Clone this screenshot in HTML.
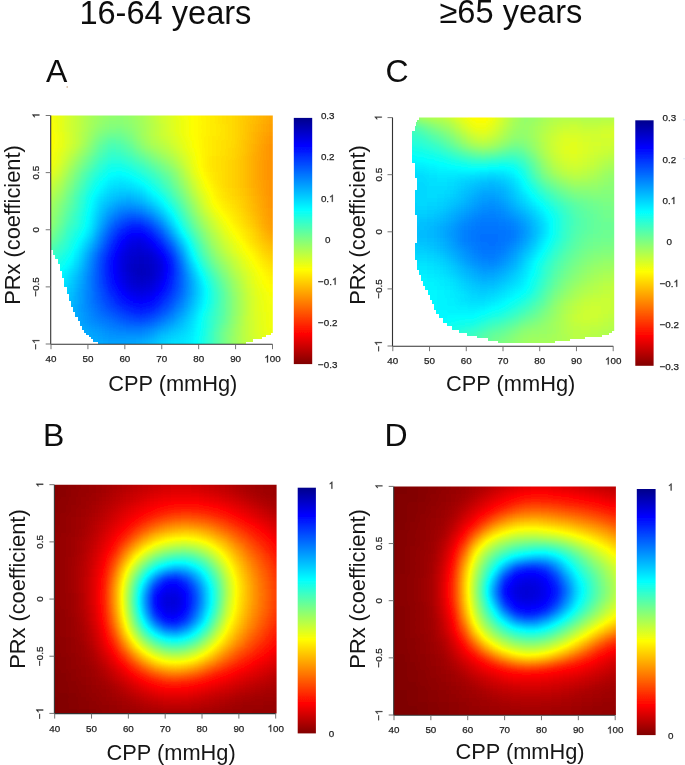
<!DOCTYPE html>
<html><head><meta charset="utf-8"><title>Figure</title>
<style>
html,body{margin:0;padding:0;background:#fff}
svg{display:block}
text{font-family:"Liberation Sans", sans-serif;fill:#111}
.t{font-size:9.8px;fill:#222;stroke:#222;stroke-width:0.25px}
.h{fill:none;stroke:none}
.o{fill:#222;stroke:#222;stroke-width:50}
.ax{font-size:21.8px;fill:#151515}
.big{font-size:32px;fill:#111}
.ttl{font-size:32.6px;fill:#111}
</style></head><body>
<svg width="685" height="765" viewBox="0 0 685 765">
<defs>
<filter id="soft" filterUnits="userSpaceOnUse" x="0" y="0" width="685" height="765"><feGaussianBlur stdDeviation="0.6"/></filter>
<filter id="soft2" filterUnits="userSpaceOnUse" x="0" y="0" width="685" height="765"><feGaussianBlur stdDeviation="0.4"/></filter>
<filter id="jet" filterUnits="userSpaceOnUse" x="0" y="0" width="685" height="765" color-interpolation-filters="sRGB"><feGaussianBlur stdDeviation="2"/><feComponentTransfer><feFuncR type="table" tableValues="0 0 0 0 .5 1 1 1 .5"/><feFuncG type="table" tableValues="0 0 .5 1 1 1 .5 0 0"/><feFuncB type="table" tableValues=".5 1 1 1 .5 0 0 0 0"/></feComponentTransfer></filter>
<clipPath id="clipA"><rect x="51" y="115.5" width="221.8" height="228.5"/></clipPath>
<linearGradient id="gA0"><stop offset="0" stop-color="#a3a3a3"/><stop offset=".0417" stop-color="#9e9e9e"/><stop offset=".0833" stop-color="#999999"/><stop offset=".125" stop-color="#949494"/><stop offset=".1667" stop-color="#8f8f8f"/><stop offset=".2083" stop-color="#8b8b8b"/><stop offset=".25" stop-color="#888888"/><stop offset=".2917" stop-color="#858585"/><stop offset=".3333" stop-color="#858585"/><stop offset=".375" stop-color="#878787"/><stop offset=".4167" stop-color="#8a8a8a"/><stop offset=".4583" stop-color="#8e8e8e"/><stop offset=".5" stop-color="#939393"/><stop offset=".5417" stop-color="#989898"/><stop offset=".5833" stop-color="#9c9c9c"/><stop offset=".625" stop-color="#9f9f9f"/><stop offset=".6667" stop-color="#a2a2a2"/><stop offset=".7083" stop-color="#a5a5a5"/><stop offset=".75" stop-color="#a7a7a7"/><stop offset=".7917" stop-color="#a9a9a9"/><stop offset=".8333" stop-color="#acacac"/><stop offset=".875" stop-color="#afafaf"/><stop offset=".9167" stop-color="#b2b2b2"/><stop offset=".9583" stop-color="#b4b4b4"/><stop offset="1" stop-color="#b7b7b7"/></linearGradient>
<linearGradient id="gA1"><stop offset="0" stop-color="#a3a3a3"/><stop offset=".0417" stop-color="#9f9f9f"/><stop offset=".0833" stop-color="#999999"/><stop offset=".125" stop-color="#949494"/><stop offset=".1667" stop-color="#8f8f8f"/><stop offset=".2083" stop-color="#8b8b8b"/><stop offset=".25" stop-color="#878787"/><stop offset=".2917" stop-color="#858585"/><stop offset=".3333" stop-color="#858585"/><stop offset=".375" stop-color="#868686"/><stop offset=".4167" stop-color="#8a8a8a"/><stop offset=".4583" stop-color="#8e8e8e"/><stop offset=".5" stop-color="#939393"/><stop offset=".5417" stop-color="#989898"/><stop offset=".5833" stop-color="#9c9c9c"/><stop offset=".625" stop-color="#9f9f9f"/><stop offset=".6667" stop-color="#a2a2a2"/><stop offset=".7083" stop-color="#a5a5a5"/><stop offset=".75" stop-color="#a7a7a7"/><stop offset=".7917" stop-color="#a9a9a9"/><stop offset=".8333" stop-color="#acacac"/><stop offset=".875" stop-color="#afafaf"/><stop offset=".9167" stop-color="#b2b2b2"/><stop offset=".9583" stop-color="#b5b5b5"/><stop offset="1" stop-color="#b7b7b7"/></linearGradient>
<linearGradient id="gA2"><stop offset="0" stop-color="#a3a3a3"/><stop offset=".0417" stop-color="#9f9f9f"/><stop offset=".0833" stop-color="#999999"/><stop offset=".125" stop-color="#949494"/><stop offset=".1667" stop-color="#8f8f8f"/><stop offset=".2083" stop-color="#8a8a8a"/><stop offset=".25" stop-color="#878787"/><stop offset=".2917" stop-color="#848484"/><stop offset=".3333" stop-color="#848484"/><stop offset=".375" stop-color="#868686"/><stop offset=".4167" stop-color="#898989"/><stop offset=".4583" stop-color="#8e8e8e"/><stop offset=".5" stop-color="#939393"/><stop offset=".5417" stop-color="#989898"/><stop offset=".5833" stop-color="#9c9c9c"/><stop offset=".625" stop-color="#9f9f9f"/><stop offset=".6667" stop-color="#a2a2a2"/><stop offset=".7083" stop-color="#a5a5a5"/><stop offset=".75" stop-color="#a7a7a7"/><stop offset=".7917" stop-color="#a9a9a9"/><stop offset=".8333" stop-color="#acacac"/><stop offset=".875" stop-color="#b0b0b0"/><stop offset=".9167" stop-color="#b3b3b3"/><stop offset=".9583" stop-color="#b6b6b6"/><stop offset="1" stop-color="#b8b8b8"/></linearGradient>
<linearGradient id="gA3"><stop offset="0" stop-color="#a3a3a3"/><stop offset=".0417" stop-color="#9f9f9f"/><stop offset=".0833" stop-color="#9a9a9a"/><stop offset=".125" stop-color="#949494"/><stop offset=".1667" stop-color="#8f8f8f"/><stop offset=".2083" stop-color="#8a8a8a"/><stop offset=".25" stop-color="#868686"/><stop offset=".2917" stop-color="#848484"/><stop offset=".3333" stop-color="#838383"/><stop offset=".375" stop-color="#858585"/><stop offset=".4167" stop-color="#898989"/><stop offset=".4583" stop-color="#8e8e8e"/><stop offset=".5" stop-color="#939393"/><stop offset=".5417" stop-color="#979797"/><stop offset=".5833" stop-color="#9c9c9c"/><stop offset=".625" stop-color="#9f9f9f"/><stop offset=".6667" stop-color="#a2a2a2"/><stop offset=".7083" stop-color="#a4a4a4"/><stop offset=".75" stop-color="#a7a7a7"/><stop offset=".7917" stop-color="#a9a9a9"/><stop offset=".8333" stop-color="#acacac"/><stop offset=".875" stop-color="#b0b0b0"/><stop offset=".9167" stop-color="#b3b3b3"/><stop offset=".9583" stop-color="#b6b6b6"/><stop offset="1" stop-color="#b8b8b8"/></linearGradient>
<linearGradient id="gA4"><stop offset="0" stop-color="#a4a4a4"/><stop offset=".0417" stop-color="#9f9f9f"/><stop offset=".0833" stop-color="#9a9a9a"/><stop offset=".125" stop-color="#949494"/><stop offset=".1667" stop-color="#8f8f8f"/><stop offset=".2083" stop-color="#898989"/><stop offset=".25" stop-color="#858585"/><stop offset=".2917" stop-color="#828282"/><stop offset=".3333" stop-color="#828282"/><stop offset=".375" stop-color="#848484"/><stop offset=".4167" stop-color="#888888"/><stop offset=".4583" stop-color="#8d8d8d"/><stop offset=".5" stop-color="#939393"/><stop offset=".5417" stop-color="#979797"/><stop offset=".5833" stop-color="#9b9b9b"/><stop offset=".625" stop-color="#9f9f9f"/><stop offset=".6667" stop-color="#a2a2a2"/><stop offset=".7083" stop-color="#a4a4a4"/><stop offset=".75" stop-color="#a7a7a7"/><stop offset=".7917" stop-color="#a9a9a9"/><stop offset=".8333" stop-color="#adadad"/><stop offset=".875" stop-color="#b0b0b0"/><stop offset=".9167" stop-color="#b4b4b4"/><stop offset=".9583" stop-color="#b7b7b7"/><stop offset="1" stop-color="#b9b9b9"/></linearGradient>
<linearGradient id="gA5"><stop offset="0" stop-color="#a4a4a4"/><stop offset=".0417" stop-color="#a0a0a0"/><stop offset=".0833" stop-color="#9a9a9a"/><stop offset=".125" stop-color="#949494"/><stop offset=".1667" stop-color="#8f8f8f"/><stop offset=".2083" stop-color="#898989"/><stop offset=".25" stop-color="#848484"/><stop offset=".2917" stop-color="#818181"/><stop offset=".3333" stop-color="#818181"/><stop offset=".375" stop-color="#838383"/><stop offset=".4167" stop-color="#888888"/><stop offset=".4583" stop-color="#8d8d8d"/><stop offset=".5" stop-color="#929292"/><stop offset=".5417" stop-color="#979797"/><stop offset=".5833" stop-color="#9b9b9b"/><stop offset=".625" stop-color="#9f9f9f"/><stop offset=".6667" stop-color="#a2a2a2"/><stop offset=".7083" stop-color="#a4a4a4"/><stop offset=".75" stop-color="#a6a6a6"/><stop offset=".7917" stop-color="#a9a9a9"/><stop offset=".8333" stop-color="#adadad"/><stop offset=".875" stop-color="#b1b1b1"/><stop offset=".9167" stop-color="#b5b5b5"/><stop offset=".9583" stop-color="#b8b8b8"/><stop offset="1" stop-color="#b9b9b9"/></linearGradient>
<linearGradient id="gA6"><stop offset="0" stop-color="#a4a4a4"/><stop offset=".0417" stop-color="#a0a0a0"/><stop offset=".0833" stop-color="#9a9a9a"/><stop offset=".125" stop-color="#949494"/><stop offset=".1667" stop-color="#8f8f8f"/><stop offset=".2083" stop-color="#888888"/><stop offset=".25" stop-color="#828282"/><stop offset=".2917" stop-color="#7f7f7f"/><stop offset=".3333" stop-color="#7e7e7e"/><stop offset=".375" stop-color="#828282"/><stop offset=".4167" stop-color="#878787"/><stop offset=".4583" stop-color="#8d8d8d"/><stop offset=".5" stop-color="#929292"/><stop offset=".5417" stop-color="#979797"/><stop offset=".5833" stop-color="#9b9b9b"/><stop offset=".625" stop-color="#9f9f9f"/><stop offset=".6667" stop-color="#a2a2a2"/><stop offset=".7083" stop-color="#a4a4a4"/><stop offset=".75" stop-color="#a6a6a6"/><stop offset=".7917" stop-color="#a9a9a9"/><stop offset=".8333" stop-color="#adadad"/><stop offset=".875" stop-color="#b1b1b1"/><stop offset=".9167" stop-color="#b5b5b5"/><stop offset=".9583" stop-color="#b8b8b8"/><stop offset="1" stop-color="#bababa"/></linearGradient>
<linearGradient id="gA7"><stop offset="0" stop-color="#a4a4a4"/><stop offset=".0417" stop-color="#a0a0a0"/><stop offset=".0833" stop-color="#9b9b9b"/><stop offset=".125" stop-color="#959595"/><stop offset=".1667" stop-color="#8e8e8e"/><stop offset=".2083" stop-color="#878787"/><stop offset=".25" stop-color="#808080"/><stop offset=".2917" stop-color="#7c7c7c"/><stop offset=".3333" stop-color="#7c7c7c"/><stop offset=".375" stop-color="#808080"/><stop offset=".4167" stop-color="#878787"/><stop offset=".4583" stop-color="#8d8d8d"/><stop offset=".5" stop-color="#929292"/><stop offset=".5417" stop-color="#969696"/><stop offset=".5833" stop-color="#9b9b9b"/><stop offset=".625" stop-color="#9f9f9f"/><stop offset=".6667" stop-color="#a2a2a2"/><stop offset=".7083" stop-color="#a4a4a4"/><stop offset=".75" stop-color="#a6a6a6"/><stop offset=".7917" stop-color="#a9a9a9"/><stop offset=".8333" stop-color="#adadad"/><stop offset=".875" stop-color="#b2b2b2"/><stop offset=".9167" stop-color="#b6b6b6"/><stop offset=".9583" stop-color="#b9b9b9"/><stop offset="1" stop-color="#bbbbbb"/></linearGradient>
<linearGradient id="gA8"><stop offset="0" stop-color="#a4a4a4"/><stop offset=".0417" stop-color="#a1a1a1"/><stop offset=".0833" stop-color="#9b9b9b"/><stop offset=".125" stop-color="#959595"/><stop offset=".1667" stop-color="#8e8e8e"/><stop offset=".2083" stop-color="#868686"/><stop offset=".25" stop-color="#7d7d7d"/><stop offset=".2917" stop-color="#787878"/><stop offset=".3333" stop-color="#797979"/><stop offset=".375" stop-color="#7e7e7e"/><stop offset=".4167" stop-color="#868686"/><stop offset=".4583" stop-color="#8c8c8c"/><stop offset=".5" stop-color="#919191"/><stop offset=".5417" stop-color="#959595"/><stop offset=".5833" stop-color="#9a9a9a"/><stop offset=".625" stop-color="#9f9f9f"/><stop offset=".6667" stop-color="#a2a2a2"/><stop offset=".7083" stop-color="#a5a5a5"/><stop offset=".75" stop-color="#a6a6a6"/><stop offset=".7917" stop-color="#a9a9a9"/><stop offset=".8333" stop-color="#adadad"/><stop offset=".875" stop-color="#b2b2b2"/><stop offset=".9167" stop-color="#b7b7b7"/><stop offset=".9583" stop-color="#bababa"/><stop offset="1" stop-color="#bbbbbb"/></linearGradient>
<linearGradient id="gA9"><stop offset="0" stop-color="#a4a4a4"/><stop offset=".0417" stop-color="#a1a1a1"/><stop offset=".0833" stop-color="#9b9b9b"/><stop offset=".125" stop-color="#959595"/><stop offset=".1667" stop-color="#8e8e8e"/><stop offset=".2083" stop-color="#848484"/><stop offset=".25" stop-color="#7b7b7b"/><stop offset=".2917" stop-color="#757575"/><stop offset=".3333" stop-color="#767676"/><stop offset=".375" stop-color="#7c7c7c"/><stop offset=".4167" stop-color="#848484"/><stop offset=".4583" stop-color="#8b8b8b"/><stop offset=".5" stop-color="#8f8f8f"/><stop offset=".5417" stop-color="#949494"/><stop offset=".5833" stop-color="#999999"/><stop offset=".625" stop-color="#9e9e9e"/><stop offset=".6667" stop-color="#a2a2a2"/><stop offset=".7083" stop-color="#a5a5a5"/><stop offset=".75" stop-color="#a7a7a7"/><stop offset=".7917" stop-color="#a9a9a9"/><stop offset=".8333" stop-color="#aeaeae"/><stop offset=".875" stop-color="#b2b2b2"/><stop offset=".9167" stop-color="#b7b7b7"/><stop offset=".9583" stop-color="#bababa"/><stop offset="1" stop-color="#bbbbbb"/></linearGradient>
<linearGradient id="gA10"><stop offset="0" stop-color="#a3a3a3"/><stop offset=".0417" stop-color="#a0a0a0"/><stop offset=".0833" stop-color="#9b9b9b"/><stop offset=".125" stop-color="#949494"/><stop offset=".1667" stop-color="#8d8d8d"/><stop offset=".2083" stop-color="#828282"/><stop offset=".25" stop-color="#787878"/><stop offset=".2917" stop-color="#727272"/><stop offset=".3333" stop-color="#737373"/><stop offset=".375" stop-color="#797979"/><stop offset=".4167" stop-color="#828282"/><stop offset=".4583" stop-color="#898989"/><stop offset=".5" stop-color="#8d8d8d"/><stop offset=".5417" stop-color="#929292"/><stop offset=".5833" stop-color="#989898"/><stop offset=".625" stop-color="#9e9e9e"/><stop offset=".6667" stop-color="#a2a2a2"/><stop offset=".7083" stop-color="#a5a5a5"/><stop offset=".75" stop-color="#a7a7a7"/><stop offset=".7917" stop-color="#a9a9a9"/><stop offset=".8333" stop-color="#aeaeae"/><stop offset=".875" stop-color="#b3b3b3"/><stop offset=".9167" stop-color="#b8b8b8"/><stop offset=".9583" stop-color="#bbbbbb"/><stop offset="1" stop-color="#bcbcbc"/></linearGradient>
<linearGradient id="gA11"><stop offset="0" stop-color="#a3a3a3"/><stop offset=".0417" stop-color="#a0a0a0"/><stop offset=".0833" stop-color="#9a9a9a"/><stop offset=".125" stop-color="#939393"/><stop offset=".1667" stop-color="#8a8a8a"/><stop offset=".2083" stop-color="#808080"/><stop offset=".25" stop-color="#767676"/><stop offset=".2917" stop-color="#707070"/><stop offset=".3333" stop-color="#717171"/><stop offset=".375" stop-color="#767676"/><stop offset=".4167" stop-color="#7f7f7f"/><stop offset=".4583" stop-color="#868686"/><stop offset=".5" stop-color="#8b8b8b"/><stop offset=".5417" stop-color="#909090"/><stop offset=".5833" stop-color="#979797"/><stop offset=".625" stop-color="#9d9d9d"/><stop offset=".6667" stop-color="#a2a2a2"/><stop offset=".7083" stop-color="#a5a5a5"/><stop offset=".75" stop-color="#a7a7a7"/><stop offset=".7917" stop-color="#aaaaaa"/><stop offset=".8333" stop-color="#aeaeae"/><stop offset=".875" stop-color="#b3b3b3"/><stop offset=".9167" stop-color="#b8b8b8"/><stop offset=".9583" stop-color="#bbbbbb"/><stop offset="1" stop-color="#bcbcbc"/></linearGradient>
<linearGradient id="gA12"><stop offset="0" stop-color="#a2a2a2"/><stop offset=".0417" stop-color="#9f9f9f"/><stop offset=".0833" stop-color="#999999"/><stop offset=".125" stop-color="#919191"/><stop offset=".1667" stop-color="#888888"/><stop offset=".2083" stop-color="#7d7d7d"/><stop offset=".25" stop-color="#737373"/><stop offset=".2917" stop-color="#6d6d6d"/><stop offset=".3333" stop-color="#6e6e6e"/><stop offset=".375" stop-color="#737373"/><stop offset=".4167" stop-color="#7b7b7b"/><stop offset=".4583" stop-color="#828282"/><stop offset=".5" stop-color="#888888"/><stop offset=".5417" stop-color="#8e8e8e"/><stop offset=".5833" stop-color="#959595"/><stop offset=".625" stop-color="#9c9c9c"/><stop offset=".6667" stop-color="#a2a2a2"/><stop offset=".7083" stop-color="#a5a5a5"/><stop offset=".75" stop-color="#a7a7a7"/><stop offset=".7917" stop-color="#aaaaaa"/><stop offset=".8333" stop-color="#aeaeae"/><stop offset=".875" stop-color="#b4b4b4"/><stop offset=".9167" stop-color="#b8b8b8"/><stop offset=".9583" stop-color="#bbbbbb"/><stop offset="1" stop-color="#bcbcbc"/></linearGradient>
<linearGradient id="gA13"><stop offset="0" stop-color="#a1a1a1"/><stop offset=".0417" stop-color="#9f9f9f"/><stop offset=".0833" stop-color="#989898"/><stop offset=".125" stop-color="#8f8f8f"/><stop offset=".1667" stop-color="#858585"/><stop offset=".2083" stop-color="#7a7a7a"/><stop offset=".25" stop-color="#717171"/><stop offset=".2917" stop-color="#6b6b6b"/><stop offset=".3333" stop-color="#6b6b6b"/><stop offset=".375" stop-color="#707070"/><stop offset=".4167" stop-color="#777777"/><stop offset=".4583" stop-color="#7e7e7e"/><stop offset=".5" stop-color="#848484"/><stop offset=".5417" stop-color="#8b8b8b"/><stop offset=".5833" stop-color="#939393"/><stop offset=".625" stop-color="#9b9b9b"/><stop offset=".6667" stop-color="#a2a2a2"/><stop offset=".7083" stop-color="#a6a6a6"/><stop offset=".75" stop-color="#a8a8a8"/><stop offset=".7917" stop-color="#aaaaaa"/><stop offset=".8333" stop-color="#afafaf"/><stop offset=".875" stop-color="#b4b4b4"/><stop offset=".9167" stop-color="#b8b8b8"/><stop offset=".9583" stop-color="#bbbbbb"/><stop offset="1" stop-color="#bcbcbc"/></linearGradient>
<linearGradient id="gA14"><stop offset="0" stop-color="#a0a0a0"/><stop offset=".0417" stop-color="#9e9e9e"/><stop offset=".0833" stop-color="#979797"/><stop offset=".125" stop-color="#8d8d8d"/><stop offset=".1667" stop-color="#828282"/><stop offset=".2083" stop-color="#787878"/><stop offset=".25" stop-color="#6e6e6e"/><stop offset=".2917" stop-color="#686868"/><stop offset=".3333" stop-color="#686868"/><stop offset=".375" stop-color="#6c6c6c"/><stop offset=".4167" stop-color="#737373"/><stop offset=".4583" stop-color="#7a7a7a"/><stop offset=".5" stop-color="#818181"/><stop offset=".5417" stop-color="#888888"/><stop offset=".5833" stop-color="#919191"/><stop offset=".625" stop-color="#9a9a9a"/><stop offset=".6667" stop-color="#a2a2a2"/><stop offset=".7083" stop-color="#a6a6a6"/><stop offset=".75" stop-color="#a8a8a8"/><stop offset=".7917" stop-color="#ababab"/><stop offset=".8333" stop-color="#afafaf"/><stop offset=".875" stop-color="#b4b4b4"/><stop offset=".9167" stop-color="#b9b9b9"/><stop offset=".9583" stop-color="#bbbbbb"/><stop offset="1" stop-color="#bcbcbc"/></linearGradient>
<linearGradient id="gA15"><stop offset="0" stop-color="#9f9f9f"/><stop offset=".0417" stop-color="#9d9d9d"/><stop offset=".0833" stop-color="#959595"/><stop offset=".125" stop-color="#8b8b8b"/><stop offset=".1667" stop-color="#7f7f7f"/><stop offset=".2083" stop-color="#757575"/><stop offset=".25" stop-color="#6b6b6b"/><stop offset=".2917" stop-color="#656565"/><stop offset=".3333" stop-color="#656565"/><stop offset=".375" stop-color="#696969"/><stop offset=".4167" stop-color="#6f6f6f"/><stop offset=".4583" stop-color="#767676"/><stop offset=".5" stop-color="#7d7d7d"/><stop offset=".5417" stop-color="#858585"/><stop offset=".5833" stop-color="#8f8f8f"/><stop offset=".625" stop-color="#999999"/><stop offset=".6667" stop-color="#a2a2a2"/><stop offset=".7083" stop-color="#a6a6a6"/><stop offset=".75" stop-color="#a8a8a8"/><stop offset=".7917" stop-color="#ababab"/><stop offset=".8333" stop-color="#afafaf"/><stop offset=".875" stop-color="#b4b4b4"/><stop offset=".9167" stop-color="#b9b9b9"/><stop offset=".9583" stop-color="#bbbbbb"/><stop offset="1" stop-color="#bcbcbc"/></linearGradient>
<linearGradient id="gA16"><stop offset="0" stop-color="#9e9e9e"/><stop offset=".0417" stop-color="#9b9b9b"/><stop offset=".0833" stop-color="#949494"/><stop offset=".125" stop-color="#888888"/><stop offset=".1667" stop-color="#7d7d7d"/><stop offset=".2083" stop-color="#727272"/><stop offset=".25" stop-color="#696969"/><stop offset=".2917" stop-color="#636363"/><stop offset=".3333" stop-color="#626262"/><stop offset=".375" stop-color="#656565"/><stop offset=".4167" stop-color="#6b6b6b"/><stop offset=".4583" stop-color="#727272"/><stop offset=".5" stop-color="#797979"/><stop offset=".5417" stop-color="#818181"/><stop offset=".5833" stop-color="#8c8c8c"/><stop offset=".625" stop-color="#989898"/><stop offset=".6667" stop-color="#a1a1a1"/><stop offset=".7083" stop-color="#a6a6a6"/><stop offset=".75" stop-color="#a8a8a8"/><stop offset=".7917" stop-color="#ababab"/><stop offset=".8333" stop-color="#afafaf"/><stop offset=".875" stop-color="#b4b4b4"/><stop offset=".9167" stop-color="#b9b9b9"/><stop offset=".9583" stop-color="#bbbbbb"/><stop offset="1" stop-color="#bcbcbc"/></linearGradient>
<linearGradient id="gA17"><stop offset="0" stop-color="#9c9c9c"/><stop offset=".0417" stop-color="#9a9a9a"/><stop offset=".0833" stop-color="#929292"/><stop offset=".125" stop-color="#868686"/><stop offset=".1667" stop-color="#7a7a7a"/><stop offset=".2083" stop-color="#6f6f6f"/><stop offset=".25" stop-color="#666666"/><stop offset=".2917" stop-color="#606060"/><stop offset=".3333" stop-color="#5f5f5f"/><stop offset=".375" stop-color="#626262"/><stop offset=".4167" stop-color="#676767"/><stop offset=".4583" stop-color="#6e6e6e"/><stop offset=".5" stop-color="#767676"/><stop offset=".5417" stop-color="#7e7e7e"/><stop offset=".5833" stop-color="#8a8a8a"/><stop offset=".625" stop-color="#969696"/><stop offset=".6667" stop-color="#a0a0a0"/><stop offset=".7083" stop-color="#a5a5a5"/><stop offset=".75" stop-color="#a8a8a8"/><stop offset=".7917" stop-color="#ababab"/><stop offset=".8333" stop-color="#afafaf"/><stop offset=".875" stop-color="#b4b4b4"/><stop offset=".9167" stop-color="#b9b9b9"/><stop offset=".9583" stop-color="#bbbbbb"/><stop offset="1" stop-color="#bcbcbc"/></linearGradient>
<linearGradient id="gA18"><stop offset="0" stop-color="#9b9b9b"/><stop offset=".0417" stop-color="#989898"/><stop offset=".0833" stop-color="#8f8f8f"/><stop offset=".125" stop-color="#848484"/><stop offset=".1667" stop-color="#787878"/><stop offset=".2083" stop-color="#6d6d6d"/><stop offset=".25" stop-color="#646464"/><stop offset=".2917" stop-color="#5e5e5e"/><stop offset=".3333" stop-color="#5c5c5c"/><stop offset=".375" stop-color="#5f5f5f"/><stop offset=".4167" stop-color="#646464"/><stop offset=".4583" stop-color="#6a6a6a"/><stop offset=".5" stop-color="#727272"/><stop offset=".5417" stop-color="#7c7c7c"/><stop offset=".5833" stop-color="#888888"/><stop offset=".625" stop-color="#949494"/><stop offset=".6667" stop-color="#9f9f9f"/><stop offset=".7083" stop-color="#a5a5a5"/><stop offset=".75" stop-color="#a8a8a8"/><stop offset=".7917" stop-color="#ababab"/><stop offset=".8333" stop-color="#afafaf"/><stop offset=".875" stop-color="#b4b4b4"/><stop offset=".9167" stop-color="#b9b9b9"/><stop offset=".9583" stop-color="#bbbbbb"/><stop offset="1" stop-color="#bcbcbc"/></linearGradient>
<linearGradient id="gA19"><stop offset="0" stop-color="#999999"/><stop offset=".0417" stop-color="#959595"/><stop offset=".0833" stop-color="#8d8d8d"/><stop offset=".125" stop-color="#828282"/><stop offset=".1667" stop-color="#767676"/><stop offset=".2083" stop-color="#6a6a6a"/><stop offset=".25" stop-color="#616161"/><stop offset=".2917" stop-color="#5b5b5b"/><stop offset=".3333" stop-color="#595959"/><stop offset=".375" stop-color="#5b5b5b"/><stop offset=".4167" stop-color="#606060"/><stop offset=".4583" stop-color="#676767"/><stop offset=".5" stop-color="#6f6f6f"/><stop offset=".5417" stop-color="#797979"/><stop offset=".5833" stop-color="#858585"/><stop offset=".625" stop-color="#929292"/><stop offset=".6667" stop-color="#9d9d9d"/><stop offset=".7083" stop-color="#a4a4a4"/><stop offset=".75" stop-color="#a8a8a8"/><stop offset=".7917" stop-color="#ababab"/><stop offset=".8333" stop-color="#afafaf"/><stop offset=".875" stop-color="#b4b4b4"/><stop offset=".9167" stop-color="#b8b8b8"/><stop offset=".9583" stop-color="#bbbbbb"/><stop offset="1" stop-color="#bcbcbc"/></linearGradient>
<linearGradient id="gA20"><stop offset="0" stop-color="#989898"/><stop offset=".0417" stop-color="#939393"/><stop offset=".0833" stop-color="#8b8b8b"/><stop offset=".125" stop-color="#808080"/><stop offset=".1667" stop-color="#747474"/><stop offset=".2083" stop-color="#686868"/><stop offset=".25" stop-color="#5f5f5f"/><stop offset=".2917" stop-color="#595959"/><stop offset=".3333" stop-color="#575757"/><stop offset=".375" stop-color="#585858"/><stop offset=".4167" stop-color="#5d5d5d"/><stop offset=".4583" stop-color="#646464"/><stop offset=".5" stop-color="#6c6c6c"/><stop offset=".5417" stop-color="#777777"/><stop offset=".5833" stop-color="#838383"/><stop offset=".625" stop-color="#909090"/><stop offset=".6667" stop-color="#9c9c9c"/><stop offset=".7083" stop-color="#a3a3a3"/><stop offset=".75" stop-color="#a8a8a8"/><stop offset=".7917" stop-color="#ababab"/><stop offset=".8333" stop-color="#afafaf"/><stop offset=".875" stop-color="#b4b4b4"/><stop offset=".9167" stop-color="#b8b8b8"/><stop offset=".9583" stop-color="#bbbbbb"/><stop offset="1" stop-color="#bcbcbc"/></linearGradient>
<linearGradient id="gA21"><stop offset="0" stop-color="#969696"/><stop offset=".0417" stop-color="#919191"/><stop offset=".0833" stop-color="#898989"/><stop offset=".125" stop-color="#7e7e7e"/><stop offset=".1667" stop-color="#727272"/><stop offset=".2083" stop-color="#666666"/><stop offset=".25" stop-color="#5d5d5d"/><stop offset=".2917" stop-color="#565656"/><stop offset=".3333" stop-color="#545454"/><stop offset=".375" stop-color="#555555"/><stop offset=".4167" stop-color="#595959"/><stop offset=".4583" stop-color="#606060"/><stop offset=".5" stop-color="#696969"/><stop offset=".5417" stop-color="#747474"/><stop offset=".5833" stop-color="#808080"/><stop offset=".625" stop-color="#8e8e8e"/><stop offset=".6667" stop-color="#9a9a9a"/><stop offset=".7083" stop-color="#a2a2a2"/><stop offset=".75" stop-color="#a7a7a7"/><stop offset=".7917" stop-color="#aaaaaa"/><stop offset=".8333" stop-color="#aeaeae"/><stop offset=".875" stop-color="#b3b3b3"/><stop offset=".9167" stop-color="#b8b8b8"/><stop offset=".9583" stop-color="#bbbbbb"/><stop offset="1" stop-color="#bcbcbc"/></linearGradient>
<linearGradient id="gA22"><stop offset="0" stop-color="#959595"/><stop offset=".0417" stop-color="#8f8f8f"/><stop offset=".0833" stop-color="#878787"/><stop offset=".125" stop-color="#7c7c7c"/><stop offset=".1667" stop-color="#707070"/><stop offset=".2083" stop-color="#646464"/><stop offset=".25" stop-color="#5b5b5b"/><stop offset=".2917" stop-color="#545454"/><stop offset=".3333" stop-color="#515151"/><stop offset=".375" stop-color="#515151"/><stop offset=".4167" stop-color="#555555"/><stop offset=".4583" stop-color="#5d5d5d"/><stop offset=".5" stop-color="#666666"/><stop offset=".5417" stop-color="#717171"/><stop offset=".5833" stop-color="#7e7e7e"/><stop offset=".625" stop-color="#8c8c8c"/><stop offset=".6667" stop-color="#989898"/><stop offset=".7083" stop-color="#a1a1a1"/><stop offset=".75" stop-color="#a6a6a6"/><stop offset=".7917" stop-color="#aaaaaa"/><stop offset=".8333" stop-color="#aeaeae"/><stop offset=".875" stop-color="#b3b3b3"/><stop offset=".9167" stop-color="#b8b8b8"/><stop offset=".9583" stop-color="#bbbbbb"/><stop offset="1" stop-color="#bcbcbc"/></linearGradient>
<linearGradient id="gA23"><stop offset="0" stop-color="#939393"/><stop offset=".0417" stop-color="#8d8d8d"/><stop offset=".0833" stop-color="#858585"/><stop offset=".125" stop-color="#7a7a7a"/><stop offset=".1667" stop-color="#6e6e6e"/><stop offset=".2083" stop-color="#626262"/><stop offset=".25" stop-color="#585858"/><stop offset=".2917" stop-color="#515151"/><stop offset=".3333" stop-color="#4e4e4e"/><stop offset=".375" stop-color="#4d4d4d"/><stop offset=".4167" stop-color="#515151"/><stop offset=".4583" stop-color="#595959"/><stop offset=".5" stop-color="#626262"/><stop offset=".5417" stop-color="#6e6e6e"/><stop offset=".5833" stop-color="#7b7b7b"/><stop offset=".625" stop-color="#898989"/><stop offset=".6667" stop-color="#969696"/><stop offset=".7083" stop-color="#a0a0a0"/><stop offset=".75" stop-color="#a6a6a6"/><stop offset=".7917" stop-color="#a9a9a9"/><stop offset=".8333" stop-color="#adadad"/><stop offset=".875" stop-color="#b2b2b2"/><stop offset=".9167" stop-color="#b7b7b7"/><stop offset=".9583" stop-color="#bbbbbb"/><stop offset="1" stop-color="#bcbcbc"/></linearGradient>
<linearGradient id="gA24"><stop offset="0" stop-color="#929292"/><stop offset=".0417" stop-color="#8b8b8b"/><stop offset=".0833" stop-color="#838383"/><stop offset=".125" stop-color="#797979"/><stop offset=".1667" stop-color="#6d6d6d"/><stop offset=".2083" stop-color="#616161"/><stop offset=".25" stop-color="#565656"/><stop offset=".2917" stop-color="#4f4f4f"/><stop offset=".3333" stop-color="#4a4a4a"/><stop offset=".375" stop-color="#494949"/><stop offset=".4167" stop-color="#4d4d4d"/><stop offset=".4583" stop-color="#545454"/><stop offset=".5" stop-color="#5e5e5e"/><stop offset=".5417" stop-color="#6a6a6a"/><stop offset=".5833" stop-color="#787878"/><stop offset=".625" stop-color="#878787"/><stop offset=".6667" stop-color="#949494"/><stop offset=".7083" stop-color="#9f9f9f"/><stop offset=".75" stop-color="#a4a4a4"/><stop offset=".7917" stop-color="#a8a8a8"/><stop offset=".8333" stop-color="#acacac"/><stop offset=".875" stop-color="#b2b2b2"/><stop offset=".9167" stop-color="#b7b7b7"/><stop offset=".9583" stop-color="#bbbbbb"/><stop offset="1" stop-color="#bcbcbc"/></linearGradient>
<linearGradient id="gA25"><stop offset="0" stop-color="#919191"/><stop offset=".0417" stop-color="#8a8a8a"/><stop offset=".0833" stop-color="#818181"/><stop offset=".125" stop-color="#777777"/><stop offset=".1667" stop-color="#6c6c6c"/><stop offset=".2083" stop-color="#606060"/><stop offset=".25" stop-color="#545454"/><stop offset=".2917" stop-color="#4b4b4b"/><stop offset=".3333" stop-color="#464646"/><stop offset=".375" stop-color="#444444"/><stop offset=".4167" stop-color="#474747"/><stop offset=".4583" stop-color="#4f4f4f"/><stop offset=".5" stop-color="#5a5a5a"/><stop offset=".5417" stop-color="#676767"/><stop offset=".5833" stop-color="#757575"/><stop offset=".625" stop-color="#848484"/><stop offset=".6667" stop-color="#929292"/><stop offset=".7083" stop-color="#9d9d9d"/><stop offset=".75" stop-color="#a3a3a3"/><stop offset=".7917" stop-color="#a7a7a7"/><stop offset=".8333" stop-color="#acacac"/><stop offset=".875" stop-color="#b1b1b1"/><stop offset=".9167" stop-color="#b7b7b7"/><stop offset=".9583" stop-color="#bbbbbb"/><stop offset="1" stop-color="#bcbcbc"/></linearGradient>
<linearGradient id="gA26"><stop offset="0" stop-color="#909090"/><stop offset=".0417" stop-color="#898989"/><stop offset=".0833" stop-color="#808080"/><stop offset=".125" stop-color="#767676"/><stop offset=".1667" stop-color="#6b6b6b"/><stop offset=".2083" stop-color="#5f5f5f"/><stop offset=".25" stop-color="#525252"/><stop offset=".2917" stop-color="#484848"/><stop offset=".3333" stop-color="#414141"/><stop offset=".375" stop-color="#3f3f3f"/><stop offset=".4167" stop-color="#424242"/><stop offset=".4583" stop-color="#4a4a4a"/><stop offset=".5" stop-color="#555555"/><stop offset=".5417" stop-color="#636363"/><stop offset=".5833" stop-color="#727272"/><stop offset=".625" stop-color="#828282"/><stop offset=".6667" stop-color="#909090"/><stop offset=".7083" stop-color="#9b9b9b"/><stop offset=".75" stop-color="#a2a2a2"/><stop offset=".7917" stop-color="#a6a6a6"/><stop offset=".8333" stop-color="#ababab"/><stop offset=".875" stop-color="#b1b1b1"/><stop offset=".9167" stop-color="#b6b6b6"/><stop offset=".9583" stop-color="#bababa"/><stop offset="1" stop-color="#bcbcbc"/></linearGradient>
<linearGradient id="gA27"><stop offset="0" stop-color="#8f8f8f"/><stop offset=".0417" stop-color="#888888"/><stop offset=".0833" stop-color="#7f7f7f"/><stop offset=".125" stop-color="#747474"/><stop offset=".1667" stop-color="#6a6a6a"/><stop offset=".2083" stop-color="#5e5e5e"/><stop offset=".25" stop-color="#505050"/><stop offset=".2917" stop-color="#454545"/><stop offset=".3333" stop-color="#3d3d3d"/><stop offset=".375" stop-color="#393939"/><stop offset=".4167" stop-color="#3c3c3c"/><stop offset=".4583" stop-color="#444444"/><stop offset=".5" stop-color="#505050"/><stop offset=".5417" stop-color="#5f5f5f"/><stop offset=".5833" stop-color="#6f6f6f"/><stop offset=".625" stop-color="#7f7f7f"/><stop offset=".6667" stop-color="#8d8d8d"/><stop offset=".7083" stop-color="#989898"/><stop offset=".75" stop-color="#a0a0a0"/><stop offset=".7917" stop-color="#a5a5a5"/><stop offset=".8333" stop-color="#aaaaaa"/><stop offset=".875" stop-color="#b0b0b0"/><stop offset=".9167" stop-color="#b6b6b6"/><stop offset=".9583" stop-color="#bababa"/><stop offset="1" stop-color="#bcbcbc"/></linearGradient>
<linearGradient id="gA28"><stop offset="0" stop-color="#8d8d8d"/><stop offset=".0417" stop-color="#878787"/><stop offset=".0833" stop-color="#7d7d7d"/><stop offset=".125" stop-color="#737373"/><stop offset=".1667" stop-color="#696969"/><stop offset=".2083" stop-color="#5d5d5d"/><stop offset=".25" stop-color="#4e4e4e"/><stop offset=".2917" stop-color="#414141"/><stop offset=".3333" stop-color="#383838"/><stop offset=".375" stop-color="#343434"/><stop offset=".4167" stop-color="#353535"/><stop offset=".4583" stop-color="#3e3e3e"/><stop offset=".5" stop-color="#4b4b4b"/><stop offset=".5417" stop-color="#5b5b5b"/><stop offset=".5833" stop-color="#6c6c6c"/><stop offset=".625" stop-color="#7c7c7c"/><stop offset=".6667" stop-color="#8a8a8a"/><stop offset=".7083" stop-color="#969696"/><stop offset=".75" stop-color="#9e9e9e"/><stop offset=".7917" stop-color="#a4a4a4"/><stop offset=".8333" stop-color="#a9a9a9"/><stop offset=".875" stop-color="#afafaf"/><stop offset=".9167" stop-color="#b5b5b5"/><stop offset=".9583" stop-color="#bababa"/><stop offset="1" stop-color="#bcbcbc"/></linearGradient>
<linearGradient id="gA29"><stop offset="0" stop-color="#8c8c8c"/><stop offset=".0417" stop-color="#868686"/><stop offset=".0833" stop-color="#7c7c7c"/><stop offset=".125" stop-color="#717171"/><stop offset=".1667" stop-color="#686868"/><stop offset=".2083" stop-color="#5c5c5c"/><stop offset=".25" stop-color="#4c4c4c"/><stop offset=".2917" stop-color="#3e3e3e"/><stop offset=".3333" stop-color="#343434"/><stop offset=".375" stop-color="#2e2e2e"/><stop offset=".4167" stop-color="#2f2f2f"/><stop offset=".4583" stop-color="#383838"/><stop offset=".5" stop-color="#454545"/><stop offset=".5417" stop-color="#575757"/><stop offset=".5833" stop-color="#696969"/><stop offset=".625" stop-color="#797979"/><stop offset=".6667" stop-color="#888888"/><stop offset=".7083" stop-color="#939393"/><stop offset=".75" stop-color="#9c9c9c"/><stop offset=".7917" stop-color="#a3a3a3"/><stop offset=".8333" stop-color="#a8a8a8"/><stop offset=".875" stop-color="#aeaeae"/><stop offset=".9167" stop-color="#b5b5b5"/><stop offset=".9583" stop-color="#b9b9b9"/><stop offset="1" stop-color="#bbbbbb"/></linearGradient>
<linearGradient id="gA30"><stop offset="0" stop-color="#8b8b8b"/><stop offset=".0417" stop-color="#848484"/><stop offset=".0833" stop-color="#7a7a7a"/><stop offset=".125" stop-color="#6f6f6f"/><stop offset=".1667" stop-color="#676767"/><stop offset=".2083" stop-color="#5b5b5b"/><stop offset=".25" stop-color="#4a4a4a"/><stop offset=".2917" stop-color="#3a3a3a"/><stop offset=".3333" stop-color="#2f2f2f"/><stop offset=".375" stop-color="#292929"/><stop offset=".4167" stop-color="#292929"/><stop offset=".4583" stop-color="#323232"/><stop offset=".5" stop-color="#404040"/><stop offset=".5417" stop-color="#525252"/><stop offset=".5833" stop-color="#656565"/><stop offset=".625" stop-color="#767676"/><stop offset=".6667" stop-color="#858585"/><stop offset=".7083" stop-color="#919191"/><stop offset=".75" stop-color="#9a9a9a"/><stop offset=".7917" stop-color="#a1a1a1"/><stop offset=".8333" stop-color="#a7a7a7"/><stop offset=".875" stop-color="#adadad"/><stop offset=".9167" stop-color="#b4b4b4"/><stop offset=".9583" stop-color="#b9b9b9"/><stop offset="1" stop-color="#bbbbbb"/></linearGradient>
<linearGradient id="gA31"><stop offset="0" stop-color="#898989"/><stop offset=".0417" stop-color="#838383"/><stop offset=".0833" stop-color="#787878"/><stop offset=".125" stop-color="#6d6d6d"/><stop offset=".1667" stop-color="#656565"/><stop offset=".2083" stop-color="#595959"/><stop offset=".25" stop-color="#474747"/><stop offset=".2917" stop-color="#373737"/><stop offset=".3333" stop-color="#2b2b2b"/><stop offset=".375" stop-color="#242424"/><stop offset=".4167" stop-color="#242424"/><stop offset=".4583" stop-color="#2c2c2c"/><stop offset=".5" stop-color="#3a3a3a"/><stop offset=".5417" stop-color="#4d4d4d"/><stop offset=".5833" stop-color="#626262"/><stop offset=".625" stop-color="#737373"/><stop offset=".6667" stop-color="#828282"/><stop offset=".7083" stop-color="#8f8f8f"/><stop offset=".75" stop-color="#989898"/><stop offset=".7917" stop-color="#a0a0a0"/><stop offset=".8333" stop-color="#a5a5a5"/><stop offset=".875" stop-color="#ababab"/><stop offset=".9167" stop-color="#b3b3b3"/><stop offset=".9583" stop-color="#b8b8b8"/><stop offset="1" stop-color="#bababa"/></linearGradient>
<linearGradient id="gA32"><stop offset="0" stop-color="#878787"/><stop offset=".0417" stop-color="#818181"/><stop offset=".0833" stop-color="#767676"/><stop offset=".125" stop-color="#6b6b6b"/><stop offset=".1667" stop-color="#636363"/><stop offset=".2083" stop-color="#575757"/><stop offset=".25" stop-color="#444444"/><stop offset=".2917" stop-color="#343434"/><stop offset=".3333" stop-color="#272727"/><stop offset=".375" stop-color="#202020"/><stop offset=".4167" stop-color="#202020"/><stop offset=".4583" stop-color="#282828"/><stop offset=".5" stop-color="#353535"/><stop offset=".5417" stop-color="#484848"/><stop offset=".5833" stop-color="#5d5d5d"/><stop offset=".625" stop-color="#707070"/><stop offset=".6667" stop-color="#7f7f7f"/><stop offset=".7083" stop-color="#8c8c8c"/><stop offset=".75" stop-color="#969696"/><stop offset=".7917" stop-color="#9e9e9e"/><stop offset=".8333" stop-color="#a4a4a4"/><stop offset=".875" stop-color="#aaaaaa"/><stop offset=".9167" stop-color="#b1b1b1"/><stop offset=".9583" stop-color="#b7b7b7"/><stop offset="1" stop-color="#b9b9b9"/></linearGradient>
<linearGradient id="gA33"><stop offset="0" stop-color="#848484"/><stop offset=".0417" stop-color="#7e7e7e"/><stop offset=".0833" stop-color="#747474"/><stop offset=".125" stop-color="#6a6a6a"/><stop offset=".1667" stop-color="#616161"/><stop offset=".2083" stop-color="#545454"/><stop offset=".25" stop-color="#414141"/><stop offset=".2917" stop-color="#313131"/><stop offset=".3333" stop-color="#242424"/><stop offset=".375" stop-color="#1d1d1d"/><stop offset=".4167" stop-color="#1c1c1c"/><stop offset=".4583" stop-color="#232323"/><stop offset=".5" stop-color="#303030"/><stop offset=".5417" stop-color="#434343"/><stop offset=".5833" stop-color="#585858"/><stop offset=".625" stop-color="#6c6c6c"/><stop offset=".6667" stop-color="#7d7d7d"/><stop offset=".7083" stop-color="#8a8a8a"/><stop offset=".75" stop-color="#949494"/><stop offset=".7917" stop-color="#9c9c9c"/><stop offset=".8333" stop-color="#a3a3a3"/><stop offset=".875" stop-color="#a9a9a9"/><stop offset=".9167" stop-color="#b0b0b0"/><stop offset=".9583" stop-color="#b5b5b5"/><stop offset="1" stop-color="#b7b7b7"/></linearGradient>
<linearGradient id="gA34"><stop offset="0" stop-color="#828282"/><stop offset=".0417" stop-color="#7b7b7b"/><stop offset=".0833" stop-color="#727272"/><stop offset=".125" stop-color="#686868"/><stop offset=".1667" stop-color="#5e5e5e"/><stop offset=".2083" stop-color="#505050"/><stop offset=".25" stop-color="#3f3f3f"/><stop offset=".2917" stop-color="#2e2e2e"/><stop offset=".3333" stop-color="#212121"/><stop offset=".375" stop-color="#1a1a1a"/><stop offset=".4167" stop-color="#191919"/><stop offset=".4583" stop-color="#1f1f1f"/><stop offset=".5" stop-color="#2b2b2b"/><stop offset=".5417" stop-color="#3d3d3d"/><stop offset=".5833" stop-color="#535353"/><stop offset=".625" stop-color="#686868"/><stop offset=".6667" stop-color="#7a7a7a"/><stop offset=".7083" stop-color="#888888"/><stop offset=".75" stop-color="#929292"/><stop offset=".7917" stop-color="#9a9a9a"/><stop offset=".8333" stop-color="#a1a1a1"/><stop offset=".875" stop-color="#a8a8a8"/><stop offset=".9167" stop-color="#aeaeae"/><stop offset=".9583" stop-color="#b3b3b3"/><stop offset="1" stop-color="#b5b5b5"/></linearGradient>
<linearGradient id="gA35"><stop offset="0" stop-color="#7f7f7f"/><stop offset=".0417" stop-color="#787878"/><stop offset=".0833" stop-color="#6f6f6f"/><stop offset=".125" stop-color="#676767"/><stop offset=".1667" stop-color="#5c5c5c"/><stop offset=".2083" stop-color="#4d4d4d"/><stop offset=".25" stop-color="#3c3c3c"/><stop offset=".2917" stop-color="#2b2b2b"/><stop offset=".3333" stop-color="#1f1f1f"/><stop offset=".375" stop-color="#181818"/><stop offset=".4167" stop-color="#171717"/><stop offset=".4583" stop-color="#1c1c1c"/><stop offset=".5" stop-color="#272727"/><stop offset=".5417" stop-color="#383838"/><stop offset=".5833" stop-color="#4f4f4f"/><stop offset=".625" stop-color="#656565"/><stop offset=".6667" stop-color="#777777"/><stop offset=".7083" stop-color="#868686"/><stop offset=".75" stop-color="#909090"/><stop offset=".7917" stop-color="#989898"/><stop offset=".8333" stop-color="#9f9f9f"/><stop offset=".875" stop-color="#a6a6a6"/><stop offset=".9167" stop-color="#acacac"/><stop offset=".9583" stop-color="#b1b1b1"/><stop offset="1" stop-color="#b4b4b4"/></linearGradient>
<linearGradient id="gA36"><stop offset="0" stop-color="#7c7c7c"/><stop offset=".0417" stop-color="#757575"/><stop offset=".0833" stop-color="#6d6d6d"/><stop offset=".125" stop-color="#656565"/><stop offset=".1667" stop-color="#595959"/><stop offset=".2083" stop-color="#4a4a4a"/><stop offset=".25" stop-color="#393939"/><stop offset=".2917" stop-color="#292929"/><stop offset=".3333" stop-color="#1d1d1d"/><stop offset=".375" stop-color="#161616"/><stop offset=".4167" stop-color="#151515"/><stop offset=".4583" stop-color="#191919"/><stop offset=".5" stop-color="#232323"/><stop offset=".5417" stop-color="#333333"/><stop offset=".5833" stop-color="#4a4a4a"/><stop offset=".625" stop-color="#626262"/><stop offset=".6667" stop-color="#757575"/><stop offset=".7083" stop-color="#838383"/><stop offset=".75" stop-color="#8e8e8e"/><stop offset=".7917" stop-color="#979797"/><stop offset=".8333" stop-color="#9e9e9e"/><stop offset=".875" stop-color="#a4a4a4"/><stop offset=".9167" stop-color="#ababab"/><stop offset=".9583" stop-color="#afafaf"/><stop offset="1" stop-color="#b2b2b2"/></linearGradient>
<linearGradient id="gA37"><stop offset="0" stop-color="#797979"/><stop offset=".0417" stop-color="#727272"/><stop offset=".0833" stop-color="#6a6a6a"/><stop offset=".125" stop-color="#636363"/><stop offset=".1667" stop-color="#575757"/><stop offset=".2083" stop-color="#474747"/><stop offset=".25" stop-color="#363636"/><stop offset=".2917" stop-color="#272727"/><stop offset=".3333" stop-color="#1b1b1b"/><stop offset=".375" stop-color="#151515"/><stop offset=".4167" stop-color="#141414"/><stop offset=".4583" stop-color="#161616"/><stop offset=".5" stop-color="#1f1f1f"/><stop offset=".5417" stop-color="#2f2f2f"/><stop offset=".5833" stop-color="#464646"/><stop offset=".625" stop-color="#5f5f5f"/><stop offset=".6667" stop-color="#727272"/><stop offset=".7083" stop-color="#818181"/><stop offset=".75" stop-color="#8c8c8c"/><stop offset=".7917" stop-color="#959595"/><stop offset=".8333" stop-color="#9c9c9c"/><stop offset=".875" stop-color="#a2a2a2"/><stop offset=".9167" stop-color="#a9a9a9"/><stop offset=".9583" stop-color="#adadad"/><stop offset="1" stop-color="#b0b0b0"/></linearGradient>
<linearGradient id="gA38"><stop offset="0" stop-color="#777777"/><stop offset=".0417" stop-color="#6f6f6f"/><stop offset=".0833" stop-color="#686868"/><stop offset=".125" stop-color="#616161"/><stop offset=".1667" stop-color="#555555"/><stop offset=".2083" stop-color="#454545"/><stop offset=".25" stop-color="#343434"/><stop offset=".2917" stop-color="#252525"/><stop offset=".3333" stop-color="#1a1a1a"/><stop offset=".375" stop-color="#141414"/><stop offset=".4167" stop-color="#121212"/><stop offset=".4583" stop-color="#141414"/><stop offset=".5" stop-color="#1c1c1c"/><stop offset=".5417" stop-color="#2b2b2b"/><stop offset=".5833" stop-color="#434343"/><stop offset=".625" stop-color="#5c5c5c"/><stop offset=".6667" stop-color="#6f6f6f"/><stop offset=".7083" stop-color="#7e7e7e"/><stop offset=".75" stop-color="#898989"/><stop offset=".7917" stop-color="#929292"/><stop offset=".8333" stop-color="#9a9a9a"/><stop offset=".875" stop-color="#a1a1a1"/><stop offset=".9167" stop-color="#a7a7a7"/><stop offset=".9583" stop-color="#acacac"/><stop offset="1" stop-color="#aeaeae"/></linearGradient>
<linearGradient id="gA39"><stop offset="0" stop-color="#747474"/><stop offset=".0417" stop-color="#6d6d6d"/><stop offset=".0833" stop-color="#666666"/><stop offset=".125" stop-color="#5f5f5f"/><stop offset=".1667" stop-color="#535353"/><stop offset=".2083" stop-color="#434343"/><stop offset=".25" stop-color="#333333"/><stop offset=".2917" stop-color="#242424"/><stop offset=".3333" stop-color="#191919"/><stop offset=".375" stop-color="#131313"/><stop offset=".4167" stop-color="#111111"/><stop offset=".4583" stop-color="#131313"/><stop offset=".5" stop-color="#1a1a1a"/><stop offset=".5417" stop-color="#292929"/><stop offset=".5833" stop-color="#404040"/><stop offset=".625" stop-color="#585858"/><stop offset=".6667" stop-color="#6c6c6c"/><stop offset=".7083" stop-color="#7b7b7b"/><stop offset=".75" stop-color="#878787"/><stop offset=".7917" stop-color="#909090"/><stop offset=".8333" stop-color="#989898"/><stop offset=".875" stop-color="#9f9f9f"/><stop offset=".9167" stop-color="#a5a5a5"/><stop offset=".9583" stop-color="#aaaaaa"/><stop offset="1" stop-color="#acacac"/></linearGradient>
<linearGradient id="gA40"><stop offset="0" stop-color="#727272"/><stop offset=".0417" stop-color="#6b6b6b"/><stop offset=".0833" stop-color="#646464"/><stop offset=".125" stop-color="#5d5d5d"/><stop offset=".1667" stop-color="#515151"/><stop offset=".2083" stop-color="#424242"/><stop offset=".25" stop-color="#323232"/><stop offset=".2917" stop-color="#242424"/><stop offset=".3333" stop-color="#191919"/><stop offset=".375" stop-color="#121212"/><stop offset=".4167" stop-color="#101010"/><stop offset=".4583" stop-color="#121212"/><stop offset=".5" stop-color="#191919"/><stop offset=".5417" stop-color="#282828"/><stop offset=".5833" stop-color="#3d3d3d"/><stop offset=".625" stop-color="#555555"/><stop offset=".6667" stop-color="#686868"/><stop offset=".7083" stop-color="#787878"/><stop offset=".75" stop-color="#848484"/><stop offset=".7917" stop-color="#8e8e8e"/><stop offset=".8333" stop-color="#979797"/><stop offset=".875" stop-color="#9e9e9e"/><stop offset=".9167" stop-color="#a4a4a4"/><stop offset=".9583" stop-color="#a8a8a8"/><stop offset="1" stop-color="#aaaaaa"/></linearGradient>
<linearGradient id="gA41"><stop offset="0" stop-color="#707070"/><stop offset=".0417" stop-color="#696969"/><stop offset=".0833" stop-color="#626262"/><stop offset=".125" stop-color="#5a5a5a"/><stop offset=".1667" stop-color="#4f4f4f"/><stop offset=".2083" stop-color="#414141"/><stop offset=".25" stop-color="#323232"/><stop offset=".2917" stop-color="#242424"/><stop offset=".3333" stop-color="#191919"/><stop offset=".375" stop-color="#121212"/><stop offset=".4167" stop-color="#0f0f0f"/><stop offset=".4583" stop-color="#121212"/><stop offset=".5" stop-color="#191919"/><stop offset=".5417" stop-color="#272727"/><stop offset=".5833" stop-color="#3c3c3c"/><stop offset=".625" stop-color="#525252"/><stop offset=".6667" stop-color="#656565"/><stop offset=".7083" stop-color="#757575"/><stop offset=".75" stop-color="#828282"/><stop offset=".7917" stop-color="#8c8c8c"/><stop offset=".8333" stop-color="#959595"/><stop offset=".875" stop-color="#9c9c9c"/><stop offset=".9167" stop-color="#a2a2a2"/><stop offset=".9583" stop-color="#a6a6a6"/><stop offset="1" stop-color="#a8a8a8"/></linearGradient>
<linearGradient id="gA42"><stop offset="0" stop-color="#6f6f6f"/><stop offset=".0417" stop-color="#686868"/><stop offset=".0833" stop-color="#606060"/><stop offset=".125" stop-color="#585858"/><stop offset=".1667" stop-color="#4d4d4d"/><stop offset=".2083" stop-color="#404040"/><stop offset=".25" stop-color="#323232"/><stop offset=".2917" stop-color="#242424"/><stop offset=".3333" stop-color="#1a1a1a"/><stop offset=".375" stop-color="#131313"/><stop offset=".4167" stop-color="#0f0f0f"/><stop offset=".4583" stop-color="#121212"/><stop offset=".5" stop-color="#1a1a1a"/><stop offset=".5417" stop-color="#282828"/><stop offset=".5833" stop-color="#3a3a3a"/><stop offset=".625" stop-color="#4f4f4f"/><stop offset=".6667" stop-color="#626262"/><stop offset=".7083" stop-color="#727272"/><stop offset=".75" stop-color="#7f7f7f"/><stop offset=".7917" stop-color="#8a8a8a"/><stop offset=".8333" stop-color="#939393"/><stop offset=".875" stop-color="#9b9b9b"/><stop offset=".9167" stop-color="#a1a1a1"/><stop offset=".9583" stop-color="#a5a5a5"/><stop offset="1" stop-color="#a6a6a6"/></linearGradient>
<linearGradient id="gA43"><stop offset="0" stop-color="#6d6d6d"/><stop offset=".0417" stop-color="#666666"/><stop offset=".0833" stop-color="#5f5f5f"/><stop offset=".125" stop-color="#565656"/><stop offset=".1667" stop-color="#4c4c4c"/><stop offset=".2083" stop-color="#3f3f3f"/><stop offset=".25" stop-color="#323232"/><stop offset=".2917" stop-color="#252525"/><stop offset=".3333" stop-color="#1b1b1b"/><stop offset=".375" stop-color="#141414"/><stop offset=".4167" stop-color="#111111"/><stop offset=".4583" stop-color="#131313"/><stop offset=".5" stop-color="#1b1b1b"/><stop offset=".5417" stop-color="#292929"/><stop offset=".5833" stop-color="#3a3a3a"/><stop offset=".625" stop-color="#4d4d4d"/><stop offset=".6667" stop-color="#5f5f5f"/><stop offset=".7083" stop-color="#6f6f6f"/><stop offset=".75" stop-color="#7d7d7d"/><stop offset=".7917" stop-color="#888888"/><stop offset=".8333" stop-color="#929292"/><stop offset=".875" stop-color="#9a9a9a"/><stop offset=".9167" stop-color="#a0a0a0"/><stop offset=".9583" stop-color="#a3a3a3"/><stop offset="1" stop-color="#a5a5a5"/></linearGradient>
<linearGradient id="gA44"><stop offset="0" stop-color="#6c6c6c"/><stop offset=".0417" stop-color="#656565"/><stop offset=".0833" stop-color="#5d5d5d"/><stop offset=".125" stop-color="#555555"/><stop offset=".1667" stop-color="#4b4b4b"/><stop offset=".2083" stop-color="#3f3f3f"/><stop offset=".25" stop-color="#323232"/><stop offset=".2917" stop-color="#262626"/><stop offset=".3333" stop-color="#1c1c1c"/><stop offset=".375" stop-color="#151515"/><stop offset=".4167" stop-color="#121212"/><stop offset=".4583" stop-color="#151515"/><stop offset=".5" stop-color="#1d1d1d"/><stop offset=".5417" stop-color="#2a2a2a"/><stop offset=".5833" stop-color="#3a3a3a"/><stop offset=".625" stop-color="#4b4b4b"/><stop offset=".6667" stop-color="#5d5d5d"/><stop offset=".7083" stop-color="#6d6d6d"/><stop offset=".75" stop-color="#7a7a7a"/><stop offset=".7917" stop-color="#868686"/><stop offset=".8333" stop-color="#919191"/><stop offset=".875" stop-color="#999999"/><stop offset=".9167" stop-color="#9f9f9f"/><stop offset=".9583" stop-color="#a2a2a2"/><stop offset="1" stop-color="#a3a3a3"/></linearGradient>
<linearGradient id="gA45"><stop offset="0" stop-color="#6a6a6a"/><stop offset=".0417" stop-color="#636363"/><stop offset=".0833" stop-color="#5c5c5c"/><stop offset=".125" stop-color="#535353"/><stop offset=".1667" stop-color="#4a4a4a"/><stop offset=".2083" stop-color="#3f3f3f"/><stop offset=".25" stop-color="#333333"/><stop offset=".2917" stop-color="#272727"/><stop offset=".3333" stop-color="#1e1e1e"/><stop offset=".375" stop-color="#171717"/><stop offset=".4167" stop-color="#141414"/><stop offset=".4583" stop-color="#171717"/><stop offset=".5" stop-color="#1f1f1f"/><stop offset=".5417" stop-color="#2b2b2b"/><stop offset=".5833" stop-color="#3a3a3a"/><stop offset=".625" stop-color="#4b4b4b"/><stop offset=".6667" stop-color="#5b5b5b"/><stop offset=".7083" stop-color="#6b6b6b"/><stop offset=".75" stop-color="#797979"/><stop offset=".7917" stop-color="#858585"/><stop offset=".8333" stop-color="#909090"/><stop offset=".875" stop-color="#989898"/><stop offset=".9167" stop-color="#9e9e9e"/><stop offset=".9583" stop-color="#a1a1a1"/><stop offset="1" stop-color="#a2a2a2"/></linearGradient>
<linearGradient id="gA46"><stop offset="0" stop-color="#696969"/><stop offset=".0417" stop-color="#626262"/><stop offset=".0833" stop-color="#5b5b5b"/><stop offset=".125" stop-color="#525252"/><stop offset=".1667" stop-color="#494949"/><stop offset=".2083" stop-color="#3f3f3f"/><stop offset=".25" stop-color="#343434"/><stop offset=".2917" stop-color="#292929"/><stop offset=".3333" stop-color="#202020"/><stop offset=".375" stop-color="#191919"/><stop offset=".4167" stop-color="#171717"/><stop offset=".4583" stop-color="#191919"/><stop offset=".5" stop-color="#212121"/><stop offset=".5417" stop-color="#2d2d2d"/><stop offset=".5833" stop-color="#3b3b3b"/><stop offset=".625" stop-color="#4b4b4b"/><stop offset=".6667" stop-color="#5a5a5a"/><stop offset=".7083" stop-color="#6a6a6a"/><stop offset=".75" stop-color="#777777"/><stop offset=".7917" stop-color="#848484"/><stop offset=".8333" stop-color="#8f8f8f"/><stop offset=".875" stop-color="#979797"/><stop offset=".9167" stop-color="#9d9d9d"/><stop offset=".9583" stop-color="#a0a0a0"/><stop offset="1" stop-color="#a1a1a1"/></linearGradient>
<linearGradient id="gA47"><stop offset="0" stop-color="#686868"/><stop offset=".0417" stop-color="#616161"/><stop offset=".0833" stop-color="#595959"/><stop offset=".125" stop-color="#515151"/><stop offset=".1667" stop-color="#484848"/><stop offset=".2083" stop-color="#3f3f3f"/><stop offset=".25" stop-color="#353535"/><stop offset=".2917" stop-color="#2b2b2b"/><stop offset=".3333" stop-color="#222222"/><stop offset=".375" stop-color="#1c1c1c"/><stop offset=".4167" stop-color="#191919"/><stop offset=".4583" stop-color="#1c1c1c"/><stop offset=".5" stop-color="#242424"/><stop offset=".5417" stop-color="#2f2f2f"/><stop offset=".5833" stop-color="#3c3c3c"/><stop offset=".625" stop-color="#4b4b4b"/><stop offset=".6667" stop-color="#5a5a5a"/><stop offset=".7083" stop-color="#696969"/><stop offset=".75" stop-color="#767676"/><stop offset=".7917" stop-color="#838383"/><stop offset=".8333" stop-color="#8e8e8e"/><stop offset=".875" stop-color="#979797"/><stop offset=".9167" stop-color="#9c9c9c"/><stop offset=".9583" stop-color="#9f9f9f"/><stop offset="1" stop-color="#a0a0a0"/></linearGradient>
<linearGradient id="gA48"><stop offset="0" stop-color="#666666"/><stop offset=".0417" stop-color="#606060"/><stop offset=".0833" stop-color="#585858"/><stop offset=".125" stop-color="#505050"/><stop offset=".1667" stop-color="#484848"/><stop offset=".2083" stop-color="#3f3f3f"/><stop offset=".25" stop-color="#363636"/><stop offset=".2917" stop-color="#2d2d2d"/><stop offset=".3333" stop-color="#252525"/><stop offset=".375" stop-color="#1f1f1f"/><stop offset=".4167" stop-color="#1c1c1c"/><stop offset=".4583" stop-color="#1f1f1f"/><stop offset=".5" stop-color="#272727"/><stop offset=".5417" stop-color="#323232"/><stop offset=".5833" stop-color="#3e3e3e"/><stop offset=".625" stop-color="#4d4d4d"/><stop offset=".6667" stop-color="#5b5b5b"/><stop offset=".7083" stop-color="#696969"/><stop offset=".75" stop-color="#767676"/><stop offset=".7917" stop-color="#828282"/><stop offset=".8333" stop-color="#8e8e8e"/><stop offset=".875" stop-color="#969696"/><stop offset=".9167" stop-color="#9c9c9c"/><stop offset=".9583" stop-color="#9e9e9e"/><stop offset="1" stop-color="#9f9f9f"/></linearGradient>
<linearGradient id="gA49"><stop offset="0" stop-color="#656565"/><stop offset=".0417" stop-color="#5f5f5f"/><stop offset=".0833" stop-color="#575757"/><stop offset=".125" stop-color="#505050"/><stop offset=".1667" stop-color="#484848"/><stop offset=".2083" stop-color="#3f3f3f"/><stop offset=".25" stop-color="#373737"/><stop offset=".2917" stop-color="#2f2f2f"/><stop offset=".3333" stop-color="#272727"/><stop offset=".375" stop-color="#222222"/><stop offset=".4167" stop-color="#1f1f1f"/><stop offset=".4583" stop-color="#222222"/><stop offset=".5" stop-color="#2a2a2a"/><stop offset=".5417" stop-color="#343434"/><stop offset=".5833" stop-color="#414141"/><stop offset=".625" stop-color="#4e4e4e"/><stop offset=".6667" stop-color="#5c5c5c"/><stop offset=".7083" stop-color="#696969"/><stop offset=".75" stop-color="#767676"/><stop offset=".7917" stop-color="#828282"/><stop offset=".8333" stop-color="#8d8d8d"/><stop offset=".875" stop-color="#969696"/><stop offset=".9167" stop-color="#9b9b9b"/><stop offset=".9583" stop-color="#9e9e9e"/><stop offset="1" stop-color="#9f9f9f"/></linearGradient>
<linearGradient id="gA50"><stop offset="0" stop-color="#646464"/><stop offset=".0417" stop-color="#5e5e5e"/><stop offset=".0833" stop-color="#575757"/><stop offset=".125" stop-color="#4f4f4f"/><stop offset=".1667" stop-color="#474747"/><stop offset=".2083" stop-color="#404040"/><stop offset=".25" stop-color="#393939"/><stop offset=".2917" stop-color="#313131"/><stop offset=".3333" stop-color="#2a2a2a"/><stop offset=".375" stop-color="#252525"/><stop offset=".4167" stop-color="#232323"/><stop offset=".4583" stop-color="#262626"/><stop offset=".5" stop-color="#2d2d2d"/><stop offset=".5417" stop-color="#383838"/><stop offset=".5833" stop-color="#434343"/><stop offset=".625" stop-color="#505050"/><stop offset=".6667" stop-color="#5d5d5d"/><stop offset=".7083" stop-color="#6a6a6a"/><stop offset=".75" stop-color="#767676"/><stop offset=".7917" stop-color="#828282"/><stop offset=".8333" stop-color="#8d8d8d"/><stop offset=".875" stop-color="#969696"/><stop offset=".9167" stop-color="#9b9b9b"/><stop offset=".9583" stop-color="#9d9d9d"/><stop offset="1" stop-color="#9f9f9f"/></linearGradient>
<linearGradient id="gA51"><stop offset="0" stop-color="#636363"/><stop offset=".0417" stop-color="#5d5d5d"/><stop offset=".0833" stop-color="#565656"/><stop offset=".125" stop-color="#4f4f4f"/><stop offset=".1667" stop-color="#474747"/><stop offset=".2083" stop-color="#414141"/><stop offset=".25" stop-color="#3a3a3a"/><stop offset=".2917" stop-color="#343434"/><stop offset=".3333" stop-color="#2e2e2e"/><stop offset=".375" stop-color="#292929"/><stop offset=".4167" stop-color="#262626"/><stop offset=".4583" stop-color="#292929"/><stop offset=".5" stop-color="#313131"/><stop offset=".5417" stop-color="#3b3b3b"/><stop offset=".5833" stop-color="#464646"/><stop offset=".625" stop-color="#525252"/><stop offset=".6667" stop-color="#5f5f5f"/><stop offset=".7083" stop-color="#6b6b6b"/><stop offset=".75" stop-color="#767676"/><stop offset=".7917" stop-color="#828282"/><stop offset=".8333" stop-color="#8d8d8d"/><stop offset=".875" stop-color="#969696"/><stop offset=".9167" stop-color="#9b9b9b"/><stop offset=".9583" stop-color="#9d9d9d"/><stop offset="1" stop-color="#9f9f9f"/></linearGradient>
<linearGradient id="gA52"><stop offset="0" stop-color="#626262"/><stop offset=".0417" stop-color="#5c5c5c"/><stop offset=".0833" stop-color="#565656"/><stop offset=".125" stop-color="#4f4f4f"/><stop offset=".1667" stop-color="#484848"/><stop offset=".2083" stop-color="#424242"/><stop offset=".25" stop-color="#3c3c3c"/><stop offset=".2917" stop-color="#373737"/><stop offset=".3333" stop-color="#313131"/><stop offset=".375" stop-color="#2d2d2d"/><stop offset=".4167" stop-color="#2a2a2a"/><stop offset=".4583" stop-color="#2e2e2e"/><stop offset=".5" stop-color="#363636"/><stop offset=".5417" stop-color="#3f3f3f"/><stop offset=".5833" stop-color="#494949"/><stop offset=".625" stop-color="#545454"/><stop offset=".6667" stop-color="#616161"/><stop offset=".7083" stop-color="#6c6c6c"/><stop offset=".75" stop-color="#767676"/><stop offset=".7917" stop-color="#828282"/><stop offset=".8333" stop-color="#8d8d8d"/><stop offset=".875" stop-color="#969696"/><stop offset=".9167" stop-color="#9a9a9a"/><stop offset=".9583" stop-color="#9d9d9d"/><stop offset="1" stop-color="#9e9e9e"/></linearGradient>
<linearGradient id="gA53"><stop offset="0" stop-color="#626262"/><stop offset=".0417" stop-color="#5c5c5c"/><stop offset=".0833" stop-color="#555555"/><stop offset=".125" stop-color="#4f4f4f"/><stop offset=".1667" stop-color="#484848"/><stop offset=".2083" stop-color="#434343"/><stop offset=".25" stop-color="#3e3e3e"/><stop offset=".2917" stop-color="#3a3a3a"/><stop offset=".3333" stop-color="#353535"/><stop offset=".375" stop-color="#313131"/><stop offset=".4167" stop-color="#2f2f2f"/><stop offset=".4583" stop-color="#333333"/><stop offset=".5" stop-color="#3a3a3a"/><stop offset=".5417" stop-color="#434343"/><stop offset=".5833" stop-color="#4c4c4c"/><stop offset=".625" stop-color="#565656"/><stop offset=".6667" stop-color="#626262"/><stop offset=".7083" stop-color="#6d6d6d"/><stop offset=".75" stop-color="#777777"/><stop offset=".7917" stop-color="#838383"/><stop offset=".8333" stop-color="#8e8e8e"/><stop offset=".875" stop-color="#969696"/><stop offset=".9167" stop-color="#9a9a9a"/><stop offset=".9583" stop-color="#9d9d9d"/><stop offset="1" stop-color="#9e9e9e"/></linearGradient>
<linearGradient id="gA54"><stop offset="0" stop-color="#616161"/><stop offset=".0417" stop-color="#5b5b5b"/><stop offset=".0833" stop-color="#555555"/><stop offset=".125" stop-color="#4f4f4f"/><stop offset=".1667" stop-color="#494949"/><stop offset=".2083" stop-color="#444444"/><stop offset=".25" stop-color="#404040"/><stop offset=".2917" stop-color="#3d3d3d"/><stop offset=".3333" stop-color="#393939"/><stop offset=".375" stop-color="#363636"/><stop offset=".4167" stop-color="#343434"/><stop offset=".4583" stop-color="#383838"/><stop offset=".5" stop-color="#3f3f3f"/><stop offset=".5417" stop-color="#474747"/><stop offset=".5833" stop-color="#4f4f4f"/><stop offset=".625" stop-color="#585858"/><stop offset=".6667" stop-color="#636363"/><stop offset=".7083" stop-color="#6e6e6e"/><stop offset=".75" stop-color="#787878"/><stop offset=".7917" stop-color="#838383"/><stop offset=".8333" stop-color="#8e8e8e"/><stop offset=".875" stop-color="#959595"/><stop offset=".9167" stop-color="#9a9a9a"/><stop offset=".9583" stop-color="#9d9d9d"/><stop offset="1" stop-color="#9e9e9e"/></linearGradient>
<linearGradient id="gA55"><stop offset="0" stop-color="#606060"/><stop offset=".0417" stop-color="#5b5b5b"/><stop offset=".0833" stop-color="#555555"/><stop offset=".125" stop-color="#4f4f4f"/><stop offset=".1667" stop-color="#4a4a4a"/><stop offset=".2083" stop-color="#464646"/><stop offset=".25" stop-color="#434343"/><stop offset=".2917" stop-color="#3f3f3f"/><stop offset=".3333" stop-color="#3c3c3c"/><stop offset=".375" stop-color="#3a3a3a"/><stop offset=".4167" stop-color="#3a3a3a"/><stop offset=".4583" stop-color="#3d3d3d"/><stop offset=".5" stop-color="#444444"/><stop offset=".5417" stop-color="#4b4b4b"/><stop offset=".5833" stop-color="#515151"/><stop offset=".625" stop-color="#595959"/><stop offset=".6667" stop-color="#636363"/><stop offset=".7083" stop-color="#6e6e6e"/><stop offset=".75" stop-color="#7a7a7a"/><stop offset=".7917" stop-color="#848484"/><stop offset=".8333" stop-color="#8e8e8e"/><stop offset=".875" stop-color="#959595"/><stop offset=".9167" stop-color="#9a9a9a"/><stop offset=".9583" stop-color="#9d9d9d"/><stop offset="1" stop-color="#9e9e9e"/></linearGradient>
<linearGradient id="gA56"><stop offset="0" stop-color="#606060"/><stop offset=".0417" stop-color="#5b5b5b"/><stop offset=".0833" stop-color="#555555"/><stop offset=".125" stop-color="#505050"/><stop offset=".1667" stop-color="#4b4b4b"/><stop offset=".2083" stop-color="#484848"/><stop offset=".25" stop-color="#454545"/><stop offset=".2917" stop-color="#424242"/><stop offset=".3333" stop-color="#404040"/><stop offset=".375" stop-color="#3f3f3f"/><stop offset=".4167" stop-color="#3f3f3f"/><stop offset=".4583" stop-color="#434343"/><stop offset=".5" stop-color="#494949"/><stop offset=".5417" stop-color="#4f4f4f"/><stop offset=".5833" stop-color="#545454"/><stop offset=".625" stop-color="#5a5a5a"/><stop offset=".6667" stop-color="#646464"/><stop offset=".7083" stop-color="#6f6f6f"/><stop offset=".75" stop-color="#7b7b7b"/><stop offset=".7917" stop-color="#858585"/><stop offset=".8333" stop-color="#8e8e8e"/><stop offset=".875" stop-color="#959595"/><stop offset=".9167" stop-color="#9a9a9a"/><stop offset=".9583" stop-color="#9c9c9c"/><stop offset="1" stop-color="#9e9e9e"/></linearGradient>
<linearGradient id="gA57"><stop offset="0" stop-color="#5f5f5f"/><stop offset=".0417" stop-color="#5a5a5a"/><stop offset=".0833" stop-color="#555555"/><stop offset=".125" stop-color="#515151"/><stop offset=".1667" stop-color="#4c4c4c"/><stop offset=".2083" stop-color="#494949"/><stop offset=".25" stop-color="#474747"/><stop offset=".2917" stop-color="#444444"/><stop offset=".3333" stop-color="#434343"/><stop offset=".375" stop-color="#434343"/><stop offset=".4167" stop-color="#434343"/><stop offset=".4583" stop-color="#474747"/><stop offset=".5" stop-color="#4e4e4e"/><stop offset=".5417" stop-color="#525252"/><stop offset=".5833" stop-color="#565656"/><stop offset=".625" stop-color="#5b5b5b"/><stop offset=".6667" stop-color="#646464"/><stop offset=".7083" stop-color="#707070"/><stop offset=".75" stop-color="#7c7c7c"/><stop offset=".7917" stop-color="#858585"/><stop offset=".8333" stop-color="#8e8e8e"/><stop offset=".875" stop-color="#959595"/><stop offset=".9167" stop-color="#999999"/><stop offset=".9583" stop-color="#9c9c9c"/><stop offset="1" stop-color="#9e9e9e"/></linearGradient>
<linearGradient id="gA58"><stop offset="0" stop-color="#5f5f5f"/><stop offset=".0417" stop-color="#5a5a5a"/><stop offset=".0833" stop-color="#555555"/><stop offset=".125" stop-color="#515151"/><stop offset=".1667" stop-color="#4d4d4d"/><stop offset=".2083" stop-color="#4a4a4a"/><stop offset=".25" stop-color="#484848"/><stop offset=".2917" stop-color="#464646"/><stop offset=".3333" stop-color="#464646"/><stop offset=".375" stop-color="#464646"/><stop offset=".4167" stop-color="#474747"/><stop offset=".4583" stop-color="#4b4b4b"/><stop offset=".5" stop-color="#515151"/><stop offset=".5417" stop-color="#555555"/><stop offset=".5833" stop-color="#585858"/><stop offset=".625" stop-color="#5c5c5c"/><stop offset=".6667" stop-color="#656565"/><stop offset=".7083" stop-color="#707070"/><stop offset=".75" stop-color="#7c7c7c"/><stop offset=".7917" stop-color="#868686"/><stop offset=".8333" stop-color="#8e8e8e"/><stop offset=".875" stop-color="#949494"/><stop offset=".9167" stop-color="#999999"/><stop offset=".9583" stop-color="#9c9c9c"/><stop offset="1" stop-color="#9d9d9d"/></linearGradient>
<linearGradient id="gA59"><stop offset="0" stop-color="#5f5f5f"/><stop offset=".0417" stop-color="#5a5a5a"/><stop offset=".0833" stop-color="#565656"/><stop offset=".125" stop-color="#525252"/><stop offset=".1667" stop-color="#4e4e4e"/><stop offset=".2083" stop-color="#4c4c4c"/><stop offset=".25" stop-color="#4a4a4a"/><stop offset=".2917" stop-color="#484848"/><stop offset=".3333" stop-color="#484848"/><stop offset=".375" stop-color="#494949"/><stop offset=".4167" stop-color="#4a4a4a"/><stop offset=".4583" stop-color="#4e4e4e"/><stop offset=".5" stop-color="#535353"/><stop offset=".5417" stop-color="#575757"/><stop offset=".5833" stop-color="#595959"/><stop offset=".625" stop-color="#5d5d5d"/><stop offset=".6667" stop-color="#656565"/><stop offset=".7083" stop-color="#707070"/><stop offset=".75" stop-color="#7c7c7c"/><stop offset=".7917" stop-color="#858585"/><stop offset=".8333" stop-color="#8d8d8d"/><stop offset=".875" stop-color="#939393"/><stop offset=".9167" stop-color="#989898"/><stop offset=".9583" stop-color="#9b9b9b"/><stop offset="1" stop-color="#9d9d9d"/></linearGradient>
<linearGradient id="gA60"><stop offset="0" stop-color="#5e5e5e"/><stop offset=".0417" stop-color="#5a5a5a"/><stop offset=".0833" stop-color="#565656"/><stop offset=".125" stop-color="#525252"/><stop offset=".1667" stop-color="#4f4f4f"/><stop offset=".2083" stop-color="#4c4c4c"/><stop offset=".25" stop-color="#4b4b4b"/><stop offset=".2917" stop-color="#494949"/><stop offset=".3333" stop-color="#494949"/><stop offset=".375" stop-color="#4a4a4a"/><stop offset=".4167" stop-color="#4d4d4d"/><stop offset=".4583" stop-color="#505050"/><stop offset=".5" stop-color="#555555"/><stop offset=".5417" stop-color="#585858"/><stop offset=".5833" stop-color="#5a5a5a"/><stop offset=".625" stop-color="#5e5e5e"/><stop offset=".6667" stop-color="#656565"/><stop offset=".7083" stop-color="#707070"/><stop offset=".75" stop-color="#7b7b7b"/><stop offset=".7917" stop-color="#858585"/><stop offset=".8333" stop-color="#8c8c8c"/><stop offset=".875" stop-color="#939393"/><stop offset=".9167" stop-color="#979797"/><stop offset=".9583" stop-color="#9b9b9b"/><stop offset="1" stop-color="#9d9d9d"/></linearGradient>
<linearGradient id="gA61"><stop offset="0" stop-color="#5e5e5e"/><stop offset=".0417" stop-color="#5a5a5a"/><stop offset=".0833" stop-color="#565656"/><stop offset=".125" stop-color="#525252"/><stop offset=".1667" stop-color="#505050"/><stop offset=".2083" stop-color="#4d4d4d"/><stop offset=".25" stop-color="#4b4b4b"/><stop offset=".2917" stop-color="#4a4a4a"/><stop offset=".3333" stop-color="#4a4a4a"/><stop offset=".375" stop-color="#4c4c4c"/><stop offset=".4167" stop-color="#4e4e4e"/><stop offset=".4583" stop-color="#525252"/><stop offset=".5" stop-color="#565656"/><stop offset=".5417" stop-color="#595959"/><stop offset=".5833" stop-color="#5b5b5b"/><stop offset=".625" stop-color="#5f5f5f"/><stop offset=".6667" stop-color="#666666"/><stop offset=".7083" stop-color="#707070"/><stop offset=".75" stop-color="#7a7a7a"/><stop offset=".7917" stop-color="#848484"/><stop offset=".8333" stop-color="#8b8b8b"/><stop offset=".875" stop-color="#929292"/><stop offset=".9167" stop-color="#969696"/><stop offset=".9583" stop-color="#9a9a9a"/><stop offset="1" stop-color="#9c9c9c"/></linearGradient>
<linearGradient id="gA62"><stop offset="0" stop-color="#5e5e5e"/><stop offset=".0417" stop-color="#5a5a5a"/><stop offset=".0833" stop-color="#565656"/><stop offset=".125" stop-color="#535353"/><stop offset=".1667" stop-color="#505050"/><stop offset=".2083" stop-color="#4e4e4e"/><stop offset=".25" stop-color="#4c4c4c"/><stop offset=".2917" stop-color="#4b4b4b"/><stop offset=".3333" stop-color="#4b4b4b"/><stop offset=".375" stop-color="#4d4d4d"/><stop offset=".4167" stop-color="#4f4f4f"/><stop offset=".4583" stop-color="#535353"/><stop offset=".5" stop-color="#565656"/><stop offset=".5417" stop-color="#595959"/><stop offset=".5833" stop-color="#5b5b5b"/><stop offset=".625" stop-color="#5f5f5f"/><stop offset=".6667" stop-color="#666666"/><stop offset=".7083" stop-color="#6f6f6f"/><stop offset=".75" stop-color="#797979"/><stop offset=".7917" stop-color="#838383"/><stop offset=".8333" stop-color="#8a8a8a"/><stop offset=".875" stop-color="#919191"/><stop offset=".9167" stop-color="#959595"/><stop offset=".9583" stop-color="#999999"/><stop offset="1" stop-color="#9b9b9b"/></linearGradient>
<linearGradient id="gA63"><stop offset="0" stop-color="#5d5d5d"/><stop offset=".0417" stop-color="#5a5a5a"/><stop offset=".0833" stop-color="#565656"/><stop offset=".125" stop-color="#535353"/><stop offset=".1667" stop-color="#505050"/><stop offset=".2083" stop-color="#4e4e4e"/><stop offset=".25" stop-color="#4d4d4d"/><stop offset=".2917" stop-color="#4c4c4c"/><stop offset=".3333" stop-color="#4c4c4c"/><stop offset=".375" stop-color="#4d4d4d"/><stop offset=".4167" stop-color="#505050"/><stop offset=".4583" stop-color="#535353"/><stop offset=".5" stop-color="#575757"/><stop offset=".5417" stop-color="#595959"/><stop offset=".5833" stop-color="#5c5c5c"/><stop offset=".625" stop-color="#5f5f5f"/><stop offset=".6667" stop-color="#656565"/><stop offset=".7083" stop-color="#6e6e6e"/><stop offset=".75" stop-color="#787878"/><stop offset=".7917" stop-color="#828282"/><stop offset=".8333" stop-color="#898989"/><stop offset=".875" stop-color="#8f8f8f"/><stop offset=".9167" stop-color="#949494"/><stop offset=".9583" stop-color="#989898"/><stop offset="1" stop-color="#9a9a9a"/></linearGradient>
<clipPath id="clipC"><rect x="392.8" y="117.6" width="221.4" height="228.4"/></clipPath>
<linearGradient id="gC0"><stop offset="0" stop-color="#727272"/><stop offset=".0417" stop-color="#777777"/><stop offset=".0833" stop-color="#7d7d7d"/><stop offset=".125" stop-color="#868686"/><stop offset=".1667" stop-color="#8e8e8e"/><stop offset=".2083" stop-color="#939393"/><stop offset=".25" stop-color="#979797"/><stop offset=".2917" stop-color="#9b9b9b"/><stop offset=".3333" stop-color="#a0a0a0"/><stop offset=".375" stop-color="#a3a3a3"/><stop offset=".4167" stop-color="#a3a3a3"/><stop offset=".4583" stop-color="#9e9e9e"/><stop offset=".5" stop-color="#969696"/><stop offset=".5417" stop-color="#8e8e8e"/><stop offset=".5833" stop-color="#888888"/><stop offset=".625" stop-color="#878787"/><stop offset=".6667" stop-color="#878787"/><stop offset=".7083" stop-color="#888888"/><stop offset=".75" stop-color="#898989"/><stop offset=".7917" stop-color="#898989"/><stop offset=".8333" stop-color="#888888"/><stop offset=".875" stop-color="#878787"/><stop offset=".9167" stop-color="#878787"/><stop offset=".9583" stop-color="#888888"/><stop offset="1" stop-color="#898989"/></linearGradient>
<linearGradient id="gC1"><stop offset="0" stop-color="#717171"/><stop offset=".0417" stop-color="#757575"/><stop offset=".0833" stop-color="#7b7b7b"/><stop offset=".125" stop-color="#848484"/><stop offset=".1667" stop-color="#8d8d8d"/><stop offset=".2083" stop-color="#919191"/><stop offset=".25" stop-color="#949494"/><stop offset=".2917" stop-color="#989898"/><stop offset=".3333" stop-color="#9e9e9e"/><stop offset=".375" stop-color="#a2a2a2"/><stop offset=".4167" stop-color="#a2a2a2"/><stop offset=".4583" stop-color="#9d9d9d"/><stop offset=".5" stop-color="#959595"/><stop offset=".5417" stop-color="#8c8c8c"/><stop offset=".5833" stop-color="#878787"/><stop offset=".625" stop-color="#868686"/><stop offset=".6667" stop-color="#888888"/><stop offset=".7083" stop-color="#8a8a8a"/><stop offset=".75" stop-color="#8a8a8a"/><stop offset=".7917" stop-color="#8a8a8a"/><stop offset=".8333" stop-color="#898989"/><stop offset=".875" stop-color="#898989"/><stop offset=".9167" stop-color="#898989"/><stop offset=".9583" stop-color="#8a8a8a"/><stop offset="1" stop-color="#8b8b8b"/></linearGradient>
<linearGradient id="gC2"><stop offset="0" stop-color="#6f6f6f"/><stop offset=".0417" stop-color="#737373"/><stop offset=".0833" stop-color="#797979"/><stop offset=".125" stop-color="#818181"/><stop offset=".1667" stop-color="#8a8a8a"/><stop offset=".2083" stop-color="#8d8d8d"/><stop offset=".25" stop-color="#909090"/><stop offset=".2917" stop-color="#959595"/><stop offset=".3333" stop-color="#9b9b9b"/><stop offset=".375" stop-color="#a0a0a0"/><stop offset=".4167" stop-color="#a1a1a1"/><stop offset=".4583" stop-color="#9c9c9c"/><stop offset=".5" stop-color="#949494"/><stop offset=".5417" stop-color="#8b8b8b"/><stop offset=".5833" stop-color="#868686"/><stop offset=".625" stop-color="#868686"/><stop offset=".6667" stop-color="#898989"/><stop offset=".7083" stop-color="#8b8b8b"/><stop offset=".75" stop-color="#8c8c8c"/><stop offset=".7917" stop-color="#8c8c8c"/><stop offset=".8333" stop-color="#8b8b8b"/><stop offset=".875" stop-color="#8b8b8b"/><stop offset=".9167" stop-color="#8b8b8b"/><stop offset=".9583" stop-color="#8c8c8c"/><stop offset="1" stop-color="#8d8d8d"/></linearGradient>
<linearGradient id="gC3"><stop offset="0" stop-color="#6d6d6d"/><stop offset=".0417" stop-color="#717171"/><stop offset=".0833" stop-color="#767676"/><stop offset=".125" stop-color="#7c7c7c"/><stop offset=".1667" stop-color="#858585"/><stop offset=".2083" stop-color="#898989"/><stop offset=".25" stop-color="#8c8c8c"/><stop offset=".2917" stop-color="#919191"/><stop offset=".3333" stop-color="#989898"/><stop offset=".375" stop-color="#9e9e9e"/><stop offset=".4167" stop-color="#a0a0a0"/><stop offset=".4583" stop-color="#9b9b9b"/><stop offset=".5" stop-color="#929292"/><stop offset=".5417" stop-color="#8a8a8a"/><stop offset=".5833" stop-color="#858585"/><stop offset=".625" stop-color="#868686"/><stop offset=".6667" stop-color="#8a8a8a"/><stop offset=".7083" stop-color="#8d8d8d"/><stop offset=".75" stop-color="#8e8e8e"/><stop offset=".7917" stop-color="#8e8e8e"/><stop offset=".8333" stop-color="#8d8d8d"/><stop offset=".875" stop-color="#8d8d8d"/><stop offset=".9167" stop-color="#8e8e8e"/><stop offset=".9583" stop-color="#8e8e8e"/><stop offset="1" stop-color="#8e8e8e"/></linearGradient>
<linearGradient id="gC4"><stop offset="0" stop-color="#6b6b6b"/><stop offset=".0417" stop-color="#6e6e6e"/><stop offset=".0833" stop-color="#727272"/><stop offset=".125" stop-color="#777777"/><stop offset=".1667" stop-color="#7e7e7e"/><stop offset=".2083" stop-color="#838383"/><stop offset=".25" stop-color="#888888"/><stop offset=".2917" stop-color="#8d8d8d"/><stop offset=".3333" stop-color="#969696"/><stop offset=".375" stop-color="#9c9c9c"/><stop offset=".4167" stop-color="#9e9e9e"/><stop offset=".4583" stop-color="#999999"/><stop offset=".5" stop-color="#919191"/><stop offset=".5417" stop-color="#898989"/><stop offset=".5833" stop-color="#858585"/><stop offset=".625" stop-color="#878787"/><stop offset=".6667" stop-color="#8b8b8b"/><stop offset=".7083" stop-color="#8e8e8e"/><stop offset=".75" stop-color="#909090"/><stop offset=".7917" stop-color="#919191"/><stop offset=".8333" stop-color="#8f8f8f"/><stop offset=".875" stop-color="#8f8f8f"/><stop offset=".9167" stop-color="#909090"/><stop offset=".9583" stop-color="#919191"/><stop offset="1" stop-color="#909090"/></linearGradient>
<linearGradient id="gC5"><stop offset="0" stop-color="#696969"/><stop offset=".0417" stop-color="#6c6c6c"/><stop offset=".0833" stop-color="#6f6f6f"/><stop offset=".125" stop-color="#727272"/><stop offset=".1667" stop-color="#777777"/><stop offset=".2083" stop-color="#7e7e7e"/><stop offset=".25" stop-color="#838383"/><stop offset=".2917" stop-color="#898989"/><stop offset=".3333" stop-color="#929292"/><stop offset=".375" stop-color="#9a9a9a"/><stop offset=".4167" stop-color="#9c9c9c"/><stop offset=".4583" stop-color="#979797"/><stop offset=".5" stop-color="#8f8f8f"/><stop offset=".5417" stop-color="#888888"/><stop offset=".5833" stop-color="#858585"/><stop offset=".625" stop-color="#888888"/><stop offset=".6667" stop-color="#8c8c8c"/><stop offset=".7083" stop-color="#909090"/><stop offset=".75" stop-color="#929292"/><stop offset=".7917" stop-color="#939393"/><stop offset=".8333" stop-color="#919191"/><stop offset=".875" stop-color="#919191"/><stop offset=".9167" stop-color="#939393"/><stop offset=".9583" stop-color="#949494"/><stop offset="1" stop-color="#929292"/></linearGradient>
<linearGradient id="gC6"><stop offset="0" stop-color="#676767"/><stop offset=".0417" stop-color="#6a6a6a"/><stop offset=".0833" stop-color="#6c6c6c"/><stop offset=".125" stop-color="#6f6f6f"/><stop offset=".1667" stop-color="#737373"/><stop offset=".2083" stop-color="#797979"/><stop offset=".25" stop-color="#7f7f7f"/><stop offset=".2917" stop-color="#868686"/><stop offset=".3333" stop-color="#8f8f8f"/><stop offset=".375" stop-color="#969696"/><stop offset=".4167" stop-color="#999999"/><stop offset=".4583" stop-color="#959595"/><stop offset=".5" stop-color="#8d8d8d"/><stop offset=".5417" stop-color="#868686"/><stop offset=".5833" stop-color="#848484"/><stop offset=".625" stop-color="#888888"/><stop offset=".6667" stop-color="#8d8d8d"/><stop offset=".7083" stop-color="#919191"/><stop offset=".75" stop-color="#949494"/><stop offset=".7917" stop-color="#949494"/><stop offset=".8333" stop-color="#939393"/><stop offset=".875" stop-color="#939393"/><stop offset=".9167" stop-color="#949494"/><stop offset=".9583" stop-color="#959595"/><stop offset="1" stop-color="#929292"/></linearGradient>
<linearGradient id="gC7"><stop offset="0" stop-color="#656565"/><stop offset=".0417" stop-color="#676767"/><stop offset=".0833" stop-color="#6a6a6a"/><stop offset=".125" stop-color="#6c6c6c"/><stop offset=".1667" stop-color="#6f6f6f"/><stop offset=".2083" stop-color="#757575"/><stop offset=".25" stop-color="#7b7b7b"/><stop offset=".2917" stop-color="#828282"/><stop offset=".3333" stop-color="#8b8b8b"/><stop offset=".375" stop-color="#939393"/><stop offset=".4167" stop-color="#969696"/><stop offset=".4583" stop-color="#929292"/><stop offset=".5" stop-color="#8b8b8b"/><stop offset=".5417" stop-color="#858585"/><stop offset=".5833" stop-color="#848484"/><stop offset=".625" stop-color="#888888"/><stop offset=".6667" stop-color="#8e8e8e"/><stop offset=".7083" stop-color="#939393"/><stop offset=".75" stop-color="#969696"/><stop offset=".7917" stop-color="#969696"/><stop offset=".8333" stop-color="#959595"/><stop offset=".875" stop-color="#949494"/><stop offset=".9167" stop-color="#959595"/><stop offset=".9583" stop-color="#959595"/><stop offset="1" stop-color="#939393"/></linearGradient>
<linearGradient id="gC8"><stop offset="0" stop-color="#636363"/><stop offset=".0417" stop-color="#656565"/><stop offset=".0833" stop-color="#676767"/><stop offset=".125" stop-color="#6a6a6a"/><stop offset=".1667" stop-color="#6c6c6c"/><stop offset=".2083" stop-color="#717171"/><stop offset=".25" stop-color="#777777"/><stop offset=".2917" stop-color="#7e7e7e"/><stop offset=".3333" stop-color="#878787"/><stop offset=".375" stop-color="#8f8f8f"/><stop offset=".4167" stop-color="#929292"/><stop offset=".4583" stop-color="#8e8e8e"/><stop offset=".5" stop-color="#888888"/><stop offset=".5417" stop-color="#828282"/><stop offset=".5833" stop-color="#828282"/><stop offset=".625" stop-color="#878787"/><stop offset=".6667" stop-color="#8e8e8e"/><stop offset=".7083" stop-color="#939393"/><stop offset=".75" stop-color="#979797"/><stop offset=".7917" stop-color="#979797"/><stop offset=".8333" stop-color="#959595"/><stop offset=".875" stop-color="#949494"/><stop offset=".9167" stop-color="#949494"/><stop offset=".9583" stop-color="#949494"/><stop offset="1" stop-color="#929292"/></linearGradient>
<linearGradient id="gC9"><stop offset="0" stop-color="#626262"/><stop offset=".0417" stop-color="#636363"/><stop offset=".0833" stop-color="#656565"/><stop offset=".125" stop-color="#686868"/><stop offset=".1667" stop-color="#6a6a6a"/><stop offset=".2083" stop-color="#6e6e6e"/><stop offset=".25" stop-color="#737373"/><stop offset=".2917" stop-color="#7a7a7a"/><stop offset=".3333" stop-color="#828282"/><stop offset=".375" stop-color="#8a8a8a"/><stop offset=".4167" stop-color="#8d8d8d"/><stop offset=".4583" stop-color="#8a8a8a"/><stop offset=".5" stop-color="#848484"/><stop offset=".5417" stop-color="#7f7f7f"/><stop offset=".5833" stop-color="#808080"/><stop offset=".625" stop-color="#868686"/><stop offset=".6667" stop-color="#8d8d8d"/><stop offset=".7083" stop-color="#949494"/><stop offset=".75" stop-color="#979797"/><stop offset=".7917" stop-color="#989898"/><stop offset=".8333" stop-color="#969696"/><stop offset=".875" stop-color="#959595"/><stop offset=".9167" stop-color="#949494"/><stop offset=".9583" stop-color="#939393"/><stop offset="1" stop-color="#929292"/></linearGradient>
<linearGradient id="gC10"><stop offset="0" stop-color="#606060"/><stop offset=".0417" stop-color="#626262"/><stop offset=".0833" stop-color="#636363"/><stop offset=".125" stop-color="#666666"/><stop offset=".1667" stop-color="#676767"/><stop offset=".2083" stop-color="#6a6a6a"/><stop offset=".25" stop-color="#6f6f6f"/><stop offset=".2917" stop-color="#757575"/><stop offset=".3333" stop-color="#7d7d7d"/><stop offset=".375" stop-color="#848484"/><stop offset=".4167" stop-color="#878787"/><stop offset=".4583" stop-color="#848484"/><stop offset=".5" stop-color="#7f7f7f"/><stop offset=".5417" stop-color="#7a7a7a"/><stop offset=".5833" stop-color="#7d7d7d"/><stop offset=".625" stop-color="#858585"/><stop offset=".6667" stop-color="#8d8d8d"/><stop offset=".7083" stop-color="#939393"/><stop offset=".75" stop-color="#989898"/><stop offset=".7917" stop-color="#989898"/><stop offset=".8333" stop-color="#969696"/><stop offset=".875" stop-color="#949494"/><stop offset=".9167" stop-color="#939393"/><stop offset=".9583" stop-color="#929292"/><stop offset="1" stop-color="#909090"/></linearGradient>
<linearGradient id="gC11"><stop offset="0" stop-color="#5f5f5f"/><stop offset=".0417" stop-color="#606060"/><stop offset=".0833" stop-color="#616161"/><stop offset=".125" stop-color="#636363"/><stop offset=".1667" stop-color="#656565"/><stop offset=".2083" stop-color="#676767"/><stop offset=".25" stop-color="#6a6a6a"/><stop offset=".2917" stop-color="#707070"/><stop offset=".3333" stop-color="#767676"/><stop offset=".375" stop-color="#7c7c7c"/><stop offset=".4167" stop-color="#7f7f7f"/><stop offset=".4583" stop-color="#7d7d7d"/><stop offset=".5" stop-color="#787878"/><stop offset=".5417" stop-color="#757575"/><stop offset=".5833" stop-color="#797979"/><stop offset=".625" stop-color="#828282"/><stop offset=".6667" stop-color="#8b8b8b"/><stop offset=".7083" stop-color="#939393"/><stop offset=".75" stop-color="#979797"/><stop offset=".7917" stop-color="#989898"/><stop offset=".8333" stop-color="#969696"/><stop offset=".875" stop-color="#949494"/><stop offset=".9167" stop-color="#929292"/><stop offset=".9583" stop-color="#909090"/><stop offset="1" stop-color="#8f8f8f"/></linearGradient>
<linearGradient id="gC12"><stop offset="0" stop-color="#5d5d5d"/><stop offset=".0417" stop-color="#5e5e5e"/><stop offset=".0833" stop-color="#5f5f5f"/><stop offset=".125" stop-color="#616161"/><stop offset=".1667" stop-color="#626262"/><stop offset=".2083" stop-color="#646464"/><stop offset=".25" stop-color="#666666"/><stop offset=".2917" stop-color="#6b6b6b"/><stop offset=".3333" stop-color="#707070"/><stop offset=".375" stop-color="#757575"/><stop offset=".4167" stop-color="#777777"/><stop offset=".4583" stop-color="#757575"/><stop offset=".5" stop-color="#727272"/><stop offset=".5417" stop-color="#707070"/><stop offset=".5833" stop-color="#757575"/><stop offset=".625" stop-color="#7f7f7f"/><stop offset=".6667" stop-color="#8a8a8a"/><stop offset=".7083" stop-color="#919191"/><stop offset=".75" stop-color="#969696"/><stop offset=".7917" stop-color="#979797"/><stop offset=".8333" stop-color="#959595"/><stop offset=".875" stop-color="#929292"/><stop offset=".9167" stop-color="#909090"/><stop offset=".9583" stop-color="#8e8e8e"/><stop offset="1" stop-color="#8d8d8d"/></linearGradient>
<linearGradient id="gC13"><stop offset="0" stop-color="#5c5c5c"/><stop offset=".0417" stop-color="#5c5c5c"/><stop offset=".0833" stop-color="#5d5d5d"/><stop offset=".125" stop-color="#5f5f5f"/><stop offset=".1667" stop-color="#606060"/><stop offset=".2083" stop-color="#616161"/><stop offset=".25" stop-color="#636363"/><stop offset=".2917" stop-color="#666666"/><stop offset=".3333" stop-color="#6a6a6a"/><stop offset=".375" stop-color="#6d6d6d"/><stop offset=".4167" stop-color="#6f6f6f"/><stop offset=".4583" stop-color="#6d6d6d"/><stop offset=".5" stop-color="#6b6b6b"/><stop offset=".5417" stop-color="#6b6b6b"/><stop offset=".5833" stop-color="#717171"/><stop offset=".625" stop-color="#7c7c7c"/><stop offset=".6667" stop-color="#878787"/><stop offset=".7083" stop-color="#909090"/><stop offset=".75" stop-color="#959595"/><stop offset=".7917" stop-color="#969696"/><stop offset=".8333" stop-color="#949494"/><stop offset=".875" stop-color="#919191"/><stop offset=".9167" stop-color="#8e8e8e"/><stop offset=".9583" stop-color="#8c8c8c"/><stop offset="1" stop-color="#8b8b8b"/></linearGradient>
<linearGradient id="gC14"><stop offset="0" stop-color="#5a5a5a"/><stop offset=".0417" stop-color="#5b5b5b"/><stop offset=".0833" stop-color="#5b5b5b"/><stop offset=".125" stop-color="#5c5c5c"/><stop offset=".1667" stop-color="#5d5d5d"/><stop offset=".2083" stop-color="#5f5f5f"/><stop offset=".25" stop-color="#606060"/><stop offset=".2917" stop-color="#626262"/><stop offset=".3333" stop-color="#646464"/><stop offset=".375" stop-color="#676767"/><stop offset=".4167" stop-color="#676767"/><stop offset=".4583" stop-color="#666666"/><stop offset=".5" stop-color="#656565"/><stop offset=".5417" stop-color="#666666"/><stop offset=".5833" stop-color="#6d6d6d"/><stop offset=".625" stop-color="#797979"/><stop offset=".6667" stop-color="#858585"/><stop offset=".7083" stop-color="#8e8e8e"/><stop offset=".75" stop-color="#939393"/><stop offset=".7917" stop-color="#959595"/><stop offset=".8333" stop-color="#939393"/><stop offset=".875" stop-color="#909090"/><stop offset=".9167" stop-color="#8c8c8c"/><stop offset=".9583" stop-color="#8a8a8a"/><stop offset="1" stop-color="#898989"/></linearGradient>
<linearGradient id="gC15"><stop offset="0" stop-color="#595959"/><stop offset=".0417" stop-color="#5a5a5a"/><stop offset=".0833" stop-color="#5a5a5a"/><stop offset=".125" stop-color="#5a5a5a"/><stop offset=".1667" stop-color="#5b5b5b"/><stop offset=".2083" stop-color="#5c5c5c"/><stop offset=".25" stop-color="#5e5e5e"/><stop offset=".2917" stop-color="#5f5f5f"/><stop offset=".3333" stop-color="#606060"/><stop offset=".375" stop-color="#616161"/><stop offset=".4167" stop-color="#616161"/><stop offset=".4583" stop-color="#606060"/><stop offset=".5" stop-color="#5f5f5f"/><stop offset=".5417" stop-color="#616161"/><stop offset=".5833" stop-color="#696969"/><stop offset=".625" stop-color="#777777"/><stop offset=".6667" stop-color="#838383"/><stop offset=".7083" stop-color="#8c8c8c"/><stop offset=".75" stop-color="#919191"/><stop offset=".7917" stop-color="#939393"/><stop offset=".8333" stop-color="#919191"/><stop offset=".875" stop-color="#8e8e8e"/><stop offset=".9167" stop-color="#8a8a8a"/><stop offset=".9583" stop-color="#888888"/><stop offset="1" stop-color="#878787"/></linearGradient>
<linearGradient id="gC16"><stop offset="0" stop-color="#585858"/><stop offset=".0417" stop-color="#585858"/><stop offset=".0833" stop-color="#585858"/><stop offset=".125" stop-color="#585858"/><stop offset=".1667" stop-color="#595959"/><stop offset=".2083" stop-color="#5b5b5b"/><stop offset=".25" stop-color="#5c5c5c"/><stop offset=".2917" stop-color="#5c5c5c"/><stop offset=".3333" stop-color="#5c5c5c"/><stop offset=".375" stop-color="#5c5c5c"/><stop offset=".4167" stop-color="#5b5b5b"/><stop offset=".4583" stop-color="#5a5a5a"/><stop offset=".5" stop-color="#5b5b5b"/><stop offset=".5417" stop-color="#5e5e5e"/><stop offset=".5833" stop-color="#666666"/><stop offset=".625" stop-color="#747474"/><stop offset=".6667" stop-color="#808080"/><stop offset=".7083" stop-color="#898989"/><stop offset=".75" stop-color="#8f8f8f"/><stop offset=".7917" stop-color="#919191"/><stop offset=".8333" stop-color="#8f8f8f"/><stop offset=".875" stop-color="#8c8c8c"/><stop offset=".9167" stop-color="#888888"/><stop offset=".9583" stop-color="#868686"/><stop offset="1" stop-color="#868686"/></linearGradient>
<linearGradient id="gC17"><stop offset="0" stop-color="#575757"/><stop offset=".0417" stop-color="#575757"/><stop offset=".0833" stop-color="#575757"/><stop offset=".125" stop-color="#575757"/><stop offset=".1667" stop-color="#575757"/><stop offset=".2083" stop-color="#595959"/><stop offset=".25" stop-color="#5a5a5a"/><stop offset=".2917" stop-color="#5a5a5a"/><stop offset=".3333" stop-color="#595959"/><stop offset=".375" stop-color="#585858"/><stop offset=".4167" stop-color="#565656"/><stop offset=".4583" stop-color="#555555"/><stop offset=".5" stop-color="#575757"/><stop offset=".5417" stop-color="#5b5b5b"/><stop offset=".5833" stop-color="#646464"/><stop offset=".625" stop-color="#717171"/><stop offset=".6667" stop-color="#7d7d7d"/><stop offset=".7083" stop-color="#868686"/><stop offset=".75" stop-color="#8c8c8c"/><stop offset=".7917" stop-color="#8e8e8e"/><stop offset=".8333" stop-color="#8d8d8d"/><stop offset=".875" stop-color="#8a8a8a"/><stop offset=".9167" stop-color="#868686"/><stop offset=".9583" stop-color="#848484"/><stop offset="1" stop-color="#848484"/></linearGradient>
<linearGradient id="gC18"><stop offset="0" stop-color="#575757"/><stop offset=".0417" stop-color="#575757"/><stop offset=".0833" stop-color="#565656"/><stop offset=".125" stop-color="#565656"/><stop offset=".1667" stop-color="#575757"/><stop offset=".2083" stop-color="#585858"/><stop offset=".25" stop-color="#595959"/><stop offset=".2917" stop-color="#585858"/><stop offset=".3333" stop-color="#565656"/><stop offset=".375" stop-color="#545454"/><stop offset=".4167" stop-color="#525252"/><stop offset=".4583" stop-color="#515151"/><stop offset=".5" stop-color="#535353"/><stop offset=".5417" stop-color="#585858"/><stop offset=".5833" stop-color="#616161"/><stop offset=".625" stop-color="#6e6e6e"/><stop offset=".6667" stop-color="#7a7a7a"/><stop offset=".7083" stop-color="#828282"/><stop offset=".75" stop-color="#888888"/><stop offset=".7917" stop-color="#8b8b8b"/><stop offset=".8333" stop-color="#8a8a8a"/><stop offset=".875" stop-color="#888888"/><stop offset=".9167" stop-color="#858585"/><stop offset=".9583" stop-color="#838383"/><stop offset="1" stop-color="#838383"/></linearGradient>
<linearGradient id="gC19"><stop offset="0" stop-color="#565656"/><stop offset=".0417" stop-color="#565656"/><stop offset=".0833" stop-color="#565656"/><stop offset=".125" stop-color="#565656"/><stop offset=".1667" stop-color="#565656"/><stop offset=".2083" stop-color="#585858"/><stop offset=".25" stop-color="#585858"/><stop offset=".2917" stop-color="#575757"/><stop offset=".3333" stop-color="#545454"/><stop offset=".375" stop-color="#525252"/><stop offset=".4167" stop-color="#4f4f4f"/><stop offset=".4583" stop-color="#4e4e4e"/><stop offset=".5" stop-color="#515151"/><stop offset=".5417" stop-color="#565656"/><stop offset=".5833" stop-color="#5f5f5f"/><stop offset=".625" stop-color="#6b6b6b"/><stop offset=".6667" stop-color="#767676"/><stop offset=".7083" stop-color="#7e7e7e"/><stop offset=".75" stop-color="#848484"/><stop offset=".7917" stop-color="#878787"/><stop offset=".8333" stop-color="#878787"/><stop offset=".875" stop-color="#868686"/><stop offset=".9167" stop-color="#848484"/><stop offset=".9583" stop-color="#828282"/><stop offset="1" stop-color="#828282"/></linearGradient>
<linearGradient id="gC20"><stop offset="0" stop-color="#565656"/><stop offset=".0417" stop-color="#565656"/><stop offset=".0833" stop-color="#555555"/><stop offset=".125" stop-color="#555555"/><stop offset=".1667" stop-color="#565656"/><stop offset=".2083" stop-color="#575757"/><stop offset=".25" stop-color="#575757"/><stop offset=".2917" stop-color="#565656"/><stop offset=".3333" stop-color="#535353"/><stop offset=".375" stop-color="#4f4f4f"/><stop offset=".4167" stop-color="#4d4d4d"/><stop offset=".4583" stop-color="#4c4c4c"/><stop offset=".5" stop-color="#4e4e4e"/><stop offset=".5417" stop-color="#545454"/><stop offset=".5833" stop-color="#5d5d5d"/><stop offset=".625" stop-color="#676767"/><stop offset=".6667" stop-color="#727272"/><stop offset=".7083" stop-color="#7a7a7a"/><stop offset=".75" stop-color="#808080"/><stop offset=".7917" stop-color="#848484"/><stop offset=".8333" stop-color="#848484"/><stop offset=".875" stop-color="#848484"/><stop offset=".9167" stop-color="#828282"/><stop offset=".9583" stop-color="#828282"/><stop offset="1" stop-color="#818181"/></linearGradient>
<linearGradient id="gC21"><stop offset="0" stop-color="#555555"/><stop offset=".0417" stop-color="#555555"/><stop offset=".0833" stop-color="#555555"/><stop offset=".125" stop-color="#565656"/><stop offset=".1667" stop-color="#565656"/><stop offset=".2083" stop-color="#575757"/><stop offset=".25" stop-color="#575757"/><stop offset=".2917" stop-color="#555555"/><stop offset=".3333" stop-color="#515151"/><stop offset=".375" stop-color="#4e4e4e"/><stop offset=".4167" stop-color="#4a4a4a"/><stop offset=".4583" stop-color="#4a4a4a"/><stop offset=".5" stop-color="#4c4c4c"/><stop offset=".5417" stop-color="#525252"/><stop offset=".5833" stop-color="#5b5b5b"/><stop offset=".625" stop-color="#646464"/><stop offset=".6667" stop-color="#6e6e6e"/><stop offset=".7083" stop-color="#767676"/><stop offset=".75" stop-color="#7c7c7c"/><stop offset=".7917" stop-color="#808080"/><stop offset=".8333" stop-color="#818181"/><stop offset=".875" stop-color="#828282"/><stop offset=".9167" stop-color="#818181"/><stop offset=".9583" stop-color="#818181"/><stop offset="1" stop-color="#818181"/></linearGradient>
<linearGradient id="gC22"><stop offset="0" stop-color="#555555"/><stop offset=".0417" stop-color="#555555"/><stop offset=".0833" stop-color="#555555"/><stop offset=".125" stop-color="#565656"/><stop offset=".1667" stop-color="#565656"/><stop offset=".2083" stop-color="#575757"/><stop offset=".25" stop-color="#565656"/><stop offset=".2917" stop-color="#545454"/><stop offset=".3333" stop-color="#505050"/><stop offset=".375" stop-color="#4c4c4c"/><stop offset=".4167" stop-color="#484848"/><stop offset=".4583" stop-color="#484848"/><stop offset=".5" stop-color="#4b4b4b"/><stop offset=".5417" stop-color="#515151"/><stop offset=".5833" stop-color="#585858"/><stop offset=".625" stop-color="#616161"/><stop offset=".6667" stop-color="#6a6a6a"/><stop offset=".7083" stop-color="#727272"/><stop offset=".75" stop-color="#787878"/><stop offset=".7917" stop-color="#7d7d7d"/><stop offset=".8333" stop-color="#7f7f7f"/><stop offset=".875" stop-color="#808080"/><stop offset=".9167" stop-color="#808080"/><stop offset=".9583" stop-color="#808080"/><stop offset="1" stop-color="#808080"/></linearGradient>
<linearGradient id="gC23"><stop offset="0" stop-color="#555555"/><stop offset=".0417" stop-color="#555555"/><stop offset=".0833" stop-color="#555555"/><stop offset=".125" stop-color="#565656"/><stop offset=".1667" stop-color="#565656"/><stop offset=".2083" stop-color="#565656"/><stop offset=".25" stop-color="#555555"/><stop offset=".2917" stop-color="#525252"/><stop offset=".3333" stop-color="#4f4f4f"/><stop offset=".375" stop-color="#4a4a4a"/><stop offset=".4167" stop-color="#474747"/><stop offset=".4583" stop-color="#464646"/><stop offset=".5" stop-color="#494949"/><stop offset=".5417" stop-color="#4f4f4f"/><stop offset=".5833" stop-color="#565656"/><stop offset=".625" stop-color="#5e5e5e"/><stop offset=".6667" stop-color="#666666"/><stop offset=".7083" stop-color="#6e6e6e"/><stop offset=".75" stop-color="#757575"/><stop offset=".7917" stop-color="#7a7a7a"/><stop offset=".8333" stop-color="#7c7c7c"/><stop offset=".875" stop-color="#7e7e7e"/><stop offset=".9167" stop-color="#7f7f7f"/><stop offset=".9583" stop-color="#808080"/><stop offset="1" stop-color="#7f7f7f"/></linearGradient>
<linearGradient id="gC24"><stop offset="0" stop-color="#555555"/><stop offset=".0417" stop-color="#555555"/><stop offset=".0833" stop-color="#555555"/><stop offset=".125" stop-color="#555555"/><stop offset=".1667" stop-color="#565656"/><stop offset=".2083" stop-color="#555555"/><stop offset=".25" stop-color="#545454"/><stop offset=".2917" stop-color="#515151"/><stop offset=".3333" stop-color="#4d4d4d"/><stop offset=".375" stop-color="#494949"/><stop offset=".4167" stop-color="#454545"/><stop offset=".4583" stop-color="#444444"/><stop offset=".5" stop-color="#474747"/><stop offset=".5417" stop-color="#4d4d4d"/><stop offset=".5833" stop-color="#545454"/><stop offset=".625" stop-color="#5b5b5b"/><stop offset=".6667" stop-color="#636363"/><stop offset=".7083" stop-color="#6b6b6b"/><stop offset=".75" stop-color="#727272"/><stop offset=".7917" stop-color="#777777"/><stop offset=".8333" stop-color="#7a7a7a"/><stop offset=".875" stop-color="#7c7c7c"/><stop offset=".9167" stop-color="#7e7e7e"/><stop offset=".9583" stop-color="#7f7f7f"/><stop offset="1" stop-color="#7f7f7f"/></linearGradient>
<linearGradient id="gC25"><stop offset="0" stop-color="#555555"/><stop offset=".0417" stop-color="#555555"/><stop offset=".0833" stop-color="#555555"/><stop offset=".125" stop-color="#555555"/><stop offset=".1667" stop-color="#555555"/><stop offset=".2083" stop-color="#545454"/><stop offset=".25" stop-color="#535353"/><stop offset=".2917" stop-color="#4f4f4f"/><stop offset=".3333" stop-color="#4b4b4b"/><stop offset=".375" stop-color="#474747"/><stop offset=".4167" stop-color="#434343"/><stop offset=".4583" stop-color="#434343"/><stop offset=".5" stop-color="#454545"/><stop offset=".5417" stop-color="#4b4b4b"/><stop offset=".5833" stop-color="#515151"/><stop offset=".625" stop-color="#585858"/><stop offset=".6667" stop-color="#606060"/><stop offset=".7083" stop-color="#686868"/><stop offset=".75" stop-color="#6f6f6f"/><stop offset=".7917" stop-color="#757575"/><stop offset=".8333" stop-color="#797979"/><stop offset=".875" stop-color="#7b7b7b"/><stop offset=".9167" stop-color="#7d7d7d"/><stop offset=".9583" stop-color="#7e7e7e"/><stop offset="1" stop-color="#7e7e7e"/></linearGradient>
<linearGradient id="gC26"><stop offset="0" stop-color="#555555"/><stop offset=".0417" stop-color="#555555"/><stop offset=".0833" stop-color="#545454"/><stop offset=".125" stop-color="#545454"/><stop offset=".1667" stop-color="#545454"/><stop offset=".2083" stop-color="#535353"/><stop offset=".25" stop-color="#515151"/><stop offset=".2917" stop-color="#4d4d4d"/><stop offset=".3333" stop-color="#494949"/><stop offset=".375" stop-color="#454545"/><stop offset=".4167" stop-color="#424242"/><stop offset=".4583" stop-color="#414141"/><stop offset=".5" stop-color="#434343"/><stop offset=".5417" stop-color="#484848"/><stop offset=".5833" stop-color="#4e4e4e"/><stop offset=".625" stop-color="#555555"/><stop offset=".6667" stop-color="#5e5e5e"/><stop offset=".7083" stop-color="#666666"/><stop offset=".75" stop-color="#6e6e6e"/><stop offset=".7917" stop-color="#747474"/><stop offset=".8333" stop-color="#777777"/><stop offset=".875" stop-color="#7a7a7a"/><stop offset=".9167" stop-color="#7c7c7c"/><stop offset=".9583" stop-color="#7d7d7d"/><stop offset="1" stop-color="#7d7d7d"/></linearGradient>
<linearGradient id="gC27"><stop offset="0" stop-color="#555555"/><stop offset=".0417" stop-color="#555555"/><stop offset=".0833" stop-color="#545454"/><stop offset=".125" stop-color="#535353"/><stop offset=".1667" stop-color="#535353"/><stop offset=".2083" stop-color="#525252"/><stop offset=".25" stop-color="#4f4f4f"/><stop offset=".2917" stop-color="#4b4b4b"/><stop offset=".3333" stop-color="#474747"/><stop offset=".375" stop-color="#434343"/><stop offset=".4167" stop-color="#404040"/><stop offset=".4583" stop-color="#404040"/><stop offset=".5" stop-color="#424242"/><stop offset=".5417" stop-color="#464646"/><stop offset=".5833" stop-color="#4b4b4b"/><stop offset=".625" stop-color="#535353"/><stop offset=".6667" stop-color="#5b5b5b"/><stop offset=".7083" stop-color="#646464"/><stop offset=".75" stop-color="#6c6c6c"/><stop offset=".7917" stop-color="#737373"/><stop offset=".8333" stop-color="#777777"/><stop offset=".875" stop-color="#797979"/><stop offset=".9167" stop-color="#7c7c7c"/><stop offset=".9583" stop-color="#7d7d7d"/><stop offset="1" stop-color="#7c7c7c"/></linearGradient>
<linearGradient id="gC28"><stop offset="0" stop-color="#555555"/><stop offset=".0417" stop-color="#555555"/><stop offset=".0833" stop-color="#545454"/><stop offset=".125" stop-color="#535353"/><stop offset=".1667" stop-color="#515151"/><stop offset=".2083" stop-color="#505050"/><stop offset=".25" stop-color="#4e4e4e"/><stop offset=".2917" stop-color="#4a4a4a"/><stop offset=".3333" stop-color="#454545"/><stop offset=".375" stop-color="#414141"/><stop offset=".4167" stop-color="#3f3f3f"/><stop offset=".4583" stop-color="#3f3f3f"/><stop offset=".5" stop-color="#404040"/><stop offset=".5417" stop-color="#434343"/><stop offset=".5833" stop-color="#494949"/><stop offset=".625" stop-color="#505050"/><stop offset=".6667" stop-color="#5a5a5a"/><stop offset=".7083" stop-color="#636363"/><stop offset=".75" stop-color="#6c6c6c"/><stop offset=".7917" stop-color="#727272"/><stop offset=".8333" stop-color="#767676"/><stop offset=".875" stop-color="#797979"/><stop offset=".9167" stop-color="#7b7b7b"/><stop offset=".9583" stop-color="#7c7c7c"/><stop offset="1" stop-color="#7c7c7c"/></linearGradient>
<linearGradient id="gC29"><stop offset="0" stop-color="#555555"/><stop offset=".0417" stop-color="#555555"/><stop offset=".0833" stop-color="#545454"/><stop offset=".125" stop-color="#525252"/><stop offset=".1667" stop-color="#505050"/><stop offset=".2083" stop-color="#4f4f4f"/><stop offset=".25" stop-color="#4c4c4c"/><stop offset=".2917" stop-color="#484848"/><stop offset=".3333" stop-color="#434343"/><stop offset=".375" stop-color="#404040"/><stop offset=".4167" stop-color="#3e3e3e"/><stop offset=".4583" stop-color="#3e3e3e"/><stop offset=".5" stop-color="#3f3f3f"/><stop offset=".5417" stop-color="#414141"/><stop offset=".5833" stop-color="#474747"/><stop offset=".625" stop-color="#4f4f4f"/><stop offset=".6667" stop-color="#585858"/><stop offset=".7083" stop-color="#636363"/><stop offset=".75" stop-color="#6c6c6c"/><stop offset=".7917" stop-color="#727272"/><stop offset=".8333" stop-color="#767676"/><stop offset=".875" stop-color="#797979"/><stop offset=".9167" stop-color="#7a7a7a"/><stop offset=".9583" stop-color="#7b7b7b"/><stop offset="1" stop-color="#7b7b7b"/></linearGradient>
<linearGradient id="gC30"><stop offset="0" stop-color="#555555"/><stop offset=".0417" stop-color="#555555"/><stop offset=".0833" stop-color="#535353"/><stop offset=".125" stop-color="#515151"/><stop offset=".1667" stop-color="#505050"/><stop offset=".2083" stop-color="#4e4e4e"/><stop offset=".25" stop-color="#4b4b4b"/><stop offset=".2917" stop-color="#474747"/><stop offset=".3333" stop-color="#424242"/><stop offset=".375" stop-color="#3f3f3f"/><stop offset=".4167" stop-color="#3d3d3d"/><stop offset=".4583" stop-color="#3d3d3d"/><stop offset=".5" stop-color="#3e3e3e"/><stop offset=".5417" stop-color="#404040"/><stop offset=".5833" stop-color="#464646"/><stop offset=".625" stop-color="#4e4e4e"/><stop offset=".6667" stop-color="#585858"/><stop offset=".7083" stop-color="#636363"/><stop offset=".75" stop-color="#6c6c6c"/><stop offset=".7917" stop-color="#737373"/><stop offset=".8333" stop-color="#767676"/><stop offset=".875" stop-color="#797979"/><stop offset=".9167" stop-color="#7a7a7a"/><stop offset=".9583" stop-color="#7b7b7b"/><stop offset="1" stop-color="#7b7b7b"/></linearGradient>
<linearGradient id="gC31"><stop offset="0" stop-color="#555555"/><stop offset=".0417" stop-color="#555555"/><stop offset=".0833" stop-color="#545454"/><stop offset=".125" stop-color="#515151"/><stop offset=".1667" stop-color="#4f4f4f"/><stop offset=".2083" stop-color="#4e4e4e"/><stop offset=".25" stop-color="#4b4b4b"/><stop offset=".2917" stop-color="#464646"/><stop offset=".3333" stop-color="#414141"/><stop offset=".375" stop-color="#3e3e3e"/><stop offset=".4167" stop-color="#3d3d3d"/><stop offset=".4583" stop-color="#3d3d3d"/><stop offset=".5" stop-color="#3d3d3d"/><stop offset=".5417" stop-color="#3f3f3f"/><stop offset=".5833" stop-color="#454545"/><stop offset=".625" stop-color="#4e4e4e"/><stop offset=".6667" stop-color="#585858"/><stop offset=".7083" stop-color="#636363"/><stop offset=".75" stop-color="#6d6d6d"/><stop offset=".7917" stop-color="#737373"/><stop offset=".8333" stop-color="#777777"/><stop offset=".875" stop-color="#797979"/><stop offset=".9167" stop-color="#7b7b7b"/><stop offset=".9583" stop-color="#7b7b7b"/><stop offset="1" stop-color="#7b7b7b"/></linearGradient>
<linearGradient id="gC32"><stop offset="0" stop-color="#565656"/><stop offset=".0417" stop-color="#555555"/><stop offset=".0833" stop-color="#545454"/><stop offset=".125" stop-color="#515151"/><stop offset=".1667" stop-color="#4f4f4f"/><stop offset=".2083" stop-color="#4e4e4e"/><stop offset=".25" stop-color="#4b4b4b"/><stop offset=".2917" stop-color="#464646"/><stop offset=".3333" stop-color="#414141"/><stop offset=".375" stop-color="#3e3e3e"/><stop offset=".4167" stop-color="#3c3c3c"/><stop offset=".4583" stop-color="#3c3c3c"/><stop offset=".5" stop-color="#3d3d3d"/><stop offset=".5417" stop-color="#3f3f3f"/><stop offset=".5833" stop-color="#464646"/><stop offset=".625" stop-color="#4e4e4e"/><stop offset=".6667" stop-color="#595959"/><stop offset=".7083" stop-color="#646464"/><stop offset=".75" stop-color="#6d6d6d"/><stop offset=".7917" stop-color="#747474"/><stop offset=".8333" stop-color="#787878"/><stop offset=".875" stop-color="#7a7a7a"/><stop offset=".9167" stop-color="#7b7b7b"/><stop offset=".9583" stop-color="#7c7c7c"/><stop offset="1" stop-color="#7c7c7c"/></linearGradient>
<linearGradient id="gC33"><stop offset="0" stop-color="#565656"/><stop offset=".0417" stop-color="#565656"/><stop offset=".0833" stop-color="#545454"/><stop offset=".125" stop-color="#525252"/><stop offset=".1667" stop-color="#505050"/><stop offset=".2083" stop-color="#4f4f4f"/><stop offset=".25" stop-color="#4c4c4c"/><stop offset=".2917" stop-color="#474747"/><stop offset=".3333" stop-color="#414141"/><stop offset=".375" stop-color="#3e3e3e"/><stop offset=".4167" stop-color="#3c3c3c"/><stop offset=".4583" stop-color="#3c3c3c"/><stop offset=".5" stop-color="#3d3d3d"/><stop offset=".5417" stop-color="#404040"/><stop offset=".5833" stop-color="#474747"/><stop offset=".625" stop-color="#505050"/><stop offset=".6667" stop-color="#5b5b5b"/><stop offset=".7083" stop-color="#656565"/><stop offset=".75" stop-color="#6e6e6e"/><stop offset=".7917" stop-color="#757575"/><stop offset=".8333" stop-color="#797979"/><stop offset=".875" stop-color="#7b7b7b"/><stop offset=".9167" stop-color="#7c7c7c"/><stop offset=".9583" stop-color="#7d7d7d"/><stop offset="1" stop-color="#7d7d7d"/></linearGradient>
<linearGradient id="gC34"><stop offset="0" stop-color="#565656"/><stop offset=".0417" stop-color="#565656"/><stop offset=".0833" stop-color="#555555"/><stop offset=".125" stop-color="#535353"/><stop offset=".1667" stop-color="#515151"/><stop offset=".2083" stop-color="#505050"/><stop offset=".25" stop-color="#4d4d4d"/><stop offset=".2917" stop-color="#484848"/><stop offset=".3333" stop-color="#424242"/><stop offset=".375" stop-color="#3f3f3f"/><stop offset=".4167" stop-color="#3d3d3d"/><stop offset=".4583" stop-color="#3c3c3c"/><stop offset=".5" stop-color="#3e3e3e"/><stop offset=".5417" stop-color="#424242"/><stop offset=".5833" stop-color="#494949"/><stop offset=".625" stop-color="#525252"/><stop offset=".6667" stop-color="#5d5d5d"/><stop offset=".7083" stop-color="#676767"/><stop offset=".75" stop-color="#707070"/><stop offset=".7917" stop-color="#767676"/><stop offset=".8333" stop-color="#7a7a7a"/><stop offset=".875" stop-color="#7c7c7c"/><stop offset=".9167" stop-color="#7d7d7d"/><stop offset=".9583" stop-color="#7e7e7e"/><stop offset="1" stop-color="#7e7e7e"/></linearGradient>
<linearGradient id="gC35"><stop offset="0" stop-color="#575757"/><stop offset=".0417" stop-color="#575757"/><stop offset=".0833" stop-color="#565656"/><stop offset=".125" stop-color="#545454"/><stop offset=".1667" stop-color="#535353"/><stop offset=".2083" stop-color="#515151"/><stop offset=".25" stop-color="#4e4e4e"/><stop offset=".2917" stop-color="#494949"/><stop offset=".3333" stop-color="#444444"/><stop offset=".375" stop-color="#404040"/><stop offset=".4167" stop-color="#3d3d3d"/><stop offset=".4583" stop-color="#3d3d3d"/><stop offset=".5" stop-color="#3f3f3f"/><stop offset=".5417" stop-color="#444444"/><stop offset=".5833" stop-color="#4b4b4b"/><stop offset=".625" stop-color="#555555"/><stop offset=".6667" stop-color="#5f5f5f"/><stop offset=".7083" stop-color="#696969"/><stop offset=".75" stop-color="#717171"/><stop offset=".7917" stop-color="#777777"/><stop offset=".8333" stop-color="#7b7b7b"/><stop offset=".875" stop-color="#7d7d7d"/><stop offset=".9167" stop-color="#7f7f7f"/><stop offset=".9583" stop-color="#7f7f7f"/><stop offset="1" stop-color="#7f7f7f"/></linearGradient>
<linearGradient id="gC36"><stop offset="0" stop-color="#575757"/><stop offset=".0417" stop-color="#575757"/><stop offset=".0833" stop-color="#565656"/><stop offset=".125" stop-color="#555555"/><stop offset=".1667" stop-color="#545454"/><stop offset=".2083" stop-color="#535353"/><stop offset=".25" stop-color="#505050"/><stop offset=".2917" stop-color="#4b4b4b"/><stop offset=".3333" stop-color="#464646"/><stop offset=".375" stop-color="#414141"/><stop offset=".4167" stop-color="#3e3e3e"/><stop offset=".4583" stop-color="#3e3e3e"/><stop offset=".5" stop-color="#404040"/><stop offset=".5417" stop-color="#464646"/><stop offset=".5833" stop-color="#4e4e4e"/><stop offset=".625" stop-color="#575757"/><stop offset=".6667" stop-color="#626262"/><stop offset=".7083" stop-color="#6b6b6b"/><stop offset=".75" stop-color="#737373"/><stop offset=".7917" stop-color="#797979"/><stop offset=".8333" stop-color="#7d7d7d"/><stop offset=".875" stop-color="#7f7f7f"/><stop offset=".9167" stop-color="#808080"/><stop offset=".9583" stop-color="#818181"/><stop offset="1" stop-color="#818181"/></linearGradient>
<linearGradient id="gC37"><stop offset="0" stop-color="#585858"/><stop offset=".0417" stop-color="#585858"/><stop offset=".0833" stop-color="#575757"/><stop offset=".125" stop-color="#575757"/><stop offset=".1667" stop-color="#565656"/><stop offset=".2083" stop-color="#555555"/><stop offset=".25" stop-color="#525252"/><stop offset=".2917" stop-color="#4d4d4d"/><stop offset=".3333" stop-color="#474747"/><stop offset=".375" stop-color="#434343"/><stop offset=".4167" stop-color="#3f3f3f"/><stop offset=".4583" stop-color="#3f3f3f"/><stop offset=".5" stop-color="#424242"/><stop offset=".5417" stop-color="#484848"/><stop offset=".5833" stop-color="#505050"/><stop offset=".625" stop-color="#5a5a5a"/><stop offset=".6667" stop-color="#646464"/><stop offset=".7083" stop-color="#6d6d6d"/><stop offset=".75" stop-color="#757575"/><stop offset=".7917" stop-color="#7a7a7a"/><stop offset=".8333" stop-color="#7e7e7e"/><stop offset=".875" stop-color="#818181"/><stop offset=".9167" stop-color="#828282"/><stop offset=".9583" stop-color="#838383"/><stop offset="1" stop-color="#828282"/></linearGradient>
<linearGradient id="gC38"><stop offset="0" stop-color="#585858"/><stop offset=".0417" stop-color="#585858"/><stop offset=".0833" stop-color="#585858"/><stop offset=".125" stop-color="#585858"/><stop offset=".1667" stop-color="#575757"/><stop offset=".2083" stop-color="#565656"/><stop offset=".25" stop-color="#545454"/><stop offset=".2917" stop-color="#4f4f4f"/><stop offset=".3333" stop-color="#494949"/><stop offset=".375" stop-color="#444444"/><stop offset=".4167" stop-color="#414141"/><stop offset=".4583" stop-color="#404040"/><stop offset=".5" stop-color="#444444"/><stop offset=".5417" stop-color="#4a4a4a"/><stop offset=".5833" stop-color="#525252"/><stop offset=".625" stop-color="#5d5d5d"/><stop offset=".6667" stop-color="#666666"/><stop offset=".7083" stop-color="#6f6f6f"/><stop offset=".75" stop-color="#767676"/><stop offset=".7917" stop-color="#7c7c7c"/><stop offset=".8333" stop-color="#808080"/><stop offset=".875" stop-color="#828282"/><stop offset=".9167" stop-color="#848484"/><stop offset=".9583" stop-color="#848484"/><stop offset="1" stop-color="#848484"/></linearGradient>
<linearGradient id="gC39"><stop offset="0" stop-color="#595959"/><stop offset=".0417" stop-color="#595959"/><stop offset=".0833" stop-color="#595959"/><stop offset=".125" stop-color="#595959"/><stop offset=".1667" stop-color="#595959"/><stop offset=".2083" stop-color="#585858"/><stop offset=".25" stop-color="#555555"/><stop offset=".2917" stop-color="#515151"/><stop offset=".3333" stop-color="#4b4b4b"/><stop offset=".375" stop-color="#464646"/><stop offset=".4167" stop-color="#434343"/><stop offset=".4583" stop-color="#424242"/><stop offset=".5" stop-color="#464646"/><stop offset=".5417" stop-color="#4c4c4c"/><stop offset=".5833" stop-color="#545454"/><stop offset=".625" stop-color="#5f5f5f"/><stop offset=".6667" stop-color="#686868"/><stop offset=".7083" stop-color="#717171"/><stop offset=".75" stop-color="#787878"/><stop offset=".7917" stop-color="#7d7d7d"/><stop offset=".8333" stop-color="#818181"/><stop offset=".875" stop-color="#848484"/><stop offset=".9167" stop-color="#868686"/><stop offset=".9583" stop-color="#868686"/><stop offset="1" stop-color="#868686"/></linearGradient>
<linearGradient id="gC40"><stop offset="0" stop-color="#5a5a5a"/><stop offset=".0417" stop-color="#5a5a5a"/><stop offset=".0833" stop-color="#5a5a5a"/><stop offset=".125" stop-color="#5a5a5a"/><stop offset=".1667" stop-color="#5a5a5a"/><stop offset=".2083" stop-color="#595959"/><stop offset=".25" stop-color="#575757"/><stop offset=".2917" stop-color="#535353"/><stop offset=".3333" stop-color="#4e4e4e"/><stop offset=".375" stop-color="#494949"/><stop offset=".4167" stop-color="#454545"/><stop offset=".4583" stop-color="#454545"/><stop offset=".5" stop-color="#494949"/><stop offset=".5417" stop-color="#4e4e4e"/><stop offset=".5833" stop-color="#565656"/><stop offset=".625" stop-color="#606060"/><stop offset=".6667" stop-color="#6a6a6a"/><stop offset=".7083" stop-color="#727272"/><stop offset=".75" stop-color="#797979"/><stop offset=".7917" stop-color="#7f7f7f"/><stop offset=".8333" stop-color="#838383"/><stop offset=".875" stop-color="#868686"/><stop offset=".9167" stop-color="#878787"/><stop offset=".9583" stop-color="#888888"/><stop offset="1" stop-color="#888888"/></linearGradient>
<linearGradient id="gC41"><stop offset="0" stop-color="#5a5a5a"/><stop offset=".0417" stop-color="#5b5b5b"/><stop offset=".0833" stop-color="#5b5b5b"/><stop offset=".125" stop-color="#5b5b5b"/><stop offset=".1667" stop-color="#5b5b5b"/><stop offset=".2083" stop-color="#5a5a5a"/><stop offset=".25" stop-color="#585858"/><stop offset=".2917" stop-color="#545454"/><stop offset=".3333" stop-color="#4f4f4f"/><stop offset=".375" stop-color="#4b4b4b"/><stop offset=".4167" stop-color="#474747"/><stop offset=".4583" stop-color="#484848"/><stop offset=".5" stop-color="#4b4b4b"/><stop offset=".5417" stop-color="#515151"/><stop offset=".5833" stop-color="#585858"/><stop offset=".625" stop-color="#616161"/><stop offset=".6667" stop-color="#6b6b6b"/><stop offset=".7083" stop-color="#747474"/><stop offset=".75" stop-color="#7b7b7b"/><stop offset=".7917" stop-color="#808080"/><stop offset=".8333" stop-color="#848484"/><stop offset=".875" stop-color="#878787"/><stop offset=".9167" stop-color="#898989"/><stop offset=".9583" stop-color="#8a8a8a"/><stop offset="1" stop-color="#898989"/></linearGradient>
<linearGradient id="gC42"><stop offset="0" stop-color="#5b5b5b"/><stop offset=".0417" stop-color="#5b5b5b"/><stop offset=".0833" stop-color="#5c5c5c"/><stop offset=".125" stop-color="#5c5c5c"/><stop offset=".1667" stop-color="#5c5c5c"/><stop offset=".2083" stop-color="#5b5b5b"/><stop offset=".25" stop-color="#595959"/><stop offset=".2917" stop-color="#565656"/><stop offset=".3333" stop-color="#515151"/><stop offset=".375" stop-color="#4d4d4d"/><stop offset=".4167" stop-color="#4a4a4a"/><stop offset=".4583" stop-color="#4a4a4a"/><stop offset=".5" stop-color="#4e4e4e"/><stop offset=".5417" stop-color="#535353"/><stop offset=".5833" stop-color="#595959"/><stop offset=".625" stop-color="#626262"/><stop offset=".6667" stop-color="#6c6c6c"/><stop offset=".7083" stop-color="#757575"/><stop offset=".75" stop-color="#7c7c7c"/><stop offset=".7917" stop-color="#828282"/><stop offset=".8333" stop-color="#868686"/><stop offset=".875" stop-color="#898989"/><stop offset=".9167" stop-color="#8b8b8b"/><stop offset=".9583" stop-color="#8c8c8c"/><stop offset="1" stop-color="#8b8b8b"/></linearGradient>
<linearGradient id="gC43"><stop offset="0" stop-color="#5b5b5b"/><stop offset=".0417" stop-color="#5c5c5c"/><stop offset=".0833" stop-color="#5c5c5c"/><stop offset=".125" stop-color="#5d5d5d"/><stop offset=".1667" stop-color="#5d5d5d"/><stop offset=".2083" stop-color="#5c5c5c"/><stop offset=".25" stop-color="#5b5b5b"/><stop offset=".2917" stop-color="#585858"/><stop offset=".3333" stop-color="#535353"/><stop offset=".375" stop-color="#4f4f4f"/><stop offset=".4167" stop-color="#4c4c4c"/><stop offset=".4583" stop-color="#4d4d4d"/><stop offset=".5" stop-color="#505050"/><stop offset=".5417" stop-color="#555555"/><stop offset=".5833" stop-color="#5b5b5b"/><stop offset=".625" stop-color="#646464"/><stop offset=".6667" stop-color="#6e6e6e"/><stop offset=".7083" stop-color="#777777"/><stop offset=".75" stop-color="#7e7e7e"/><stop offset=".7917" stop-color="#838383"/><stop offset=".8333" stop-color="#878787"/><stop offset=".875" stop-color="#8a8a8a"/><stop offset=".9167" stop-color="#8c8c8c"/><stop offset=".9583" stop-color="#8d8d8d"/><stop offset="1" stop-color="#8c8c8c"/></linearGradient>
<linearGradient id="gC44"><stop offset="0" stop-color="#5c5c5c"/><stop offset=".0417" stop-color="#5c5c5c"/><stop offset=".0833" stop-color="#5d5d5d"/><stop offset=".125" stop-color="#5d5d5d"/><stop offset=".1667" stop-color="#5d5d5d"/><stop offset=".2083" stop-color="#5d5d5d"/><stop offset=".25" stop-color="#5b5b5b"/><stop offset=".2917" stop-color="#595959"/><stop offset=".3333" stop-color="#555555"/><stop offset=".375" stop-color="#515151"/><stop offset=".4167" stop-color="#4f4f4f"/><stop offset=".4583" stop-color="#4f4f4f"/><stop offset=".5" stop-color="#535353"/><stop offset=".5417" stop-color="#575757"/><stop offset=".5833" stop-color="#5c5c5c"/><stop offset=".625" stop-color="#656565"/><stop offset=".6667" stop-color="#6f6f6f"/><stop offset=".7083" stop-color="#787878"/><stop offset=".75" stop-color="#808080"/><stop offset=".7917" stop-color="#858585"/><stop offset=".8333" stop-color="#898989"/><stop offset=".875" stop-color="#8c8c8c"/><stop offset=".9167" stop-color="#8e8e8e"/><stop offset=".9583" stop-color="#8f8f8f"/><stop offset="1" stop-color="#8e8e8e"/></linearGradient>
<linearGradient id="gC45"><stop offset="0" stop-color="#5c5c5c"/><stop offset=".0417" stop-color="#5d5d5d"/><stop offset=".0833" stop-color="#5d5d5d"/><stop offset=".125" stop-color="#5e5e5e"/><stop offset=".1667" stop-color="#5e5e5e"/><stop offset=".2083" stop-color="#5d5d5d"/><stop offset=".25" stop-color="#5c5c5c"/><stop offset=".2917" stop-color="#5a5a5a"/><stop offset=".3333" stop-color="#565656"/><stop offset=".375" stop-color="#535353"/><stop offset=".4167" stop-color="#515151"/><stop offset=".4583" stop-color="#525252"/><stop offset=".5" stop-color="#555555"/><stop offset=".5417" stop-color="#5a5a5a"/><stop offset=".5833" stop-color="#5e5e5e"/><stop offset=".625" stop-color="#666666"/><stop offset=".6667" stop-color="#717171"/><stop offset=".7083" stop-color="#7a7a7a"/><stop offset=".75" stop-color="#818181"/><stop offset=".7917" stop-color="#878787"/><stop offset=".8333" stop-color="#8b8b8b"/><stop offset=".875" stop-color="#8d8d8d"/><stop offset=".9167" stop-color="#8f8f8f"/><stop offset=".9583" stop-color="#909090"/><stop offset="1" stop-color="#8f8f8f"/></linearGradient>
<linearGradient id="gC46"><stop offset="0" stop-color="#5d5d5d"/><stop offset=".0417" stop-color="#5d5d5d"/><stop offset=".0833" stop-color="#5e5e5e"/><stop offset=".125" stop-color="#5e5e5e"/><stop offset=".1667" stop-color="#5e5e5e"/><stop offset=".2083" stop-color="#5e5e5e"/><stop offset=".25" stop-color="#5d5d5d"/><stop offset=".2917" stop-color="#5b5b5b"/><stop offset=".3333" stop-color="#585858"/><stop offset=".375" stop-color="#545454"/><stop offset=".4167" stop-color="#535353"/><stop offset=".4583" stop-color="#545454"/><stop offset=".5" stop-color="#585858"/><stop offset=".5417" stop-color="#5c5c5c"/><stop offset=".5833" stop-color="#606060"/><stop offset=".625" stop-color="#686868"/><stop offset=".6667" stop-color="#737373"/><stop offset=".7083" stop-color="#7c7c7c"/><stop offset=".75" stop-color="#838383"/><stop offset=".7917" stop-color="#898989"/><stop offset=".8333" stop-color="#8c8c8c"/><stop offset=".875" stop-color="#8e8e8e"/><stop offset=".9167" stop-color="#909090"/><stop offset=".9583" stop-color="#919191"/><stop offset="1" stop-color="#8f8f8f"/></linearGradient>
<linearGradient id="gC47"><stop offset="0" stop-color="#5d5d5d"/><stop offset=".0417" stop-color="#5d5d5d"/><stop offset=".0833" stop-color="#5e5e5e"/><stop offset=".125" stop-color="#5e5e5e"/><stop offset=".1667" stop-color="#5e5e5e"/><stop offset=".2083" stop-color="#5e5e5e"/><stop offset=".25" stop-color="#5d5d5d"/><stop offset=".2917" stop-color="#5b5b5b"/><stop offset=".3333" stop-color="#595959"/><stop offset=".375" stop-color="#565656"/><stop offset=".4167" stop-color="#555555"/><stop offset=".4583" stop-color="#575757"/><stop offset=".5" stop-color="#5a5a5a"/><stop offset=".5417" stop-color="#5e5e5e"/><stop offset=".5833" stop-color="#636363"/><stop offset=".625" stop-color="#6b6b6b"/><stop offset=".6667" stop-color="#757575"/><stop offset=".7083" stop-color="#7e7e7e"/><stop offset=".75" stop-color="#858585"/><stop offset=".7917" stop-color="#8a8a8a"/><stop offset=".8333" stop-color="#8e8e8e"/><stop offset=".875" stop-color="#909090"/><stop offset=".9167" stop-color="#919191"/><stop offset=".9583" stop-color="#919191"/><stop offset="1" stop-color="#909090"/></linearGradient>
<linearGradient id="gC48"><stop offset="0" stop-color="#5d5d5d"/><stop offset=".0417" stop-color="#5e5e5e"/><stop offset=".0833" stop-color="#5e5e5e"/><stop offset=".125" stop-color="#5e5e5e"/><stop offset=".1667" stop-color="#5e5e5e"/><stop offset=".2083" stop-color="#5e5e5e"/><stop offset=".25" stop-color="#5d5d5d"/><stop offset=".2917" stop-color="#5c5c5c"/><stop offset=".3333" stop-color="#595959"/><stop offset=".375" stop-color="#575757"/><stop offset=".4167" stop-color="#575757"/><stop offset=".4583" stop-color="#595959"/><stop offset=".5" stop-color="#5d5d5d"/><stop offset=".5417" stop-color="#616161"/><stop offset=".5833" stop-color="#666666"/><stop offset=".625" stop-color="#6e6e6e"/><stop offset=".6667" stop-color="#777777"/><stop offset=".7083" stop-color="#808080"/><stop offset=".75" stop-color="#878787"/><stop offset=".7917" stop-color="#8c8c8c"/><stop offset=".8333" stop-color="#909090"/><stop offset=".875" stop-color="#919191"/><stop offset=".9167" stop-color="#929292"/><stop offset=".9583" stop-color="#919191"/><stop offset="1" stop-color="#909090"/></linearGradient>
<linearGradient id="gC49"><stop offset="0" stop-color="#5e5e5e"/><stop offset=".0417" stop-color="#5e5e5e"/><stop offset=".0833" stop-color="#5e5e5e"/><stop offset=".125" stop-color="#5e5e5e"/><stop offset=".1667" stop-color="#5e5e5e"/><stop offset=".2083" stop-color="#5e5e5e"/><stop offset=".25" stop-color="#5d5d5d"/><stop offset=".2917" stop-color="#5c5c5c"/><stop offset=".3333" stop-color="#5a5a5a"/><stop offset=".375" stop-color="#595959"/><stop offset=".4167" stop-color="#595959"/><stop offset=".4583" stop-color="#5c5c5c"/><stop offset=".5" stop-color="#5f5f5f"/><stop offset=".5417" stop-color="#646464"/><stop offset=".5833" stop-color="#6a6a6a"/><stop offset=".625" stop-color="#717171"/><stop offset=".6667" stop-color="#797979"/><stop offset=".7083" stop-color="#828282"/><stop offset=".75" stop-color="#898989"/><stop offset=".7917" stop-color="#8e8e8e"/><stop offset=".8333" stop-color="#919191"/><stop offset=".875" stop-color="#929292"/><stop offset=".9167" stop-color="#929292"/><stop offset=".9583" stop-color="#919191"/><stop offset="1" stop-color="#909090"/></linearGradient>
<linearGradient id="gC50"><stop offset="0" stop-color="#5e5e5e"/><stop offset=".0417" stop-color="#5e5e5e"/><stop offset=".0833" stop-color="#5f5f5f"/><stop offset=".125" stop-color="#5f5f5f"/><stop offset=".1667" stop-color="#5e5e5e"/><stop offset=".2083" stop-color="#5e5e5e"/><stop offset=".25" stop-color="#5d5d5d"/><stop offset=".2917" stop-color="#5d5d5d"/><stop offset=".3333" stop-color="#5c5c5c"/><stop offset=".375" stop-color="#5b5b5b"/><stop offset=".4167" stop-color="#5c5c5c"/><stop offset=".4583" stop-color="#5f5f5f"/><stop offset=".5" stop-color="#626262"/><stop offset=".5417" stop-color="#676767"/><stop offset=".5833" stop-color="#6d6d6d"/><stop offset=".625" stop-color="#747474"/><stop offset=".6667" stop-color="#7c7c7c"/><stop offset=".7083" stop-color="#848484"/><stop offset=".75" stop-color="#8a8a8a"/><stop offset=".7917" stop-color="#8f8f8f"/><stop offset=".8333" stop-color="#929292"/><stop offset=".875" stop-color="#939393"/><stop offset=".9167" stop-color="#929292"/><stop offset=".9583" stop-color="#919191"/><stop offset="1" stop-color="#909090"/></linearGradient>
<linearGradient id="gC51"><stop offset="0" stop-color="#5e5e5e"/><stop offset=".0417" stop-color="#5f5f5f"/><stop offset=".0833" stop-color="#5f5f5f"/><stop offset=".125" stop-color="#5f5f5f"/><stop offset=".1667" stop-color="#5f5f5f"/><stop offset=".2083" stop-color="#5e5e5e"/><stop offset=".25" stop-color="#5e5e5e"/><stop offset=".2917" stop-color="#5d5d5d"/><stop offset=".3333" stop-color="#5d5d5d"/><stop offset=".375" stop-color="#5d5d5d"/><stop offset=".4167" stop-color="#5f5f5f"/><stop offset=".4583" stop-color="#626262"/><stop offset=".5" stop-color="#656565"/><stop offset=".5417" stop-color="#6b6b6b"/><stop offset=".5833" stop-color="#717171"/><stop offset=".625" stop-color="#777777"/><stop offset=".6667" stop-color="#7e7e7e"/><stop offset=".7083" stop-color="#858585"/><stop offset=".75" stop-color="#8b8b8b"/><stop offset=".7917" stop-color="#909090"/><stop offset=".8333" stop-color="#939393"/><stop offset=".875" stop-color="#939393"/><stop offset=".9167" stop-color="#929292"/><stop offset=".9583" stop-color="#909090"/><stop offset="1" stop-color="#8f8f8f"/></linearGradient>
<linearGradient id="gC52"><stop offset="0" stop-color="#5f5f5f"/><stop offset=".0417" stop-color="#5f5f5f"/><stop offset=".0833" stop-color="#5f5f5f"/><stop offset=".125" stop-color="#5f5f5f"/><stop offset=".1667" stop-color="#5f5f5f"/><stop offset=".2083" stop-color="#5e5e5e"/><stop offset=".25" stop-color="#5e5e5e"/><stop offset=".2917" stop-color="#5f5f5f"/><stop offset=".3333" stop-color="#5f5f5f"/><stop offset=".375" stop-color="#5f5f5f"/><stop offset=".4167" stop-color="#626262"/><stop offset=".4583" stop-color="#666666"/><stop offset=".5" stop-color="#696969"/><stop offset=".5417" stop-color="#6f6f6f"/><stop offset=".5833" stop-color="#757575"/><stop offset=".625" stop-color="#7a7a7a"/><stop offset=".6667" stop-color="#808080"/><stop offset=".7083" stop-color="#868686"/><stop offset=".75" stop-color="#8c8c8c"/><stop offset=".7917" stop-color="#919191"/><stop offset=".8333" stop-color="#939393"/><stop offset=".875" stop-color="#939393"/><stop offset=".9167" stop-color="#919191"/><stop offset=".9583" stop-color="#8f8f8f"/><stop offset="1" stop-color="#8e8e8e"/></linearGradient>
<linearGradient id="gC53"><stop offset="0" stop-color="#5f5f5f"/><stop offset=".0417" stop-color="#5f5f5f"/><stop offset=".0833" stop-color="#5f5f5f"/><stop offset=".125" stop-color="#5f5f5f"/><stop offset=".1667" stop-color="#5f5f5f"/><stop offset=".2083" stop-color="#5f5f5f"/><stop offset=".25" stop-color="#5f5f5f"/><stop offset=".2917" stop-color="#606060"/><stop offset=".3333" stop-color="#626262"/><stop offset=".375" stop-color="#626262"/><stop offset=".4167" stop-color="#666666"/><stop offset=".4583" stop-color="#6a6a6a"/><stop offset=".5" stop-color="#6d6d6d"/><stop offset=".5417" stop-color="#737373"/><stop offset=".5833" stop-color="#797979"/><stop offset=".625" stop-color="#7d7d7d"/><stop offset=".6667" stop-color="#828282"/><stop offset=".7083" stop-color="#878787"/><stop offset=".75" stop-color="#8c8c8c"/><stop offset=".7917" stop-color="#919191"/><stop offset=".8333" stop-color="#939393"/><stop offset=".875" stop-color="#929292"/><stop offset=".9167" stop-color="#909090"/><stop offset=".9583" stop-color="#8e8e8e"/><stop offset="1" stop-color="#8e8e8e"/></linearGradient>
<linearGradient id="gC54"><stop offset="0" stop-color="#5f5f5f"/><stop offset=".0417" stop-color="#606060"/><stop offset=".0833" stop-color="#5f5f5f"/><stop offset=".125" stop-color="#5f5f5f"/><stop offset=".1667" stop-color="#5f5f5f"/><stop offset=".2083" stop-color="#5f5f5f"/><stop offset=".25" stop-color="#606060"/><stop offset=".2917" stop-color="#636363"/><stop offset=".3333" stop-color="#646464"/><stop offset=".375" stop-color="#666666"/><stop offset=".4167" stop-color="#6a6a6a"/><stop offset=".4583" stop-color="#6f6f6f"/><stop offset=".5" stop-color="#727272"/><stop offset=".5417" stop-color="#777777"/><stop offset=".5833" stop-color="#7d7d7d"/><stop offset=".625" stop-color="#808080"/><stop offset=".6667" stop-color="#848484"/><stop offset=".7083" stop-color="#888888"/><stop offset=".75" stop-color="#8c8c8c"/><stop offset=".7917" stop-color="#909090"/><stop offset=".8333" stop-color="#919191"/><stop offset=".875" stop-color="#919191"/><stop offset=".9167" stop-color="#8f8f8f"/><stop offset=".9583" stop-color="#8d8d8d"/><stop offset="1" stop-color="#8d8d8d"/></linearGradient>
<linearGradient id="gC55"><stop offset="0" stop-color="#606060"/><stop offset=".0417" stop-color="#606060"/><stop offset=".0833" stop-color="#606060"/><stop offset=".125" stop-color="#5f5f5f"/><stop offset=".1667" stop-color="#5f5f5f"/><stop offset=".2083" stop-color="#606060"/><stop offset=".25" stop-color="#626262"/><stop offset=".2917" stop-color="#656565"/><stop offset=".3333" stop-color="#676767"/><stop offset=".375" stop-color="#696969"/><stop offset=".4167" stop-color="#6e6e6e"/><stop offset=".4583" stop-color="#737373"/><stop offset=".5" stop-color="#767676"/><stop offset=".5417" stop-color="#7b7b7b"/><stop offset=".5833" stop-color="#818181"/><stop offset=".625" stop-color="#838383"/><stop offset=".6667" stop-color="#858585"/><stop offset=".7083" stop-color="#888888"/><stop offset=".75" stop-color="#8c8c8c"/><stop offset=".7917" stop-color="#8f8f8f"/><stop offset=".8333" stop-color="#909090"/><stop offset=".875" stop-color="#8f8f8f"/><stop offset=".9167" stop-color="#8e8e8e"/><stop offset=".9583" stop-color="#8c8c8c"/><stop offset="1" stop-color="#8c8c8c"/></linearGradient>
<linearGradient id="gC56"><stop offset="0" stop-color="#606060"/><stop offset=".0417" stop-color="#606060"/><stop offset=".0833" stop-color="#606060"/><stop offset=".125" stop-color="#606060"/><stop offset=".1667" stop-color="#606060"/><stop offset=".2083" stop-color="#606060"/><stop offset=".25" stop-color="#636363"/><stop offset=".2917" stop-color="#676767"/><stop offset=".3333" stop-color="#6a6a6a"/><stop offset=".375" stop-color="#6d6d6d"/><stop offset=".4167" stop-color="#727272"/><stop offset=".4583" stop-color="#777777"/><stop offset=".5" stop-color="#797979"/><stop offset=".5417" stop-color="#7e7e7e"/><stop offset=".5833" stop-color="#838383"/><stop offset=".625" stop-color="#858585"/><stop offset=".6667" stop-color="#868686"/><stop offset=".7083" stop-color="#888888"/><stop offset=".75" stop-color="#8c8c8c"/><stop offset=".7917" stop-color="#8e8e8e"/><stop offset=".8333" stop-color="#8f8f8f"/><stop offset=".875" stop-color="#8e8e8e"/><stop offset=".9167" stop-color="#8c8c8c"/><stop offset=".9583" stop-color="#8b8b8b"/><stop offset="1" stop-color="#8b8b8b"/></linearGradient>
<linearGradient id="gC57"><stop offset="0" stop-color="#616161"/><stop offset=".0417" stop-color="#616161"/><stop offset=".0833" stop-color="#606060"/><stop offset=".125" stop-color="#606060"/><stop offset=".1667" stop-color="#606060"/><stop offset=".2083" stop-color="#616161"/><stop offset=".25" stop-color="#646464"/><stop offset=".2917" stop-color="#686868"/><stop offset=".3333" stop-color="#6c6c6c"/><stop offset=".375" stop-color="#6f6f6f"/><stop offset=".4167" stop-color="#747474"/><stop offset=".4583" stop-color="#797979"/><stop offset=".5" stop-color="#7c7c7c"/><stop offset=".5417" stop-color="#818181"/><stop offset=".5833" stop-color="#858585"/><stop offset=".625" stop-color="#868686"/><stop offset=".6667" stop-color="#878787"/><stop offset=".7083" stop-color="#898989"/><stop offset=".75" stop-color="#8b8b8b"/><stop offset=".7917" stop-color="#8e8e8e"/><stop offset=".8333" stop-color="#8e8e8e"/><stop offset=".875" stop-color="#8d8d8d"/><stop offset=".9167" stop-color="#8c8c8c"/><stop offset=".9583" stop-color="#8b8b8b"/><stop offset="1" stop-color="#8b8b8b"/></linearGradient>
<linearGradient id="gC58"><stop offset="0" stop-color="#616161"/><stop offset=".0417" stop-color="#616161"/><stop offset=".0833" stop-color="#616161"/><stop offset=".125" stop-color="#606060"/><stop offset=".1667" stop-color="#606060"/><stop offset=".2083" stop-color="#626262"/><stop offset=".25" stop-color="#656565"/><stop offset=".2917" stop-color="#696969"/><stop offset=".3333" stop-color="#6d6d6d"/><stop offset=".375" stop-color="#717171"/><stop offset=".4167" stop-color="#767676"/><stop offset=".4583" stop-color="#7b7b7b"/><stop offset=".5" stop-color="#7e7e7e"/><stop offset=".5417" stop-color="#828282"/><stop offset=".5833" stop-color="#868686"/><stop offset=".625" stop-color="#888888"/><stop offset=".6667" stop-color="#888888"/><stop offset=".7083" stop-color="#898989"/><stop offset=".75" stop-color="#8b8b8b"/><stop offset=".7917" stop-color="#8d8d8d"/><stop offset=".8333" stop-color="#8d8d8d"/><stop offset=".875" stop-color="#8c8c8c"/><stop offset=".9167" stop-color="#8b8b8b"/><stop offset=".9583" stop-color="#8a8a8a"/><stop offset="1" stop-color="#8a8a8a"/></linearGradient>
<linearGradient id="gC59"><stop offset="0" stop-color="#616161"/><stop offset=".0417" stop-color="#626262"/><stop offset=".0833" stop-color="#616161"/><stop offset=".125" stop-color="#616161"/><stop offset=".1667" stop-color="#616161"/><stop offset=".2083" stop-color="#626262"/><stop offset=".25" stop-color="#666666"/><stop offset=".2917" stop-color="#6a6a6a"/><stop offset=".3333" stop-color="#6f6f6f"/><stop offset=".375" stop-color="#737373"/><stop offset=".4167" stop-color="#787878"/><stop offset=".4583" stop-color="#7c7c7c"/><stop offset=".5" stop-color="#808080"/><stop offset=".5417" stop-color="#838383"/><stop offset=".5833" stop-color="#878787"/><stop offset=".625" stop-color="#888888"/><stop offset=".6667" stop-color="#898989"/><stop offset=".7083" stop-color="#8a8a8a"/><stop offset=".75" stop-color="#8b8b8b"/><stop offset=".7917" stop-color="#8d8d8d"/><stop offset=".8333" stop-color="#8d8d8d"/><stop offset=".875" stop-color="#8c8c8c"/><stop offset=".9167" stop-color="#8b8b8b"/><stop offset=".9583" stop-color="#8a8a8a"/><stop offset="1" stop-color="#8a8a8a"/></linearGradient>
<linearGradient id="gC60"><stop offset="0" stop-color="#626262"/><stop offset=".0417" stop-color="#626262"/><stop offset=".0833" stop-color="#626262"/><stop offset=".125" stop-color="#616161"/><stop offset=".1667" stop-color="#616161"/><stop offset=".2083" stop-color="#636363"/><stop offset=".25" stop-color="#676767"/><stop offset=".2917" stop-color="#6b6b6b"/><stop offset=".3333" stop-color="#707070"/><stop offset=".375" stop-color="#747474"/><stop offset=".4167" stop-color="#797979"/><stop offset=".4583" stop-color="#7d7d7d"/><stop offset=".5" stop-color="#808080"/><stop offset=".5417" stop-color="#848484"/><stop offset=".5833" stop-color="#878787"/><stop offset=".625" stop-color="#898989"/><stop offset=".6667" stop-color="#8a8a8a"/><stop offset=".7083" stop-color="#8a8a8a"/><stop offset=".75" stop-color="#8c8c8c"/><stop offset=".7917" stop-color="#8c8c8c"/><stop offset=".8333" stop-color="#8c8c8c"/><stop offset=".875" stop-color="#8c8c8c"/><stop offset=".9167" stop-color="#8b8b8b"/><stop offset=".9583" stop-color="#8a8a8a"/><stop offset="1" stop-color="#8a8a8a"/></linearGradient>
<linearGradient id="gC61"><stop offset="0" stop-color="#626262"/><stop offset=".0417" stop-color="#626262"/><stop offset=".0833" stop-color="#626262"/><stop offset=".125" stop-color="#626262"/><stop offset=".1667" stop-color="#626262"/><stop offset=".2083" stop-color="#646464"/><stop offset=".25" stop-color="#676767"/><stop offset=".2917" stop-color="#6c6c6c"/><stop offset=".3333" stop-color="#717171"/><stop offset=".375" stop-color="#757575"/><stop offset=".4167" stop-color="#797979"/><stop offset=".4583" stop-color="#7d7d7d"/><stop offset=".5" stop-color="#818181"/><stop offset=".5417" stop-color="#848484"/><stop offset=".5833" stop-color="#878787"/><stop offset=".625" stop-color="#898989"/><stop offset=".6667" stop-color="#8a8a8a"/><stop offset=".7083" stop-color="#8b8b8b"/><stop offset=".75" stop-color="#8c8c8c"/><stop offset=".7917" stop-color="#8c8c8c"/><stop offset=".8333" stop-color="#8c8c8c"/><stop offset=".875" stop-color="#8b8b8b"/><stop offset=".9167" stop-color="#8a8a8a"/><stop offset=".9583" stop-color="#8a8a8a"/><stop offset="1" stop-color="#8a8a8a"/></linearGradient>
<linearGradient id="gC62"><stop offset="0" stop-color="#626262"/><stop offset=".0417" stop-color="#626262"/><stop offset=".0833" stop-color="#626262"/><stop offset=".125" stop-color="#626262"/><stop offset=".1667" stop-color="#636363"/><stop offset=".2083" stop-color="#656565"/><stop offset=".25" stop-color="#686868"/><stop offset=".2917" stop-color="#6d6d6d"/><stop offset=".3333" stop-color="#717171"/><stop offset=".375" stop-color="#767676"/><stop offset=".4167" stop-color="#7a7a7a"/><stop offset=".4583" stop-color="#7d7d7d"/><stop offset=".5" stop-color="#818181"/><stop offset=".5417" stop-color="#848484"/><stop offset=".5833" stop-color="#878787"/><stop offset=".625" stop-color="#898989"/><stop offset=".6667" stop-color="#8a8a8a"/><stop offset=".7083" stop-color="#8b8b8b"/><stop offset=".75" stop-color="#8c8c8c"/><stop offset=".7917" stop-color="#8c8c8c"/><stop offset=".8333" stop-color="#8c8c8c"/><stop offset=".875" stop-color="#8b8b8b"/><stop offset=".9167" stop-color="#8a8a8a"/><stop offset=".9583" stop-color="#8a8a8a"/><stop offset="1" stop-color="#8a8a8a"/></linearGradient>
<linearGradient id="gC63"><stop offset="0" stop-color="#626262"/><stop offset=".0417" stop-color="#636363"/><stop offset=".0833" stop-color="#636363"/><stop offset=".125" stop-color="#636363"/><stop offset=".1667" stop-color="#646464"/><stop offset=".2083" stop-color="#656565"/><stop offset=".25" stop-color="#696969"/><stop offset=".2917" stop-color="#6d6d6d"/><stop offset=".3333" stop-color="#727272"/><stop offset=".375" stop-color="#767676"/><stop offset=".4167" stop-color="#7a7a7a"/><stop offset=".4583" stop-color="#7d7d7d"/><stop offset=".5" stop-color="#818181"/><stop offset=".5417" stop-color="#848484"/><stop offset=".5833" stop-color="#878787"/><stop offset=".625" stop-color="#898989"/><stop offset=".6667" stop-color="#8a8a8a"/><stop offset=".7083" stop-color="#8b8b8b"/><stop offset=".75" stop-color="#8c8c8c"/><stop offset=".7917" stop-color="#8c8c8c"/><stop offset=".8333" stop-color="#8c8c8c"/><stop offset=".875" stop-color="#8b8b8b"/><stop offset=".9167" stop-color="#8a8a8a"/><stop offset=".9583" stop-color="#8a8a8a"/><stop offset="1" stop-color="#8a8a8a"/></linearGradient>
<clipPath id="clipB"><rect x="54.7" y="484.7" width="221.9" height="228.7"/></clipPath>
<linearGradient id="gB0"><stop offset="0" stop-color="#fefefe"/><stop offset=".0417" stop-color="#fefefe"/><stop offset=".0833" stop-color="#fdfdfd"/><stop offset=".125" stop-color="#fcfcfc"/><stop offset=".1667" stop-color="#fafafa"/><stop offset=".2083" stop-color="#f9f9f9"/><stop offset=".25" stop-color="#f8f8f8"/><stop offset=".2917" stop-color="#f7f7f7"/><stop offset=".3333" stop-color="#f5f5f5"/><stop offset=".375" stop-color="#f4f4f4"/><stop offset=".4167" stop-color="#f2f2f2"/><stop offset=".4583" stop-color="#f1f1f1"/><stop offset=".5" stop-color="#f0f0f0"/><stop offset=".5417" stop-color="#f0f0f0"/><stop offset=".5833" stop-color="#f0f0f0"/><stop offset=".625" stop-color="#f1f1f1"/><stop offset=".6667" stop-color="#f2f2f2"/><stop offset=".7083" stop-color="#f4f4f4"/><stop offset=".75" stop-color="#f5f5f5"/><stop offset=".7917" stop-color="#f7f7f7"/><stop offset=".8333" stop-color="#f8f8f8"/><stop offset=".875" stop-color="#f9f9f9"/><stop offset=".9167" stop-color="#fafafa"/><stop offset=".9583" stop-color="#fafafa"/><stop offset="1" stop-color="#fbfbfb"/></linearGradient>
<linearGradient id="gB1"><stop offset="0" stop-color="#fefefe"/><stop offset=".0417" stop-color="#fdfdfd"/><stop offset=".0833" stop-color="#fcfcfc"/><stop offset=".125" stop-color="#fbfbfb"/><stop offset=".1667" stop-color="#fafafa"/><stop offset=".2083" stop-color="#f9f9f9"/><stop offset=".25" stop-color="#f8f8f8"/><stop offset=".2917" stop-color="#f6f6f6"/><stop offset=".3333" stop-color="#f4f4f4"/><stop offset=".375" stop-color="#f3f3f3"/><stop offset=".4167" stop-color="#f1f1f1"/><stop offset=".4583" stop-color="#f0f0f0"/><stop offset=".5" stop-color="#efefef"/><stop offset=".5417" stop-color="#eeeeee"/><stop offset=".5833" stop-color="#eeeeee"/><stop offset=".625" stop-color="#efefef"/><stop offset=".6667" stop-color="#f0f0f0"/><stop offset=".7083" stop-color="#f2f2f2"/><stop offset=".75" stop-color="#f4f4f4"/><stop offset=".7917" stop-color="#f6f6f6"/><stop offset=".8333" stop-color="#f7f7f7"/><stop offset=".875" stop-color="#f8f8f8"/><stop offset=".9167" stop-color="#f9f9f9"/><stop offset=".9583" stop-color="#fafafa"/><stop offset="1" stop-color="#fbfbfb"/></linearGradient>
<linearGradient id="gB2"><stop offset="0" stop-color="#fefefe"/><stop offset=".0417" stop-color="#fdfdfd"/><stop offset=".0833" stop-color="#fcfcfc"/><stop offset=".125" stop-color="#fbfbfb"/><stop offset=".1667" stop-color="#fafafa"/><stop offset=".2083" stop-color="#f8f8f8"/><stop offset=".25" stop-color="#f7f7f7"/><stop offset=".2917" stop-color="#f5f5f5"/><stop offset=".3333" stop-color="#f3f3f3"/><stop offset=".375" stop-color="#f1f1f1"/><stop offset=".4167" stop-color="#efefef"/><stop offset=".4583" stop-color="#eeeeee"/><stop offset=".5" stop-color="#ededed"/><stop offset=".5417" stop-color="#ececec"/><stop offset=".5833" stop-color="#ececec"/><stop offset=".625" stop-color="#ededed"/><stop offset=".6667" stop-color="#eeeeee"/><stop offset=".7083" stop-color="#f0f0f0"/><stop offset=".75" stop-color="#f2f2f2"/><stop offset=".7917" stop-color="#f5f5f5"/><stop offset=".8333" stop-color="#f6f6f6"/><stop offset=".875" stop-color="#f8f8f8"/><stop offset=".9167" stop-color="#f9f9f9"/><stop offset=".9583" stop-color="#f9f9f9"/><stop offset="1" stop-color="#fafafa"/></linearGradient>
<linearGradient id="gB3"><stop offset="0" stop-color="#fefefe"/><stop offset=".0417" stop-color="#fdfdfd"/><stop offset=".0833" stop-color="#fcfcfc"/><stop offset=".125" stop-color="#fbfbfb"/><stop offset=".1667" stop-color="#f9f9f9"/><stop offset=".2083" stop-color="#f8f8f8"/><stop offset=".25" stop-color="#f6f6f6"/><stop offset=".2917" stop-color="#f4f4f4"/><stop offset=".3333" stop-color="#f2f2f2"/><stop offset=".375" stop-color="#f0f0f0"/><stop offset=".4167" stop-color="#eeeeee"/><stop offset=".4583" stop-color="#ececec"/><stop offset=".5" stop-color="#ebebeb"/><stop offset=".5417" stop-color="#eaeaea"/><stop offset=".5833" stop-color="#eaeaea"/><stop offset=".625" stop-color="#ebebeb"/><stop offset=".6667" stop-color="#ececec"/><stop offset=".7083" stop-color="#eeeeee"/><stop offset=".75" stop-color="#f0f0f0"/><stop offset=".7917" stop-color="#f3f3f3"/><stop offset=".8333" stop-color="#f5f5f5"/><stop offset=".875" stop-color="#f7f7f7"/><stop offset=".9167" stop-color="#f8f8f8"/><stop offset=".9583" stop-color="#f9f9f9"/><stop offset="1" stop-color="#fafafa"/></linearGradient>
<linearGradient id="gB4"><stop offset="0" stop-color="#fefefe"/><stop offset=".0417" stop-color="#fdfdfd"/><stop offset=".0833" stop-color="#fcfcfc"/><stop offset=".125" stop-color="#fafafa"/><stop offset=".1667" stop-color="#f9f9f9"/><stop offset=".2083" stop-color="#f8f8f8"/><stop offset=".25" stop-color="#f6f6f6"/><stop offset=".2917" stop-color="#f3f3f3"/><stop offset=".3333" stop-color="#f1f1f1"/><stop offset=".375" stop-color="#eeeeee"/><stop offset=".4167" stop-color="#ececec"/><stop offset=".4583" stop-color="#eaeaea"/><stop offset=".5" stop-color="#e8e8e8"/><stop offset=".5417" stop-color="#e7e7e7"/><stop offset=".5833" stop-color="#e7e7e7"/><stop offset=".625" stop-color="#e8e8e8"/><stop offset=".6667" stop-color="#eaeaea"/><stop offset=".7083" stop-color="#ececec"/><stop offset=".75" stop-color="#eeeeee"/><stop offset=".7917" stop-color="#f1f1f1"/><stop offset=".8333" stop-color="#f4f4f4"/><stop offset=".875" stop-color="#f6f6f6"/><stop offset=".9167" stop-color="#f7f7f7"/><stop offset=".9583" stop-color="#f8f8f8"/><stop offset="1" stop-color="#f9f9f9"/></linearGradient>
<linearGradient id="gB5"><stop offset="0" stop-color="#fefefe"/><stop offset=".0417" stop-color="#fdfdfd"/><stop offset=".0833" stop-color="#fcfcfc"/><stop offset=".125" stop-color="#fafafa"/><stop offset=".1667" stop-color="#f9f9f9"/><stop offset=".2083" stop-color="#f7f7f7"/><stop offset=".25" stop-color="#f5f5f5"/><stop offset=".2917" stop-color="#f2f2f2"/><stop offset=".3333" stop-color="#efefef"/><stop offset=".375" stop-color="#ececec"/><stop offset=".4167" stop-color="#eaeaea"/><stop offset=".4583" stop-color="#e7e7e7"/><stop offset=".5" stop-color="#e6e6e6"/><stop offset=".5417" stop-color="#e5e5e5"/><stop offset=".5833" stop-color="#e5e5e5"/><stop offset=".625" stop-color="#e5e5e5"/><stop offset=".6667" stop-color="#e7e7e7"/><stop offset=".7083" stop-color="#e9e9e9"/><stop offset=".75" stop-color="#ececec"/><stop offset=".7917" stop-color="#efefef"/><stop offset=".8333" stop-color="#f2f2f2"/><stop offset=".875" stop-color="#f5f5f5"/><stop offset=".9167" stop-color="#f7f7f7"/><stop offset=".9583" stop-color="#f8f8f8"/><stop offset="1" stop-color="#f9f9f9"/></linearGradient>
<linearGradient id="gB6"><stop offset="0" stop-color="#fefefe"/><stop offset=".0417" stop-color="#fdfdfd"/><stop offset=".0833" stop-color="#fbfbfb"/><stop offset=".125" stop-color="#fafafa"/><stop offset=".1667" stop-color="#f8f8f8"/><stop offset=".2083" stop-color="#f7f7f7"/><stop offset=".25" stop-color="#f4f4f4"/><stop offset=".2917" stop-color="#f1f1f1"/><stop offset=".3333" stop-color="#eeeeee"/><stop offset=".375" stop-color="#ebebeb"/><stop offset=".4167" stop-color="#e8e8e8"/><stop offset=".4583" stop-color="#e5e5e5"/><stop offset=".5" stop-color="#e3e3e3"/><stop offset=".5417" stop-color="#e2e2e2"/><stop offset=".5833" stop-color="#e2e2e2"/><stop offset=".625" stop-color="#e2e2e2"/><stop offset=".6667" stop-color="#e4e4e4"/><stop offset=".7083" stop-color="#e6e6e6"/><stop offset=".75" stop-color="#e9e9e9"/><stop offset=".7917" stop-color="#ececec"/><stop offset=".8333" stop-color="#f0f0f0"/><stop offset=".875" stop-color="#f3f3f3"/><stop offset=".9167" stop-color="#f5f5f5"/><stop offset=".9583" stop-color="#f7f7f7"/><stop offset="1" stop-color="#f8f8f8"/></linearGradient>
<linearGradient id="gB7"><stop offset="0" stop-color="#fefefe"/><stop offset=".0417" stop-color="#fcfcfc"/><stop offset=".0833" stop-color="#fbfbfb"/><stop offset=".125" stop-color="#fafafa"/><stop offset=".1667" stop-color="#f8f8f8"/><stop offset=".2083" stop-color="#f6f6f6"/><stop offset=".25" stop-color="#f3f3f3"/><stop offset=".2917" stop-color="#f0f0f0"/><stop offset=".3333" stop-color="#ececec"/><stop offset=".375" stop-color="#e9e9e9"/><stop offset=".4167" stop-color="#e5e5e5"/><stop offset=".4583" stop-color="#e2e2e2"/><stop offset=".5" stop-color="#e0e0e0"/><stop offset=".5417" stop-color="#dfdfdf"/><stop offset=".5833" stop-color="#dfdfdf"/><stop offset=".625" stop-color="#dfdfdf"/><stop offset=".6667" stop-color="#e1e1e1"/><stop offset=".7083" stop-color="#e3e3e3"/><stop offset=".75" stop-color="#e6e6e6"/><stop offset=".7917" stop-color="#e9e9e9"/><stop offset=".8333" stop-color="#ededed"/><stop offset=".875" stop-color="#f1f1f1"/><stop offset=".9167" stop-color="#f4f4f4"/><stop offset=".9583" stop-color="#f6f6f6"/><stop offset="1" stop-color="#f7f7f7"/></linearGradient>
<linearGradient id="gB8"><stop offset="0" stop-color="#fdfdfd"/><stop offset=".0417" stop-color="#fcfcfc"/><stop offset=".0833" stop-color="#fbfbfb"/><stop offset=".125" stop-color="#f9f9f9"/><stop offset=".1667" stop-color="#f8f8f8"/><stop offset=".2083" stop-color="#f5f5f5"/><stop offset=".25" stop-color="#f2f2f2"/><stop offset=".2917" stop-color="#eeeeee"/><stop offset=".3333" stop-color="#eaeaea"/><stop offset=".375" stop-color="#e6e6e6"/><stop offset=".4167" stop-color="#e3e3e3"/><stop offset=".4583" stop-color="#e0e0e0"/><stop offset=".5" stop-color="#dddddd"/><stop offset=".5417" stop-color="#dbdbdb"/><stop offset=".5833" stop-color="#dbdbdb"/><stop offset=".625" stop-color="#dbdbdb"/><stop offset=".6667" stop-color="#dddddd"/><stop offset=".7083" stop-color="#dfdfdf"/><stop offset=".75" stop-color="#e2e2e2"/><stop offset=".7917" stop-color="#e6e6e6"/><stop offset=".8333" stop-color="#eaeaea"/><stop offset=".875" stop-color="#eeeeee"/><stop offset=".9167" stop-color="#f2f2f2"/><stop offset=".9583" stop-color="#f5f5f5"/><stop offset="1" stop-color="#f7f7f7"/></linearGradient>
<linearGradient id="gB9"><stop offset="0" stop-color="#fdfdfd"/><stop offset=".0417" stop-color="#fcfcfc"/><stop offset=".0833" stop-color="#fbfbfb"/><stop offset=".125" stop-color="#f9f9f9"/><stop offset=".1667" stop-color="#f7f7f7"/><stop offset=".2083" stop-color="#f5f5f5"/><stop offset=".25" stop-color="#f1f1f1"/><stop offset=".2917" stop-color="#ededed"/><stop offset=".3333" stop-color="#e8e8e8"/><stop offset=".375" stop-color="#e4e4e4"/><stop offset=".4167" stop-color="#e0e0e0"/><stop offset=".4583" stop-color="#dcdcdc"/><stop offset=".5" stop-color="#d9d9d9"/><stop offset=".5417" stop-color="#d6d6d6"/><stop offset=".5833" stop-color="#d5d5d5"/><stop offset=".625" stop-color="#d6d6d6"/><stop offset=".6667" stop-color="#d8d8d8"/><stop offset=".7083" stop-color="#dbdbdb"/><stop offset=".75" stop-color="#dfdfdf"/><stop offset=".7917" stop-color="#e3e3e3"/><stop offset=".8333" stop-color="#e7e7e7"/><stop offset=".875" stop-color="#ebebeb"/><stop offset=".9167" stop-color="#efefef"/><stop offset=".9583" stop-color="#f3f3f3"/><stop offset="1" stop-color="#f5f5f5"/></linearGradient>
<linearGradient id="gB10"><stop offset="0" stop-color="#fdfdfd"/><stop offset=".0417" stop-color="#fcfcfc"/><stop offset=".0833" stop-color="#fafafa"/><stop offset=".125" stop-color="#f9f9f9"/><stop offset=".1667" stop-color="#f7f7f7"/><stop offset=".2083" stop-color="#f4f4f4"/><stop offset=".25" stop-color="#f0f0f0"/><stop offset=".2917" stop-color="#ebebeb"/><stop offset=".3333" stop-color="#e6e6e6"/><stop offset=".375" stop-color="#e2e2e2"/><stop offset=".4167" stop-color="#dddddd"/><stop offset=".4583" stop-color="#d8d8d8"/><stop offset=".5" stop-color="#d3d3d3"/><stop offset=".5417" stop-color="#d0d0d0"/><stop offset=".5833" stop-color="#cfcfcf"/><stop offset=".625" stop-color="#d0d0d0"/><stop offset=".6667" stop-color="#d3d3d3"/><stop offset=".7083" stop-color="#d7d7d7"/><stop offset=".75" stop-color="#dbdbdb"/><stop offset=".7917" stop-color="#e0e0e0"/><stop offset=".8333" stop-color="#e4e4e4"/><stop offset=".875" stop-color="#e9e9e9"/><stop offset=".9167" stop-color="#ededed"/><stop offset=".9583" stop-color="#f1f1f1"/><stop offset="1" stop-color="#f4f4f4"/></linearGradient>
<linearGradient id="gB11"><stop offset="0" stop-color="#fdfdfd"/><stop offset=".0417" stop-color="#fcfcfc"/><stop offset=".0833" stop-color="#fafafa"/><stop offset=".125" stop-color="#f8f8f8"/><stop offset=".1667" stop-color="#f6f6f6"/><stop offset=".2083" stop-color="#f3f3f3"/><stop offset=".25" stop-color="#efefef"/><stop offset=".2917" stop-color="#eaeaea"/><stop offset=".3333" stop-color="#e4e4e4"/><stop offset=".375" stop-color="#dfdfdf"/><stop offset=".4167" stop-color="#d9d9d9"/><stop offset=".4583" stop-color="#d2d2d2"/><stop offset=".5" stop-color="#cdcdcd"/><stop offset=".5417" stop-color="#c9c9c9"/><stop offset=".5833" stop-color="#c8c8c8"/><stop offset=".625" stop-color="#c9c9c9"/><stop offset=".6667" stop-color="#cccccc"/><stop offset=".7083" stop-color="#d1d1d1"/><stop offset=".75" stop-color="#d6d6d6"/><stop offset=".7917" stop-color="#dcdcdc"/><stop offset=".8333" stop-color="#e1e1e1"/><stop offset=".875" stop-color="#e6e6e6"/><stop offset=".9167" stop-color="#eaeaea"/><stop offset=".9583" stop-color="#eeeeee"/><stop offset="1" stop-color="#f2f2f2"/></linearGradient>
<linearGradient id="gB12"><stop offset="0" stop-color="#fdfdfd"/><stop offset=".0417" stop-color="#fcfcfc"/><stop offset=".0833" stop-color="#fafafa"/><stop offset=".125" stop-color="#f8f8f8"/><stop offset=".1667" stop-color="#f6f6f6"/><stop offset=".2083" stop-color="#f2f2f2"/><stop offset=".25" stop-color="#ededed"/><stop offset=".2917" stop-color="#e8e8e8"/><stop offset=".3333" stop-color="#e2e2e2"/><stop offset=".375" stop-color="#dcdcdc"/><stop offset=".4167" stop-color="#d3d3d3"/><stop offset=".4583" stop-color="#cbcbcb"/><stop offset=".5" stop-color="#c5c5c5"/><stop offset=".5417" stop-color="#c1c1c1"/><stop offset=".5833" stop-color="#c0c0c0"/><stop offset=".625" stop-color="#c2c2c2"/><stop offset=".6667" stop-color="#c5c5c5"/><stop offset=".7083" stop-color="#cbcbcb"/><stop offset=".75" stop-color="#d1d1d1"/><stop offset=".7917" stop-color="#d8d8d8"/><stop offset=".8333" stop-color="#dddddd"/><stop offset=".875" stop-color="#e2e2e2"/><stop offset=".9167" stop-color="#e7e7e7"/><stop offset=".9583" stop-color="#ececec"/><stop offset="1" stop-color="#f0f0f0"/></linearGradient>
<linearGradient id="gB13"><stop offset="0" stop-color="#fdfdfd"/><stop offset=".0417" stop-color="#fbfbfb"/><stop offset=".0833" stop-color="#fafafa"/><stop offset=".125" stop-color="#f8f8f8"/><stop offset=".1667" stop-color="#f6f6f6"/><stop offset=".2083" stop-color="#f1f1f1"/><stop offset=".25" stop-color="#ececec"/><stop offset=".2917" stop-color="#e6e6e6"/><stop offset=".3333" stop-color="#e0e0e0"/><stop offset=".375" stop-color="#d7d7d7"/><stop offset=".4167" stop-color="#cdcdcd"/><stop offset=".4583" stop-color="#c4c4c4"/><stop offset=".5" stop-color="#bdbdbd"/><stop offset=".5417" stop-color="#b9b9b9"/><stop offset=".5833" stop-color="#b8b8b8"/><stop offset=".625" stop-color="#bababa"/><stop offset=".6667" stop-color="#bebebe"/><stop offset=".7083" stop-color="#c4c4c4"/><stop offset=".75" stop-color="#cccccc"/><stop offset=".7917" stop-color="#d3d3d3"/><stop offset=".8333" stop-color="#dadada"/><stop offset=".875" stop-color="#dfdfdf"/><stop offset=".9167" stop-color="#e5e5e5"/><stop offset=".9583" stop-color="#eaeaea"/><stop offset="1" stop-color="#eeeeee"/></linearGradient>
<linearGradient id="gB14"><stop offset="0" stop-color="#fdfdfd"/><stop offset=".0417" stop-color="#fbfbfb"/><stop offset=".0833" stop-color="#fafafa"/><stop offset=".125" stop-color="#f8f8f8"/><stop offset=".1667" stop-color="#f5f5f5"/><stop offset=".2083" stop-color="#f1f1f1"/><stop offset=".25" stop-color="#ebebeb"/><stop offset=".2917" stop-color="#e4e4e4"/><stop offset=".3333" stop-color="#dddddd"/><stop offset=".375" stop-color="#d2d2d2"/><stop offset=".4167" stop-color="#c6c6c6"/><stop offset=".4583" stop-color="#bcbcbc"/><stop offset=".5" stop-color="#b5b5b5"/><stop offset=".5417" stop-color="#b1b1b1"/><stop offset=".5833" stop-color="#afafaf"/><stop offset=".625" stop-color="#b1b1b1"/><stop offset=".6667" stop-color="#b6b6b6"/><stop offset=".7083" stop-color="#bebebe"/><stop offset=".75" stop-color="#c6c6c6"/><stop offset=".7917" stop-color="#cecece"/><stop offset=".8333" stop-color="#d6d6d6"/><stop offset=".875" stop-color="#dcdcdc"/><stop offset=".9167" stop-color="#e2e2e2"/><stop offset=".9583" stop-color="#e7e7e7"/><stop offset="1" stop-color="#ececec"/></linearGradient>
<linearGradient id="gB15"><stop offset="0" stop-color="#fdfdfd"/><stop offset=".0417" stop-color="#fbfbfb"/><stop offset=".0833" stop-color="#f9f9f9"/><stop offset=".125" stop-color="#f8f8f8"/><stop offset=".1667" stop-color="#f5f5f5"/><stop offset=".2083" stop-color="#f0f0f0"/><stop offset=".25" stop-color="#e9e9e9"/><stop offset=".2917" stop-color="#e2e2e2"/><stop offset=".3333" stop-color="#d9d9d9"/><stop offset=".375" stop-color="#cccccc"/><stop offset=".4167" stop-color="#bebebe"/><stop offset=".4583" stop-color="#b3b3b3"/><stop offset=".5" stop-color="#acacac"/><stop offset=".5417" stop-color="#a8a8a8"/><stop offset=".5833" stop-color="#a7a7a7"/><stop offset=".625" stop-color="#a9a9a9"/><stop offset=".6667" stop-color="#afafaf"/><stop offset=".7083" stop-color="#b7b7b7"/><stop offset=".75" stop-color="#c0c0c0"/><stop offset=".7917" stop-color="#c9c9c9"/><stop offset=".8333" stop-color="#d2d2d2"/><stop offset=".875" stop-color="#d9d9d9"/><stop offset=".9167" stop-color="#dfdfdf"/><stop offset=".9583" stop-color="#e5e5e5"/><stop offset="1" stop-color="#eaeaea"/></linearGradient>
<linearGradient id="gB16"><stop offset="0" stop-color="#fdfdfd"/><stop offset=".0417" stop-color="#fbfbfb"/><stop offset=".0833" stop-color="#f9f9f9"/><stop offset=".125" stop-color="#f7f7f7"/><stop offset=".1667" stop-color="#f4f4f4"/><stop offset=".2083" stop-color="#efefef"/><stop offset=".25" stop-color="#e8e8e8"/><stop offset=".2917" stop-color="#e0e0e0"/><stop offset=".3333" stop-color="#d5d5d5"/><stop offset=".375" stop-color="#c5c5c5"/><stop offset=".4167" stop-color="#b6b6b6"/><stop offset=".4583" stop-color="#ababab"/><stop offset=".5" stop-color="#a3a3a3"/><stop offset=".5417" stop-color="#9f9f9f"/><stop offset=".5833" stop-color="#9e9e9e"/><stop offset=".625" stop-color="#a1a1a1"/><stop offset=".6667" stop-color="#a7a7a7"/><stop offset=".7083" stop-color="#b0b0b0"/><stop offset=".75" stop-color="#bababa"/><stop offset=".7917" stop-color="#c5c5c5"/><stop offset=".8333" stop-color="#cecece"/><stop offset=".875" stop-color="#d6d6d6"/><stop offset=".9167" stop-color="#dddddd"/><stop offset=".9583" stop-color="#e3e3e3"/><stop offset="1" stop-color="#e8e8e8"/></linearGradient>
<linearGradient id="gB17"><stop offset="0" stop-color="#fdfdfd"/><stop offset=".0417" stop-color="#fbfbfb"/><stop offset=".0833" stop-color="#f9f9f9"/><stop offset=".125" stop-color="#f7f7f7"/><stop offset=".1667" stop-color="#f3f3f3"/><stop offset=".2083" stop-color="#eeeeee"/><stop offset=".25" stop-color="#e6e6e6"/><stop offset=".2917" stop-color="#dedede"/><stop offset=".3333" stop-color="#cfcfcf"/><stop offset=".375" stop-color="#bdbdbd"/><stop offset=".4167" stop-color="#aeaeae"/><stop offset=".4583" stop-color="#a2a2a2"/><stop offset=".5" stop-color="#9b9b9b"/><stop offset=".5417" stop-color="#969696"/><stop offset=".5833" stop-color="#959595"/><stop offset=".625" stop-color="#989898"/><stop offset=".6667" stop-color="#9f9f9f"/><stop offset=".7083" stop-color="#a9a9a9"/><stop offset=".75" stop-color="#b4b4b4"/><stop offset=".7917" stop-color="#c0c0c0"/><stop offset=".8333" stop-color="#cacaca"/><stop offset=".875" stop-color="#d3d3d3"/><stop offset=".9167" stop-color="#dadada"/><stop offset=".9583" stop-color="#e0e0e0"/><stop offset="1" stop-color="#e6e6e6"/></linearGradient>
<linearGradient id="gB18"><stop offset="0" stop-color="#fdfdfd"/><stop offset=".0417" stop-color="#fbfbfb"/><stop offset=".0833" stop-color="#f9f9f9"/><stop offset=".125" stop-color="#f7f7f7"/><stop offset=".1667" stop-color="#f3f3f3"/><stop offset=".2083" stop-color="#ededed"/><stop offset=".25" stop-color="#e5e5e5"/><stop offset=".2917" stop-color="#dbdbdb"/><stop offset=".3333" stop-color="#c9c9c9"/><stop offset=".375" stop-color="#b6b6b6"/><stop offset=".4167" stop-color="#a5a5a5"/><stop offset=".4583" stop-color="#999999"/><stop offset=".5" stop-color="#919191"/><stop offset=".5417" stop-color="#8c8c8c"/><stop offset=".5833" stop-color="#8b8b8b"/><stop offset=".625" stop-color="#8f8f8f"/><stop offset=".6667" stop-color="#979797"/><stop offset=".7083" stop-color="#a3a3a3"/><stop offset=".75" stop-color="#afafaf"/><stop offset=".7917" stop-color="#bbbbbb"/><stop offset=".8333" stop-color="#c6c6c6"/><stop offset=".875" stop-color="#d0d0d0"/><stop offset=".9167" stop-color="#d8d8d8"/><stop offset=".9583" stop-color="#dfdfdf"/><stop offset="1" stop-color="#e4e4e4"/></linearGradient>
<linearGradient id="gB19"><stop offset="0" stop-color="#fdfdfd"/><stop offset=".0417" stop-color="#fbfbfb"/><stop offset=".0833" stop-color="#f9f9f9"/><stop offset=".125" stop-color="#f7f7f7"/><stop offset=".1667" stop-color="#f3f3f3"/><stop offset=".2083" stop-color="#ececec"/><stop offset=".25" stop-color="#e4e4e4"/><stop offset=".2917" stop-color="#d8d8d8"/><stop offset=".3333" stop-color="#c3c3c3"/><stop offset=".375" stop-color="#aeaeae"/><stop offset=".4167" stop-color="#9d9d9d"/><stop offset=".4583" stop-color="#909090"/><stop offset=".5" stop-color="#868686"/><stop offset=".5417" stop-color="#818181"/><stop offset=".5833" stop-color="#808080"/><stop offset=".625" stop-color="#858585"/><stop offset=".6667" stop-color="#8f8f8f"/><stop offset=".7083" stop-color="#9c9c9c"/><stop offset=".75" stop-color="#aaaaaa"/><stop offset=".7917" stop-color="#b7b7b7"/><stop offset=".8333" stop-color="#c3c3c3"/><stop offset=".875" stop-color="#cdcdcd"/><stop offset=".9167" stop-color="#d6d6d6"/><stop offset=".9583" stop-color="#dddddd"/><stop offset="1" stop-color="#e3e3e3"/></linearGradient>
<linearGradient id="gB20"><stop offset="0" stop-color="#fcfcfc"/><stop offset=".0417" stop-color="#fbfbfb"/><stop offset=".0833" stop-color="#f9f9f9"/><stop offset=".125" stop-color="#f7f7f7"/><stop offset=".1667" stop-color="#f2f2f2"/><stop offset=".2083" stop-color="#ebebeb"/><stop offset=".25" stop-color="#e2e2e2"/><stop offset=".2917" stop-color="#d4d4d4"/><stop offset=".3333" stop-color="#bdbdbd"/><stop offset=".375" stop-color="#a6a6a6"/><stop offset=".4167" stop-color="#949494"/><stop offset=".4583" stop-color="#858585"/><stop offset=".5" stop-color="#7b7b7b"/><stop offset=".5417" stop-color="#767676"/><stop offset=".5833" stop-color="#757575"/><stop offset=".625" stop-color="#7b7b7b"/><stop offset=".6667" stop-color="#878787"/><stop offset=".7083" stop-color="#969696"/><stop offset=".75" stop-color="#a5a5a5"/><stop offset=".7917" stop-color="#b3b3b3"/><stop offset=".8333" stop-color="#c0c0c0"/><stop offset=".875" stop-color="#cacaca"/><stop offset=".9167" stop-color="#d3d3d3"/><stop offset=".9583" stop-color="#dbdbdb"/><stop offset="1" stop-color="#e1e1e1"/></linearGradient>
<linearGradient id="gB21"><stop offset="0" stop-color="#fcfcfc"/><stop offset=".0417" stop-color="#fbfbfb"/><stop offset=".0833" stop-color="#f9f9f9"/><stop offset=".125" stop-color="#f6f6f6"/><stop offset=".1667" stop-color="#f2f2f2"/><stop offset=".2083" stop-color="#eaeaea"/><stop offset=".25" stop-color="#e1e1e1"/><stop offset=".2917" stop-color="#d0d0d0"/><stop offset=".3333" stop-color="#b7b7b7"/><stop offset=".375" stop-color="#9f9f9f"/><stop offset=".4167" stop-color="#8b8b8b"/><stop offset=".4583" stop-color="#7a7a7a"/><stop offset=".5" stop-color="#707070"/><stop offset=".5417" stop-color="#6a6a6a"/><stop offset=".5833" stop-color="#6a6a6a"/><stop offset=".625" stop-color="#717171"/><stop offset=".6667" stop-color="#7e7e7e"/><stop offset=".7083" stop-color="#909090"/><stop offset=".75" stop-color="#a1a1a1"/><stop offset=".7917" stop-color="#b0b0b0"/><stop offset=".8333" stop-color="#bdbdbd"/><stop offset=".875" stop-color="#c8c8c8"/><stop offset=".9167" stop-color="#d1d1d1"/><stop offset=".9583" stop-color="#d9d9d9"/><stop offset="1" stop-color="#e0e0e0"/></linearGradient>
<linearGradient id="gB22"><stop offset="0" stop-color="#fcfcfc"/><stop offset=".0417" stop-color="#fbfbfb"/><stop offset=".0833" stop-color="#f9f9f9"/><stop offset=".125" stop-color="#f6f6f6"/><stop offset=".1667" stop-color="#f1f1f1"/><stop offset=".2083" stop-color="#eaeaea"/><stop offset=".25" stop-color="#e0e0e0"/><stop offset=".2917" stop-color="#cccccc"/><stop offset=".3333" stop-color="#b1b1b1"/><stop offset=".375" stop-color="#989898"/><stop offset=".4167" stop-color="#818181"/><stop offset=".4583" stop-color="#6f6f6f"/><stop offset=".5" stop-color="#646464"/><stop offset=".5417" stop-color="#5e5e5e"/><stop offset=".5833" stop-color="#606060"/><stop offset=".625" stop-color="#686868"/><stop offset=".6667" stop-color="#767676"/><stop offset=".7083" stop-color="#8a8a8a"/><stop offset=".75" stop-color="#9d9d9d"/><stop offset=".7917" stop-color="#adadad"/><stop offset=".8333" stop-color="#bababa"/><stop offset=".875" stop-color="#c6c6c6"/><stop offset=".9167" stop-color="#cfcfcf"/><stop offset=".9583" stop-color="#d8d8d8"/><stop offset="1" stop-color="#dedede"/></linearGradient>
<linearGradient id="gB23"><stop offset="0" stop-color="#fcfcfc"/><stop offset=".0417" stop-color="#fbfbfb"/><stop offset=".0833" stop-color="#f9f9f9"/><stop offset=".125" stop-color="#f6f6f6"/><stop offset=".1667" stop-color="#f1f1f1"/><stop offset=".2083" stop-color="#e9e9e9"/><stop offset=".25" stop-color="#dedede"/><stop offset=".2917" stop-color="#c9c9c9"/><stop offset=".3333" stop-color="#ababab"/><stop offset=".375" stop-color="#909090"/><stop offset=".4167" stop-color="#787878"/><stop offset=".4583" stop-color="#646464"/><stop offset=".5" stop-color="#585858"/><stop offset=".5417" stop-color="#515151"/><stop offset=".5833" stop-color="#545454"/><stop offset=".625" stop-color="#5f5f5f"/><stop offset=".6667" stop-color="#6f6f6f"/><stop offset=".7083" stop-color="#848484"/><stop offset=".75" stop-color="#999999"/><stop offset=".7917" stop-color="#aaaaaa"/><stop offset=".8333" stop-color="#b8b8b8"/><stop offset=".875" stop-color="#c4c4c4"/><stop offset=".9167" stop-color="#cecece"/><stop offset=".9583" stop-color="#d6d6d6"/><stop offset="1" stop-color="#dddddd"/></linearGradient>
<linearGradient id="gB24"><stop offset="0" stop-color="#fcfcfc"/><stop offset=".0417" stop-color="#fbfbfb"/><stop offset=".0833" stop-color="#f9f9f9"/><stop offset=".125" stop-color="#f6f6f6"/><stop offset=".1667" stop-color="#f1f1f1"/><stop offset=".2083" stop-color="#e8e8e8"/><stop offset=".25" stop-color="#dddddd"/><stop offset=".2917" stop-color="#c5c5c5"/><stop offset=".3333" stop-color="#a6a6a6"/><stop offset=".375" stop-color="#8a8a8a"/><stop offset=".4167" stop-color="#6e6e6e"/><stop offset=".4583" stop-color="#595959"/><stop offset=".5" stop-color="#494949"/><stop offset=".5417" stop-color="#434343"/><stop offset=".5833" stop-color="#484848"/><stop offset=".625" stop-color="#565656"/><stop offset=".6667" stop-color="#686868"/><stop offset=".7083" stop-color="#7e7e7e"/><stop offset=".75" stop-color="#969696"/><stop offset=".7917" stop-color="#a8a8a8"/><stop offset=".8333" stop-color="#b6b6b6"/><stop offset=".875" stop-color="#c2c2c2"/><stop offset=".9167" stop-color="#cccccc"/><stop offset=".9583" stop-color="#d5d5d5"/><stop offset="1" stop-color="#dcdcdc"/></linearGradient>
<linearGradient id="gB25"><stop offset="0" stop-color="#fdfdfd"/><stop offset=".0417" stop-color="#fbfbfb"/><stop offset=".0833" stop-color="#f9f9f9"/><stop offset=".125" stop-color="#f6f6f6"/><stop offset=".1667" stop-color="#f1f1f1"/><stop offset=".2083" stop-color="#e8e8e8"/><stop offset=".25" stop-color="#dcdcdc"/><stop offset=".2917" stop-color="#c2c2c2"/><stop offset=".3333" stop-color="#a2a2a2"/><stop offset=".375" stop-color="#838383"/><stop offset=".4167" stop-color="#666666"/><stop offset=".4583" stop-color="#4d4d4d"/><stop offset=".5" stop-color="#3a3a3a"/><stop offset=".5417" stop-color="#343434"/><stop offset=".5833" stop-color="#3d3d3d"/><stop offset=".625" stop-color="#4d4d4d"/><stop offset=".6667" stop-color="#626262"/><stop offset=".7083" stop-color="#7a7a7a"/><stop offset=".75" stop-color="#939393"/><stop offset=".7917" stop-color="#a6a6a6"/><stop offset=".8333" stop-color="#b4b4b4"/><stop offset=".875" stop-color="#c1c1c1"/><stop offset=".9167" stop-color="#cbcbcb"/><stop offset=".9583" stop-color="#d4d4d4"/><stop offset="1" stop-color="#dbdbdb"/></linearGradient>
<linearGradient id="gB26"><stop offset="0" stop-color="#fdfdfd"/><stop offset=".0417" stop-color="#fbfbfb"/><stop offset=".0833" stop-color="#f9f9f9"/><stop offset=".125" stop-color="#f6f6f6"/><stop offset=".1667" stop-color="#f0f0f0"/><stop offset=".2083" stop-color="#e7e7e7"/><stop offset=".25" stop-color="#dadada"/><stop offset=".2917" stop-color="#bfbfbf"/><stop offset=".3333" stop-color="#9e9e9e"/><stop offset=".375" stop-color="#7d7d7d"/><stop offset=".4167" stop-color="#5e5e5e"/><stop offset=".4583" stop-color="#404040"/><stop offset=".5" stop-color="#2c2c2c"/><stop offset=".5417" stop-color="#292929"/><stop offset=".5833" stop-color="#333333"/><stop offset=".625" stop-color="#464646"/><stop offset=".6667" stop-color="#5d5d5d"/><stop offset=".7083" stop-color="#757575"/><stop offset=".75" stop-color="#909090"/><stop offset=".7917" stop-color="#a4a4a4"/><stop offset=".8333" stop-color="#b3b3b3"/><stop offset=".875" stop-color="#bfbfbf"/><stop offset=".9167" stop-color="#cacaca"/><stop offset=".9583" stop-color="#d3d3d3"/><stop offset="1" stop-color="#dadada"/></linearGradient>
<linearGradient id="gB27"><stop offset="0" stop-color="#fdfdfd"/><stop offset=".0417" stop-color="#fbfbfb"/><stop offset=".0833" stop-color="#f9f9f9"/><stop offset=".125" stop-color="#f6f6f6"/><stop offset=".1667" stop-color="#f0f0f0"/><stop offset=".2083" stop-color="#e7e7e7"/><stop offset=".25" stop-color="#dadada"/><stop offset=".2917" stop-color="#bdbdbd"/><stop offset=".3333" stop-color="#9b9b9b"/><stop offset=".375" stop-color="#787878"/><stop offset=".4167" stop-color="#575757"/><stop offset=".4583" stop-color="#363636"/><stop offset=".5" stop-color="#232323"/><stop offset=".5417" stop-color="#212121"/><stop offset=".5833" stop-color="#2b2b2b"/><stop offset=".625" stop-color="#3f3f3f"/><stop offset=".6667" stop-color="#595959"/><stop offset=".7083" stop-color="#727272"/><stop offset=".75" stop-color="#8e8e8e"/><stop offset=".7917" stop-color="#a3a3a3"/><stop offset=".8333" stop-color="#b2b2b2"/><stop offset=".875" stop-color="#bfbfbf"/><stop offset=".9167" stop-color="#c9c9c9"/><stop offset=".9583" stop-color="#d2d2d2"/><stop offset="1" stop-color="#dadada"/></linearGradient>
<linearGradient id="gB28"><stop offset="0" stop-color="#fdfdfd"/><stop offset=".0417" stop-color="#fbfbfb"/><stop offset=".0833" stop-color="#f9f9f9"/><stop offset=".125" stop-color="#f6f6f6"/><stop offset=".1667" stop-color="#f0f0f0"/><stop offset=".2083" stop-color="#e7e7e7"/><stop offset=".25" stop-color="#d9d9d9"/><stop offset=".2917" stop-color="#bbbbbb"/><stop offset=".3333" stop-color="#999999"/><stop offset=".375" stop-color="#747474"/><stop offset=".4167" stop-color="#505050"/><stop offset=".4583" stop-color="#2d2d2d"/><stop offset=".5" stop-color="#1f1f1f"/><stop offset=".5417" stop-color="#1e1e1e"/><stop offset=".5833" stop-color="#262626"/><stop offset=".625" stop-color="#3a3a3a"/><stop offset=".6667" stop-color="#555555"/><stop offset=".7083" stop-color="#707070"/><stop offset=".75" stop-color="#8d8d8d"/><stop offset=".7917" stop-color="#a2a2a2"/><stop offset=".8333" stop-color="#b1b1b1"/><stop offset=".875" stop-color="#bebebe"/><stop offset=".9167" stop-color="#c9c9c9"/><stop offset=".9583" stop-color="#d2d2d2"/><stop offset="1" stop-color="#d9d9d9"/></linearGradient>
<linearGradient id="gB29"><stop offset="0" stop-color="#fdfdfd"/><stop offset=".0417" stop-color="#fbfbfb"/><stop offset=".0833" stop-color="#f9f9f9"/><stop offset=".125" stop-color="#f6f6f6"/><stop offset=".1667" stop-color="#f0f0f0"/><stop offset=".2083" stop-color="#e7e7e7"/><stop offset=".25" stop-color="#d8d8d8"/><stop offset=".2917" stop-color="#bababa"/><stop offset=".3333" stop-color="#979797"/><stop offset=".375" stop-color="#727272"/><stop offset=".4167" stop-color="#4b4b4b"/><stop offset=".4583" stop-color="#272727"/><stop offset=".5" stop-color="#1c1c1c"/><stop offset=".5417" stop-color="#1b1b1b"/><stop offset=".5833" stop-color="#222222"/><stop offset=".625" stop-color="#373737"/><stop offset=".6667" stop-color="#535353"/><stop offset=".7083" stop-color="#6e6e6e"/><stop offset=".75" stop-color="#8c8c8c"/><stop offset=".7917" stop-color="#a2a2a2"/><stop offset=".8333" stop-color="#b1b1b1"/><stop offset=".875" stop-color="#bebebe"/><stop offset=".9167" stop-color="#c8c8c8"/><stop offset=".9583" stop-color="#d1d1d1"/><stop offset="1" stop-color="#d9d9d9"/></linearGradient>
<linearGradient id="gB30"><stop offset="0" stop-color="#fdfdfd"/><stop offset=".0417" stop-color="#fbfbfb"/><stop offset=".0833" stop-color="#f9f9f9"/><stop offset=".125" stop-color="#f7f7f7"/><stop offset=".1667" stop-color="#f1f1f1"/><stop offset=".2083" stop-color="#e7e7e7"/><stop offset=".25" stop-color="#d8d8d8"/><stop offset=".2917" stop-color="#bababa"/><stop offset=".3333" stop-color="#969696"/><stop offset=".375" stop-color="#707070"/><stop offset=".4167" stop-color="#474747"/><stop offset=".4583" stop-color="#232323"/><stop offset=".5" stop-color="#191919"/><stop offset=".5417" stop-color="#191919"/><stop offset=".5833" stop-color="#212121"/><stop offset=".625" stop-color="#353535"/><stop offset=".6667" stop-color="#525252"/><stop offset=".7083" stop-color="#6e6e6e"/><stop offset=".75" stop-color="#8c8c8c"/><stop offset=".7917" stop-color="#a2a2a2"/><stop offset=".8333" stop-color="#b1b1b1"/><stop offset=".875" stop-color="#bebebe"/><stop offset=".9167" stop-color="#c8c8c8"/><stop offset=".9583" stop-color="#d1d1d1"/><stop offset="1" stop-color="#d9d9d9"/></linearGradient>
<linearGradient id="gB31"><stop offset="0" stop-color="#fdfdfd"/><stop offset=".0417" stop-color="#fbfbfb"/><stop offset=".0833" stop-color="#f9f9f9"/><stop offset=".125" stop-color="#f7f7f7"/><stop offset=".1667" stop-color="#f1f1f1"/><stop offset=".2083" stop-color="#e7e7e7"/><stop offset=".25" stop-color="#d8d8d8"/><stop offset=".2917" stop-color="#bababa"/><stop offset=".3333" stop-color="#969696"/><stop offset=".375" stop-color="#6f6f6f"/><stop offset=".4167" stop-color="#464646"/><stop offset=".4583" stop-color="#222222"/><stop offset=".5" stop-color="#181818"/><stop offset=".5417" stop-color="#171717"/><stop offset=".5833" stop-color="#202020"/><stop offset=".625" stop-color="#343434"/><stop offset=".6667" stop-color="#525252"/><stop offset=".7083" stop-color="#6e6e6e"/><stop offset=".75" stop-color="#8d8d8d"/><stop offset=".7917" stop-color="#a3a3a3"/><stop offset=".8333" stop-color="#b1b1b1"/><stop offset=".875" stop-color="#bebebe"/><stop offset=".9167" stop-color="#c8c8c8"/><stop offset=".9583" stop-color="#d1d1d1"/><stop offset="1" stop-color="#d9d9d9"/></linearGradient>
<linearGradient id="gB32"><stop offset="0" stop-color="#fdfdfd"/><stop offset=".0417" stop-color="#fbfbfb"/><stop offset=".0833" stop-color="#f9f9f9"/><stop offset=".125" stop-color="#f7f7f7"/><stop offset=".1667" stop-color="#f1f1f1"/><stop offset=".2083" stop-color="#e7e7e7"/><stop offset=".25" stop-color="#d8d8d8"/><stop offset=".2917" stop-color="#bababa"/><stop offset=".3333" stop-color="#979797"/><stop offset=".375" stop-color="#6f6f6f"/><stop offset=".4167" stop-color="#464646"/><stop offset=".4583" stop-color="#222222"/><stop offset=".5" stop-color="#171717"/><stop offset=".5417" stop-color="#171717"/><stop offset=".5833" stop-color="#202020"/><stop offset=".625" stop-color="#353535"/><stop offset=".6667" stop-color="#525252"/><stop offset=".7083" stop-color="#6f6f6f"/><stop offset=".75" stop-color="#8e8e8e"/><stop offset=".7917" stop-color="#a3a3a3"/><stop offset=".8333" stop-color="#b2b2b2"/><stop offset=".875" stop-color="#bebebe"/><stop offset=".9167" stop-color="#c9c9c9"/><stop offset=".9583" stop-color="#d2d2d2"/><stop offset="1" stop-color="#d9d9d9"/></linearGradient>
<linearGradient id="gB33"><stop offset="0" stop-color="#fdfdfd"/><stop offset=".0417" stop-color="#fbfbfb"/><stop offset=".0833" stop-color="#f9f9f9"/><stop offset=".125" stop-color="#f7f7f7"/><stop offset=".1667" stop-color="#f1f1f1"/><stop offset=".2083" stop-color="#e8e8e8"/><stop offset=".25" stop-color="#d9d9d9"/><stop offset=".2917" stop-color="#bbbbbb"/><stop offset=".3333" stop-color="#989898"/><stop offset=".375" stop-color="#717171"/><stop offset=".4167" stop-color="#484848"/><stop offset=".4583" stop-color="#232323"/><stop offset=".5" stop-color="#191919"/><stop offset=".5417" stop-color="#181818"/><stop offset=".5833" stop-color="#212121"/><stop offset=".625" stop-color="#373737"/><stop offset=".6667" stop-color="#545454"/><stop offset=".7083" stop-color="#717171"/><stop offset=".75" stop-color="#909090"/><stop offset=".7917" stop-color="#a4a4a4"/><stop offset=".8333" stop-color="#b3b3b3"/><stop offset=".875" stop-color="#bfbfbf"/><stop offset=".9167" stop-color="#c9c9c9"/><stop offset=".9583" stop-color="#d2d2d2"/><stop offset="1" stop-color="#dadada"/></linearGradient>
<linearGradient id="gB34"><stop offset="0" stop-color="#fdfdfd"/><stop offset=".0417" stop-color="#fbfbfb"/><stop offset=".0833" stop-color="#fafafa"/><stop offset=".125" stop-color="#f7f7f7"/><stop offset=".1667" stop-color="#f2f2f2"/><stop offset=".2083" stop-color="#e8e8e8"/><stop offset=".25" stop-color="#d9d9d9"/><stop offset=".2917" stop-color="#bcbcbc"/><stop offset=".3333" stop-color="#999999"/><stop offset=".375" stop-color="#737373"/><stop offset=".4167" stop-color="#4b4b4b"/><stop offset=".4583" stop-color="#272727"/><stop offset=".5" stop-color="#1b1b1b"/><stop offset=".5417" stop-color="#1a1a1a"/><stop offset=".5833" stop-color="#232323"/><stop offset=".625" stop-color="#3a3a3a"/><stop offset=".6667" stop-color="#575757"/><stop offset=".7083" stop-color="#747474"/><stop offset=".75" stop-color="#929292"/><stop offset=".7917" stop-color="#a5a5a5"/><stop offset=".8333" stop-color="#b4b4b4"/><stop offset=".875" stop-color="#c0c0c0"/><stop offset=".9167" stop-color="#cacaca"/><stop offset=".9583" stop-color="#d3d3d3"/><stop offset="1" stop-color="#dadada"/></linearGradient>
<linearGradient id="gB35"><stop offset="0" stop-color="#fdfdfd"/><stop offset=".0417" stop-color="#fcfcfc"/><stop offset=".0833" stop-color="#fafafa"/><stop offset=".125" stop-color="#f7f7f7"/><stop offset=".1667" stop-color="#f2f2f2"/><stop offset=".2083" stop-color="#e9e9e9"/><stop offset=".25" stop-color="#dadada"/><stop offset=".2917" stop-color="#bebebe"/><stop offset=".3333" stop-color="#9b9b9b"/><stop offset=".375" stop-color="#767676"/><stop offset=".4167" stop-color="#505050"/><stop offset=".4583" stop-color="#2c2c2c"/><stop offset=".5" stop-color="#1e1e1e"/><stop offset=".5417" stop-color="#1d1d1d"/><stop offset=".5833" stop-color="#272727"/><stop offset=".625" stop-color="#3e3e3e"/><stop offset=".6667" stop-color="#5b5b5b"/><stop offset=".7083" stop-color="#777777"/><stop offset=".75" stop-color="#949494"/><stop offset=".7917" stop-color="#a7a7a7"/><stop offset=".8333" stop-color="#b5b5b5"/><stop offset=".875" stop-color="#c1c1c1"/><stop offset=".9167" stop-color="#cbcbcb"/><stop offset=".9583" stop-color="#d4d4d4"/><stop offset="1" stop-color="#dbdbdb"/></linearGradient>
<linearGradient id="gB36"><stop offset="0" stop-color="#fdfdfd"/><stop offset=".0417" stop-color="#fcfcfc"/><stop offset=".0833" stop-color="#fafafa"/><stop offset=".125" stop-color="#f8f8f8"/><stop offset=".1667" stop-color="#f3f3f3"/><stop offset=".2083" stop-color="#e9e9e9"/><stop offset=".25" stop-color="#dbdbdb"/><stop offset=".2917" stop-color="#c0c0c0"/><stop offset=".3333" stop-color="#9e9e9e"/><stop offset=".375" stop-color="#7a7a7a"/><stop offset=".4167" stop-color="#565656"/><stop offset=".4583" stop-color="#343434"/><stop offset=".5" stop-color="#222222"/><stop offset=".5417" stop-color="#212121"/><stop offset=".5833" stop-color="#2c2c2c"/><stop offset=".625" stop-color="#444444"/><stop offset=".6667" stop-color="#5f5f5f"/><stop offset=".7083" stop-color="#7c7c7c"/><stop offset=".75" stop-color="#979797"/><stop offset=".7917" stop-color="#a9a9a9"/><stop offset=".8333" stop-color="#b7b7b7"/><stop offset=".875" stop-color="#c3c3c3"/><stop offset=".9167" stop-color="#cdcdcd"/><stop offset=".9583" stop-color="#d5d5d5"/><stop offset="1" stop-color="#dcdcdc"/></linearGradient>
<linearGradient id="gB37"><stop offset="0" stop-color="#fdfdfd"/><stop offset=".0417" stop-color="#fcfcfc"/><stop offset=".0833" stop-color="#fafafa"/><stop offset=".125" stop-color="#f8f8f8"/><stop offset=".1667" stop-color="#f3f3f3"/><stop offset=".2083" stop-color="#eaeaea"/><stop offset=".25" stop-color="#dddddd"/><stop offset=".2917" stop-color="#c2c2c2"/><stop offset=".3333" stop-color="#a1a1a1"/><stop offset=".375" stop-color="#7e7e7e"/><stop offset=".4167" stop-color="#5d5d5d"/><stop offset=".4583" stop-color="#3e3e3e"/><stop offset=".5" stop-color="#2b2b2b"/><stop offset=".5417" stop-color="#282828"/><stop offset=".5833" stop-color="#343434"/><stop offset=".625" stop-color="#4b4b4b"/><stop offset=".6667" stop-color="#646464"/><stop offset=".7083" stop-color="#818181"/><stop offset=".75" stop-color="#9b9b9b"/><stop offset=".7917" stop-color="#ababab"/><stop offset=".8333" stop-color="#b9b9b9"/><stop offset=".875" stop-color="#c4c4c4"/><stop offset=".9167" stop-color="#cecece"/><stop offset=".9583" stop-color="#d6d6d6"/><stop offset="1" stop-color="#dddddd"/></linearGradient>
<linearGradient id="gB38"><stop offset="0" stop-color="#fdfdfd"/><stop offset=".0417" stop-color="#fcfcfc"/><stop offset=".0833" stop-color="#fafafa"/><stop offset=".125" stop-color="#f8f8f8"/><stop offset=".1667" stop-color="#f4f4f4"/><stop offset=".2083" stop-color="#ebebeb"/><stop offset=".25" stop-color="#dedede"/><stop offset=".2917" stop-color="#c6c6c6"/><stop offset=".3333" stop-color="#a5a5a5"/><stop offset=".375" stop-color="#848484"/><stop offset=".4167" stop-color="#646464"/><stop offset=".4583" stop-color="#494949"/><stop offset=".5" stop-color="#363636"/><stop offset=".5417" stop-color="#333333"/><stop offset=".5833" stop-color="#3f3f3f"/><stop offset=".625" stop-color="#545454"/><stop offset=".6667" stop-color="#6b6b6b"/><stop offset=".7083" stop-color="#868686"/><stop offset=".75" stop-color="#9e9e9e"/><stop offset=".7917" stop-color="#aeaeae"/><stop offset=".8333" stop-color="#bbbbbb"/><stop offset=".875" stop-color="#c6c6c6"/><stop offset=".9167" stop-color="#d0d0d0"/><stop offset=".9583" stop-color="#d8d8d8"/><stop offset="1" stop-color="#dedede"/></linearGradient>
<linearGradient id="gB39"><stop offset="0" stop-color="#fdfdfd"/><stop offset=".0417" stop-color="#fcfcfc"/><stop offset=".0833" stop-color="#fafafa"/><stop offset=".125" stop-color="#f8f8f8"/><stop offset=".1667" stop-color="#f4f4f4"/><stop offset=".2083" stop-color="#ececec"/><stop offset=".25" stop-color="#e0e0e0"/><stop offset=".2917" stop-color="#c9c9c9"/><stop offset=".3333" stop-color="#a9a9a9"/><stop offset=".375" stop-color="#8a8a8a"/><stop offset=".4167" stop-color="#6d6d6d"/><stop offset=".4583" stop-color="#555555"/><stop offset=".5" stop-color="#444444"/><stop offset=".5417" stop-color="#404040"/><stop offset=".5833" stop-color="#4a4a4a"/><stop offset=".625" stop-color="#5d5d5d"/><stop offset=".6667" stop-color="#727272"/><stop offset=".7083" stop-color="#8c8c8c"/><stop offset=".75" stop-color="#a1a1a1"/><stop offset=".7917" stop-color="#b1b1b1"/><stop offset=".8333" stop-color="#bebebe"/><stop offset=".875" stop-color="#c9c9c9"/><stop offset=".9167" stop-color="#d2d2d2"/><stop offset=".9583" stop-color="#d9d9d9"/><stop offset="1" stop-color="#dfdfdf"/></linearGradient>
<linearGradient id="gB40"><stop offset="0" stop-color="#fefefe"/><stop offset=".0417" stop-color="#fcfcfc"/><stop offset=".0833" stop-color="#fafafa"/><stop offset=".125" stop-color="#f8f8f8"/><stop offset=".1667" stop-color="#f5f5f5"/><stop offset=".2083" stop-color="#ededed"/><stop offset=".25" stop-color="#e1e1e1"/><stop offset=".2917" stop-color="#cdcdcd"/><stop offset=".3333" stop-color="#afafaf"/><stop offset=".375" stop-color="#919191"/><stop offset=".4167" stop-color="#757575"/><stop offset=".4583" stop-color="#606060"/><stop offset=".5" stop-color="#525252"/><stop offset=".5417" stop-color="#4e4e4e"/><stop offset=".5833" stop-color="#575757"/><stop offset=".625" stop-color="#656565"/><stop offset=".6667" stop-color="#7a7a7a"/><stop offset=".7083" stop-color="#929292"/><stop offset=".75" stop-color="#a5a5a5"/><stop offset=".7917" stop-color="#b4b4b4"/><stop offset=".8333" stop-color="#c1c1c1"/><stop offset=".875" stop-color="#cbcbcb"/><stop offset=".9167" stop-color="#d4d4d4"/><stop offset=".9583" stop-color="#dbdbdb"/><stop offset="1" stop-color="#e1e1e1"/></linearGradient>
<linearGradient id="gB41"><stop offset="0" stop-color="#fefefe"/><stop offset=".0417" stop-color="#fcfcfc"/><stop offset=".0833" stop-color="#fbfbfb"/><stop offset=".125" stop-color="#f9f9f9"/><stop offset=".1667" stop-color="#f5f5f5"/><stop offset=".2083" stop-color="#eeeeee"/><stop offset=".25" stop-color="#e3e3e3"/><stop offset=".2917" stop-color="#d1d1d1"/><stop offset=".3333" stop-color="#b4b4b4"/><stop offset=".375" stop-color="#989898"/><stop offset=".4167" stop-color="#7f7f7f"/><stop offset=".4583" stop-color="#6b6b6b"/><stop offset=".5" stop-color="#5f5f5f"/><stop offset=".5417" stop-color="#5c5c5c"/><stop offset=".5833" stop-color="#626262"/><stop offset=".625" stop-color="#6f6f6f"/><stop offset=".6667" stop-color="#838383"/><stop offset=".7083" stop-color="#989898"/><stop offset=".75" stop-color="#aaaaaa"/><stop offset=".7917" stop-color="#b8b8b8"/><stop offset=".8333" stop-color="#c4c4c4"/><stop offset=".875" stop-color="#cecece"/><stop offset=".9167" stop-color="#d6d6d6"/><stop offset=".9583" stop-color="#dddddd"/><stop offset="1" stop-color="#e2e2e2"/></linearGradient>
<linearGradient id="gB42"><stop offset="0" stop-color="#fefefe"/><stop offset=".0417" stop-color="#fcfcfc"/><stop offset=".0833" stop-color="#fbfbfb"/><stop offset=".125" stop-color="#f9f9f9"/><stop offset=".1667" stop-color="#f6f6f6"/><stop offset=".2083" stop-color="#efefef"/><stop offset=".25" stop-color="#e4e4e4"/><stop offset=".2917" stop-color="#d5d5d5"/><stop offset=".3333" stop-color="#bbbbbb"/><stop offset=".375" stop-color="#a0a0a0"/><stop offset=".4167" stop-color="#888888"/><stop offset=".4583" stop-color="#767676"/><stop offset=".5" stop-color="#6b6b6b"/><stop offset=".5417" stop-color="#686868"/><stop offset=".5833" stop-color="#6d6d6d"/><stop offset=".625" stop-color="#797979"/><stop offset=".6667" stop-color="#8b8b8b"/><stop offset=".7083" stop-color="#9e9e9e"/><stop offset=".75" stop-color="#aeaeae"/><stop offset=".7917" stop-color="#bcbcbc"/><stop offset=".8333" stop-color="#c7c7c7"/><stop offset=".875" stop-color="#d1d1d1"/><stop offset=".9167" stop-color="#d8d8d8"/><stop offset=".9583" stop-color="#dedede"/><stop offset="1" stop-color="#e4e4e4"/></linearGradient>
<linearGradient id="gB43"><stop offset="0" stop-color="#fefefe"/><stop offset=".0417" stop-color="#fdfdfd"/><stop offset=".0833" stop-color="#fbfbfb"/><stop offset=".125" stop-color="#f9f9f9"/><stop offset=".1667" stop-color="#f7f7f7"/><stop offset=".2083" stop-color="#f0f0f0"/><stop offset=".25" stop-color="#e6e6e6"/><stop offset=".2917" stop-color="#d9d9d9"/><stop offset=".3333" stop-color="#c1c1c1"/><stop offset=".375" stop-color="#a7a7a7"/><stop offset=".4167" stop-color="#929292"/><stop offset=".4583" stop-color="#818181"/><stop offset=".5" stop-color="#767676"/><stop offset=".5417" stop-color="#737373"/><stop offset=".5833" stop-color="#787878"/><stop offset=".625" stop-color="#838383"/><stop offset=".6667" stop-color="#949494"/><stop offset=".7083" stop-color="#a5a5a5"/><stop offset=".75" stop-color="#b4b4b4"/><stop offset=".7917" stop-color="#c1c1c1"/><stop offset=".8333" stop-color="#cbcbcb"/><stop offset=".875" stop-color="#d4d4d4"/><stop offset=".9167" stop-color="#dbdbdb"/><stop offset=".9583" stop-color="#e0e0e0"/><stop offset="1" stop-color="#e5e5e5"/></linearGradient>
<linearGradient id="gB44"><stop offset="0" stop-color="#fefefe"/><stop offset=".0417" stop-color="#fdfdfd"/><stop offset=".0833" stop-color="#fbfbfb"/><stop offset=".125" stop-color="#f9f9f9"/><stop offset=".1667" stop-color="#f7f7f7"/><stop offset=".2083" stop-color="#f2f2f2"/><stop offset=".25" stop-color="#e8e8e8"/><stop offset=".2917" stop-color="#dcdcdc"/><stop offset=".3333" stop-color="#c8c8c8"/><stop offset=".375" stop-color="#b0b0b0"/><stop offset=".4167" stop-color="#9c9c9c"/><stop offset=".4583" stop-color="#8c8c8c"/><stop offset=".5" stop-color="#828282"/><stop offset=".5417" stop-color="#7f7f7f"/><stop offset=".5833" stop-color="#838383"/><stop offset=".625" stop-color="#8e8e8e"/><stop offset=".6667" stop-color="#9c9c9c"/><stop offset=".7083" stop-color="#ababab"/><stop offset=".75" stop-color="#bababa"/><stop offset=".7917" stop-color="#c6c6c6"/><stop offset=".8333" stop-color="#cfcfcf"/><stop offset=".875" stop-color="#d7d7d7"/><stop offset=".9167" stop-color="#dddddd"/><stop offset=".9583" stop-color="#e2e2e2"/><stop offset="1" stop-color="#e7e7e7"/></linearGradient>
<linearGradient id="gB45"><stop offset="0" stop-color="#fefefe"/><stop offset=".0417" stop-color="#fdfdfd"/><stop offset=".0833" stop-color="#fbfbfb"/><stop offset=".125" stop-color="#fafafa"/><stop offset=".1667" stop-color="#f7f7f7"/><stop offset=".2083" stop-color="#f3f3f3"/><stop offset=".25" stop-color="#eaeaea"/><stop offset=".2917" stop-color="#e0e0e0"/><stop offset=".3333" stop-color="#cfcfcf"/><stop offset=".375" stop-color="#b9b9b9"/><stop offset=".4167" stop-color="#a5a5a5"/><stop offset=".4583" stop-color="#979797"/><stop offset=".5" stop-color="#8e8e8e"/><stop offset=".5417" stop-color="#8b8b8b"/><stop offset=".5833" stop-color="#8f8f8f"/><stop offset=".625" stop-color="#989898"/><stop offset=".6667" stop-color="#a4a4a4"/><stop offset=".7083" stop-color="#b3b3b3"/><stop offset=".75" stop-color="#c0c0c0"/><stop offset=".7917" stop-color="#cbcbcb"/><stop offset=".8333" stop-color="#d4d4d4"/><stop offset=".875" stop-color="#dadada"/><stop offset=".9167" stop-color="#e0e0e0"/><stop offset=".9583" stop-color="#e5e5e5"/><stop offset="1" stop-color="#e9e9e9"/></linearGradient>
<linearGradient id="gB46"><stop offset="0" stop-color="#fefefe"/><stop offset=".0417" stop-color="#fdfdfd"/><stop offset=".0833" stop-color="#fcfcfc"/><stop offset=".125" stop-color="#fafafa"/><stop offset=".1667" stop-color="#f8f8f8"/><stop offset=".2083" stop-color="#f4f4f4"/><stop offset=".25" stop-color="#ececec"/><stop offset=".2917" stop-color="#e2e2e2"/><stop offset=".3333" stop-color="#d5d5d5"/><stop offset=".375" stop-color="#c1c1c1"/><stop offset=".4167" stop-color="#afafaf"/><stop offset=".4583" stop-color="#a1a1a1"/><stop offset=".5" stop-color="#999999"/><stop offset=".5417" stop-color="#969696"/><stop offset=".5833" stop-color="#999999"/><stop offset=".625" stop-color="#a1a1a1"/><stop offset=".6667" stop-color="#adadad"/><stop offset=".7083" stop-color="#bababa"/><stop offset=".75" stop-color="#c6c6c6"/><stop offset=".7917" stop-color="#d0d0d0"/><stop offset=".8333" stop-color="#d8d8d8"/><stop offset=".875" stop-color="#dedede"/><stop offset=".9167" stop-color="#e2e2e2"/><stop offset=".9583" stop-color="#e7e7e7"/><stop offset="1" stop-color="#ebebeb"/></linearGradient>
<linearGradient id="gB47"><stop offset="0" stop-color="#fefefe"/><stop offset=".0417" stop-color="#fdfdfd"/><stop offset=".0833" stop-color="#fcfcfc"/><stop offset=".125" stop-color="#fafafa"/><stop offset=".1667" stop-color="#f8f8f8"/><stop offset=".2083" stop-color="#f5f5f5"/><stop offset=".25" stop-color="#eeeeee"/><stop offset=".2917" stop-color="#e5e5e5"/><stop offset=".3333" stop-color="#dadada"/><stop offset=".375" stop-color="#cacaca"/><stop offset=".4167" stop-color="#b9b9b9"/><stop offset=".4583" stop-color="#ababab"/><stop offset=".5" stop-color="#a3a3a3"/><stop offset=".5417" stop-color="#a1a1a1"/><stop offset=".5833" stop-color="#a4a4a4"/><stop offset=".625" stop-color="#ababab"/><stop offset=".6667" stop-color="#b7b7b7"/><stop offset=".7083" stop-color="#c2c2c2"/><stop offset=".75" stop-color="#cdcdcd"/><stop offset=".7917" stop-color="#d5d5d5"/><stop offset=".8333" stop-color="#dcdcdc"/><stop offset=".875" stop-color="#e1e1e1"/><stop offset=".9167" stop-color="#e5e5e5"/><stop offset=".9583" stop-color="#e9e9e9"/><stop offset="1" stop-color="#ededed"/></linearGradient>
<linearGradient id="gB48"><stop offset="0" stop-color="#fefefe"/><stop offset=".0417" stop-color="#fdfdfd"/><stop offset=".0833" stop-color="#fcfcfc"/><stop offset=".125" stop-color="#fafafa"/><stop offset=".1667" stop-color="#f9f9f9"/><stop offset=".2083" stop-color="#f6f6f6"/><stop offset=".25" stop-color="#f0f0f0"/><stop offset=".2917" stop-color="#e8e8e8"/><stop offset=".3333" stop-color="#dfdfdf"/><stop offset=".375" stop-color="#d2d2d2"/><stop offset=".4167" stop-color="#c3c3c3"/><stop offset=".4583" stop-color="#b6b6b6"/><stop offset=".5" stop-color="#aeaeae"/><stop offset=".5417" stop-color="#acacac"/><stop offset=".5833" stop-color="#afafaf"/><stop offset=".625" stop-color="#b6b6b6"/><stop offset=".6667" stop-color="#c0c0c0"/><stop offset=".7083" stop-color="#cacaca"/><stop offset=".75" stop-color="#d3d3d3"/><stop offset=".7917" stop-color="#dadada"/><stop offset=".8333" stop-color="#dfdfdf"/><stop offset=".875" stop-color="#e4e4e4"/><stop offset=".9167" stop-color="#e8e8e8"/><stop offset=".9583" stop-color="#ebebeb"/><stop offset="1" stop-color="#efefef"/></linearGradient>
<linearGradient id="gB49"><stop offset="0" stop-color="#fefefe"/><stop offset=".0417" stop-color="#fefefe"/><stop offset=".0833" stop-color="#fcfcfc"/><stop offset=".125" stop-color="#fbfbfb"/><stop offset=".1667" stop-color="#f9f9f9"/><stop offset=".2083" stop-color="#f7f7f7"/><stop offset=".25" stop-color="#f2f2f2"/><stop offset=".2917" stop-color="#ebebeb"/><stop offset=".3333" stop-color="#e2e2e2"/><stop offset=".375" stop-color="#d8d8d8"/><stop offset=".4167" stop-color="#cccccc"/><stop offset=".4583" stop-color="#c1c1c1"/><stop offset=".5" stop-color="#bababa"/><stop offset=".5417" stop-color="#b7b7b7"/><stop offset=".5833" stop-color="#bababa"/><stop offset=".625" stop-color="#c0c0c0"/><stop offset=".6667" stop-color="#c9c9c9"/><stop offset=".7083" stop-color="#d2d2d2"/><stop offset=".75" stop-color="#d9d9d9"/><stop offset=".7917" stop-color="#dfdfdf"/><stop offset=".8333" stop-color="#e3e3e3"/><stop offset=".875" stop-color="#e7e7e7"/><stop offset=".9167" stop-color="#eaeaea"/><stop offset=".9583" stop-color="#eeeeee"/><stop offset="1" stop-color="#f1f1f1"/></linearGradient>
<linearGradient id="gB50"><stop offset="0" stop-color="#ffffff"/><stop offset=".0417" stop-color="#fefefe"/><stop offset=".0833" stop-color="#fdfdfd"/><stop offset=".125" stop-color="#fbfbfb"/><stop offset=".1667" stop-color="#f9f9f9"/><stop offset=".2083" stop-color="#f7f7f7"/><stop offset=".25" stop-color="#f3f3f3"/><stop offset=".2917" stop-color="#ededed"/><stop offset=".3333" stop-color="#e6e6e6"/><stop offset=".375" stop-color="#dedede"/><stop offset=".4167" stop-color="#d4d4d4"/><stop offset=".4583" stop-color="#cbcbcb"/><stop offset=".5" stop-color="#c4c4c4"/><stop offset=".5417" stop-color="#c2c2c2"/><stop offset=".5833" stop-color="#c5c5c5"/><stop offset=".625" stop-color="#cacaca"/><stop offset=".6667" stop-color="#d2d2d2"/><stop offset=".7083" stop-color="#d9d9d9"/><stop offset=".75" stop-color="#dedede"/><stop offset=".7917" stop-color="#e2e2e2"/><stop offset=".8333" stop-color="#e6e6e6"/><stop offset=".875" stop-color="#e9e9e9"/><stop offset=".9167" stop-color="#ededed"/><stop offset=".9583" stop-color="#f0f0f0"/><stop offset="1" stop-color="#f2f2f2"/></linearGradient>
<linearGradient id="gB51"><stop offset="0" stop-color="#ffffff"/><stop offset=".0417" stop-color="#fefefe"/><stop offset=".0833" stop-color="#fdfdfd"/><stop offset=".125" stop-color="#fbfbfb"/><stop offset=".1667" stop-color="#fafafa"/><stop offset=".2083" stop-color="#f8f8f8"/><stop offset=".25" stop-color="#f5f5f5"/><stop offset=".2917" stop-color="#efefef"/><stop offset=".3333" stop-color="#e9e9e9"/><stop offset=".375" stop-color="#e2e2e2"/><stop offset=".4167" stop-color="#dbdbdb"/><stop offset=".4583" stop-color="#d4d4d4"/><stop offset=".5" stop-color="#cecece"/><stop offset=".5417" stop-color="#cdcdcd"/><stop offset=".5833" stop-color="#cfcfcf"/><stop offset=".625" stop-color="#d3d3d3"/><stop offset=".6667" stop-color="#d9d9d9"/><stop offset=".7083" stop-color="#dedede"/><stop offset=".75" stop-color="#e2e2e2"/><stop offset=".7917" stop-color="#e6e6e6"/><stop offset=".8333" stop-color="#e9e9e9"/><stop offset=".875" stop-color="#ececec"/><stop offset=".9167" stop-color="#efefef"/><stop offset=".9583" stop-color="#f2f2f2"/><stop offset="1" stop-color="#f4f4f4"/></linearGradient>
<linearGradient id="gB52"><stop offset="0" stop-color="#ffffff"/><stop offset=".0417" stop-color="#fefefe"/><stop offset=".0833" stop-color="#fdfdfd"/><stop offset=".125" stop-color="#fcfcfc"/><stop offset=".1667" stop-color="#fafafa"/><stop offset=".2083" stop-color="#f8f8f8"/><stop offset=".25" stop-color="#f6f6f6"/><stop offset=".2917" stop-color="#f2f2f2"/><stop offset=".3333" stop-color="#ececec"/><stop offset=".375" stop-color="#e6e6e6"/><stop offset=".4167" stop-color="#e0e0e0"/><stop offset=".4583" stop-color="#dbdbdb"/><stop offset=".5" stop-color="#d7d7d7"/><stop offset=".5417" stop-color="#d6d6d6"/><stop offset=".5833" stop-color="#d7d7d7"/><stop offset=".625" stop-color="#dbdbdb"/><stop offset=".6667" stop-color="#dfdfdf"/><stop offset=".7083" stop-color="#e2e2e2"/><stop offset=".75" stop-color="#e6e6e6"/><stop offset=".7917" stop-color="#e9e9e9"/><stop offset=".8333" stop-color="#ececec"/><stop offset=".875" stop-color="#efefef"/><stop offset=".9167" stop-color="#f1f1f1"/><stop offset=".9583" stop-color="#f4f4f4"/><stop offset="1" stop-color="#f5f5f5"/></linearGradient>
<linearGradient id="gB53"><stop offset="0" stop-color="#ffffff"/><stop offset=".0417" stop-color="#fefefe"/><stop offset=".0833" stop-color="#fdfdfd"/><stop offset=".125" stop-color="#fcfcfc"/><stop offset=".1667" stop-color="#fbfbfb"/><stop offset=".2083" stop-color="#f9f9f9"/><stop offset=".25" stop-color="#f7f7f7"/><stop offset=".2917" stop-color="#f4f4f4"/><stop offset=".3333" stop-color="#efefef"/><stop offset=".375" stop-color="#e9e9e9"/><stop offset=".4167" stop-color="#e4e4e4"/><stop offset=".4583" stop-color="#e0e0e0"/><stop offset=".5" stop-color="#dddddd"/><stop offset=".5417" stop-color="#dddddd"/><stop offset=".5833" stop-color="#dedede"/><stop offset=".625" stop-color="#e0e0e0"/><stop offset=".6667" stop-color="#e3e3e3"/><stop offset=".7083" stop-color="#e6e6e6"/><stop offset=".75" stop-color="#e9e9e9"/><stop offset=".7917" stop-color="#ececec"/><stop offset=".8333" stop-color="#efefef"/><stop offset=".875" stop-color="#f1f1f1"/><stop offset=".9167" stop-color="#f3f3f3"/><stop offset=".9583" stop-color="#f5f5f5"/><stop offset="1" stop-color="#f7f7f7"/></linearGradient>
<linearGradient id="gB54"><stop offset="0" stop-color="#ffffff"/><stop offset=".0417" stop-color="#fefefe"/><stop offset=".0833" stop-color="#fdfdfd"/><stop offset=".125" stop-color="#fcfcfc"/><stop offset=".1667" stop-color="#fbfbfb"/><stop offset=".2083" stop-color="#f9f9f9"/><stop offset=".25" stop-color="#f8f8f8"/><stop offset=".2917" stop-color="#f5f5f5"/><stop offset=".3333" stop-color="#f1f1f1"/><stop offset=".375" stop-color="#ececec"/><stop offset=".4167" stop-color="#e8e8e8"/><stop offset=".4583" stop-color="#e4e4e4"/><stop offset=".5" stop-color="#e2e2e2"/><stop offset=".5417" stop-color="#e1e1e1"/><stop offset=".5833" stop-color="#e2e2e2"/><stop offset=".625" stop-color="#e4e4e4"/><stop offset=".6667" stop-color="#e7e7e7"/><stop offset=".7083" stop-color="#eaeaea"/><stop offset=".75" stop-color="#ececec"/><stop offset=".7917" stop-color="#efefef"/><stop offset=".8333" stop-color="#f1f1f1"/><stop offset=".875" stop-color="#f3f3f3"/><stop offset=".9167" stop-color="#f5f5f5"/><stop offset=".9583" stop-color="#f6f6f6"/><stop offset="1" stop-color="#f7f7f7"/></linearGradient>
<linearGradient id="gB55"><stop offset="0" stop-color="#ffffff"/><stop offset=".0417" stop-color="#fefefe"/><stop offset=".0833" stop-color="#fefefe"/><stop offset=".125" stop-color="#fdfdfd"/><stop offset=".1667" stop-color="#fbfbfb"/><stop offset=".2083" stop-color="#fafafa"/><stop offset=".25" stop-color="#f8f8f8"/><stop offset=".2917" stop-color="#f6f6f6"/><stop offset=".3333" stop-color="#f3f3f3"/><stop offset=".375" stop-color="#efefef"/><stop offset=".4167" stop-color="#ebebeb"/><stop offset=".4583" stop-color="#e8e8e8"/><stop offset=".5" stop-color="#e6e6e6"/><stop offset=".5417" stop-color="#e6e6e6"/><stop offset=".5833" stop-color="#e6e6e6"/><stop offset=".625" stop-color="#e8e8e8"/><stop offset=".6667" stop-color="#eaeaea"/><stop offset=".7083" stop-color="#ededed"/><stop offset=".75" stop-color="#efefef"/><stop offset=".7917" stop-color="#f2f2f2"/><stop offset=".8333" stop-color="#f4f4f4"/><stop offset=".875" stop-color="#f5f5f5"/><stop offset=".9167" stop-color="#f6f6f6"/><stop offset=".9583" stop-color="#f7f7f7"/><stop offset="1" stop-color="#f8f8f8"/></linearGradient>
<linearGradient id="gB56"><stop offset="0" stop-color="#ffffff"/><stop offset=".0417" stop-color="#ffffff"/><stop offset=".0833" stop-color="#fefefe"/><stop offset=".125" stop-color="#fdfdfd"/><stop offset=".1667" stop-color="#fcfcfc"/><stop offset=".2083" stop-color="#fafafa"/><stop offset=".25" stop-color="#f9f9f9"/><stop offset=".2917" stop-color="#f7f7f7"/><stop offset=".3333" stop-color="#f5f5f5"/><stop offset=".375" stop-color="#f2f2f2"/><stop offset=".4167" stop-color="#eeeeee"/><stop offset=".4583" stop-color="#ececec"/><stop offset=".5" stop-color="#eaeaea"/><stop offset=".5417" stop-color="#e9e9e9"/><stop offset=".5833" stop-color="#eaeaea"/><stop offset=".625" stop-color="#ebebeb"/><stop offset=".6667" stop-color="#eeeeee"/><stop offset=".7083" stop-color="#f0f0f0"/><stop offset=".75" stop-color="#f2f2f2"/><stop offset=".7917" stop-color="#f4f4f4"/><stop offset=".8333" stop-color="#f5f5f5"/><stop offset=".875" stop-color="#f7f7f7"/><stop offset=".9167" stop-color="#f7f7f7"/><stop offset=".9583" stop-color="#f8f8f8"/><stop offset="1" stop-color="#f9f9f9"/></linearGradient>
<linearGradient id="gB57"><stop offset="0" stop-color="#ffffff"/><stop offset=".0417" stop-color="#ffffff"/><stop offset=".0833" stop-color="#fefefe"/><stop offset=".125" stop-color="#fdfdfd"/><stop offset=".1667" stop-color="#fcfcfc"/><stop offset=".2083" stop-color="#fbfbfb"/><stop offset=".25" stop-color="#f9f9f9"/><stop offset=".2917" stop-color="#f8f8f8"/><stop offset=".3333" stop-color="#f6f6f6"/><stop offset=".375" stop-color="#f4f4f4"/><stop offset=".4167" stop-color="#f1f1f1"/><stop offset=".4583" stop-color="#efefef"/><stop offset=".5" stop-color="#ededed"/><stop offset=".5417" stop-color="#ededed"/><stop offset=".5833" stop-color="#ededed"/><stop offset=".625" stop-color="#efefef"/><stop offset=".6667" stop-color="#f0f0f0"/><stop offset=".7083" stop-color="#f2f2f2"/><stop offset=".75" stop-color="#f4f4f4"/><stop offset=".7917" stop-color="#f6f6f6"/><stop offset=".8333" stop-color="#f7f7f7"/><stop offset=".875" stop-color="#f7f7f7"/><stop offset=".9167" stop-color="#f8f8f8"/><stop offset=".9583" stop-color="#f9f9f9"/><stop offset="1" stop-color="#f9f9f9"/></linearGradient>
<linearGradient id="gB58"><stop offset="0" stop-color="#ffffff"/><stop offset=".0417" stop-color="#ffffff"/><stop offset=".0833" stop-color="#fefefe"/><stop offset=".125" stop-color="#fdfdfd"/><stop offset=".1667" stop-color="#fcfcfc"/><stop offset=".2083" stop-color="#fbfbfb"/><stop offset=".25" stop-color="#fafafa"/><stop offset=".2917" stop-color="#f9f9f9"/><stop offset=".3333" stop-color="#f7f7f7"/><stop offset=".375" stop-color="#f6f6f6"/><stop offset=".4167" stop-color="#f3f3f3"/><stop offset=".4583" stop-color="#f2f2f2"/><stop offset=".5" stop-color="#f0f0f0"/><stop offset=".5417" stop-color="#f0f0f0"/><stop offset=".5833" stop-color="#f0f0f0"/><stop offset=".625" stop-color="#f1f1f1"/><stop offset=".6667" stop-color="#f3f3f3"/><stop offset=".7083" stop-color="#f4f4f4"/><stop offset=".75" stop-color="#f6f6f6"/><stop offset=".7917" stop-color="#f7f7f7"/><stop offset=".8333" stop-color="#f8f8f8"/><stop offset=".875" stop-color="#f8f8f8"/><stop offset=".9167" stop-color="#f9f9f9"/><stop offset=".9583" stop-color="#f9f9f9"/><stop offset="1" stop-color="#fafafa"/></linearGradient>
<linearGradient id="gB59"><stop offset="0" stop-color="#ffffff"/><stop offset=".0417" stop-color="#ffffff"/><stop offset=".0833" stop-color="#fefefe"/><stop offset=".125" stop-color="#fefefe"/><stop offset=".1667" stop-color="#fdfdfd"/><stop offset=".2083" stop-color="#fcfcfc"/><stop offset=".25" stop-color="#fafafa"/><stop offset=".2917" stop-color="#f9f9f9"/><stop offset=".3333" stop-color="#f8f8f8"/><stop offset=".375" stop-color="#f7f7f7"/><stop offset=".4167" stop-color="#f5f5f5"/><stop offset=".4583" stop-color="#f4f4f4"/><stop offset=".5" stop-color="#f3f3f3"/><stop offset=".5417" stop-color="#f3f3f3"/><stop offset=".5833" stop-color="#f3f3f3"/><stop offset=".625" stop-color="#f4f4f4"/><stop offset=".6667" stop-color="#f5f5f5"/><stop offset=".7083" stop-color="#f6f6f6"/><stop offset=".75" stop-color="#f7f7f7"/><stop offset=".7917" stop-color="#f8f8f8"/><stop offset=".8333" stop-color="#f8f8f8"/><stop offset=".875" stop-color="#f9f9f9"/><stop offset=".9167" stop-color="#f9f9f9"/><stop offset=".9583" stop-color="#fafafa"/><stop offset="1" stop-color="#fbfbfb"/></linearGradient>
<linearGradient id="gB60"><stop offset="0" stop-color="#ffffff"/><stop offset=".0417" stop-color="#ffffff"/><stop offset=".0833" stop-color="#ffffff"/><stop offset=".125" stop-color="#fefefe"/><stop offset=".1667" stop-color="#fdfdfd"/><stop offset=".2083" stop-color="#fcfcfc"/><stop offset=".25" stop-color="#fbfbfb"/><stop offset=".2917" stop-color="#fafafa"/><stop offset=".3333" stop-color="#f9f9f9"/><stop offset=".375" stop-color="#f8f8f8"/><stop offset=".4167" stop-color="#f7f7f7"/><stop offset=".4583" stop-color="#f6f6f6"/><stop offset=".5" stop-color="#f5f5f5"/><stop offset=".5417" stop-color="#f5f5f5"/><stop offset=".5833" stop-color="#f5f5f5"/><stop offset=".625" stop-color="#f6f6f6"/><stop offset=".6667" stop-color="#f6f6f6"/><stop offset=".7083" stop-color="#f7f7f7"/><stop offset=".75" stop-color="#f8f8f8"/><stop offset=".7917" stop-color="#f8f8f8"/><stop offset=".8333" stop-color="#f9f9f9"/><stop offset=".875" stop-color="#fafafa"/><stop offset=".9167" stop-color="#fafafa"/><stop offset=".9583" stop-color="#fbfbfb"/><stop offset="1" stop-color="#fbfbfb"/></linearGradient>
<linearGradient id="gB61"><stop offset="0" stop-color="#ffffff"/><stop offset=".0417" stop-color="#ffffff"/><stop offset=".0833" stop-color="#ffffff"/><stop offset=".125" stop-color="#fefefe"/><stop offset=".1667" stop-color="#fdfdfd"/><stop offset=".2083" stop-color="#fcfcfc"/><stop offset=".25" stop-color="#fbfbfb"/><stop offset=".2917" stop-color="#fafafa"/><stop offset=".3333" stop-color="#f9f9f9"/><stop offset=".375" stop-color="#f8f8f8"/><stop offset=".4167" stop-color="#f8f8f8"/><stop offset=".4583" stop-color="#f7f7f7"/><stop offset=".5" stop-color="#f6f6f6"/><stop offset=".5417" stop-color="#f6f6f6"/><stop offset=".5833" stop-color="#f6f6f6"/><stop offset=".625" stop-color="#f7f7f7"/><stop offset=".6667" stop-color="#f7f7f7"/><stop offset=".7083" stop-color="#f8f8f8"/><stop offset=".75" stop-color="#f9f9f9"/><stop offset=".7917" stop-color="#f9f9f9"/><stop offset=".8333" stop-color="#fafafa"/><stop offset=".875" stop-color="#fafafa"/><stop offset=".9167" stop-color="#fbfbfb"/><stop offset=".9583" stop-color="#fbfbfb"/><stop offset="1" stop-color="#fcfcfc"/></linearGradient>
<linearGradient id="gB62"><stop offset="0" stop-color="#ffffff"/><stop offset=".0417" stop-color="#ffffff"/><stop offset=".0833" stop-color="#ffffff"/><stop offset=".125" stop-color="#fefefe"/><stop offset=".1667" stop-color="#fefefe"/><stop offset=".2083" stop-color="#fdfdfd"/><stop offset=".25" stop-color="#fcfcfc"/><stop offset=".2917" stop-color="#fbfbfb"/><stop offset=".3333" stop-color="#fafafa"/><stop offset=".375" stop-color="#f9f9f9"/><stop offset=".4167" stop-color="#f8f8f8"/><stop offset=".4583" stop-color="#f8f8f8"/><stop offset=".5" stop-color="#f7f7f7"/><stop offset=".5417" stop-color="#f7f7f7"/><stop offset=".5833" stop-color="#f7f7f7"/><stop offset=".625" stop-color="#f8f8f8"/><stop offset=".6667" stop-color="#f8f8f8"/><stop offset=".7083" stop-color="#f9f9f9"/><stop offset=".75" stop-color="#f9f9f9"/><stop offset=".7917" stop-color="#fafafa"/><stop offset=".8333" stop-color="#fafafa"/><stop offset=".875" stop-color="#fbfbfb"/><stop offset=".9167" stop-color="#fbfbfb"/><stop offset=".9583" stop-color="#fcfcfc"/><stop offset="1" stop-color="#fcfcfc"/></linearGradient>
<linearGradient id="gB63"><stop offset="0" stop-color="#ffffff"/><stop offset=".0417" stop-color="#ffffff"/><stop offset=".0833" stop-color="#ffffff"/><stop offset=".125" stop-color="#fefefe"/><stop offset=".1667" stop-color="#fefefe"/><stop offset=".2083" stop-color="#fdfdfd"/><stop offset=".25" stop-color="#fcfcfc"/><stop offset=".2917" stop-color="#fbfbfb"/><stop offset=".3333" stop-color="#fbfbfb"/><stop offset=".375" stop-color="#fafafa"/><stop offset=".4167" stop-color="#f9f9f9"/><stop offset=".4583" stop-color="#f9f9f9"/><stop offset=".5" stop-color="#f8f8f8"/><stop offset=".5417" stop-color="#f8f8f8"/><stop offset=".5833" stop-color="#f8f8f8"/><stop offset=".625" stop-color="#f9f9f9"/><stop offset=".6667" stop-color="#f9f9f9"/><stop offset=".7083" stop-color="#f9f9f9"/><stop offset=".75" stop-color="#fafafa"/><stop offset=".7917" stop-color="#fafafa"/><stop offset=".8333" stop-color="#fbfbfb"/><stop offset=".875" stop-color="#fbfbfb"/><stop offset=".9167" stop-color="#fcfcfc"/><stop offset=".9583" stop-color="#fcfcfc"/><stop offset="1" stop-color="#fdfdfd"/></linearGradient>
<clipPath id="clipD"><rect x="394" y="486.4" width="221.9" height="228.6"/></clipPath>
<linearGradient id="gD0"><stop offset="0" stop-color="#ffffff"/><stop offset=".0417" stop-color="#ffffff"/><stop offset=".0833" stop-color="#ffffff"/><stop offset=".125" stop-color="#ffffff"/><stop offset=".1667" stop-color="#fefefe"/><stop offset=".2083" stop-color="#fdfdfd"/><stop offset=".25" stop-color="#fcfcfc"/><stop offset=".2917" stop-color="#fbfbfb"/><stop offset=".3333" stop-color="#f9f9f9"/><stop offset=".375" stop-color="#f8f8f8"/><stop offset=".4167" stop-color="#f7f7f7"/><stop offset=".4583" stop-color="#f4f4f4"/><stop offset=".5" stop-color="#f2f2f2"/><stop offset=".5417" stop-color="#f0f0f0"/><stop offset=".5833" stop-color="#eeeeee"/><stop offset=".625" stop-color="#ededed"/><stop offset=".6667" stop-color="#ededed"/><stop offset=".7083" stop-color="#eeeeee"/><stop offset=".75" stop-color="#efefef"/><stop offset=".7917" stop-color="#f1f1f1"/><stop offset=".8333" stop-color="#f2f2f2"/><stop offset=".875" stop-color="#f4f4f4"/><stop offset=".9167" stop-color="#f6f6f6"/><stop offset=".9583" stop-color="#f7f7f7"/><stop offset="1" stop-color="#f7f7f7"/></linearGradient>
<linearGradient id="gD1"><stop offset="0" stop-color="#ffffff"/><stop offset=".0417" stop-color="#ffffff"/><stop offset=".0833" stop-color="#ffffff"/><stop offset=".125" stop-color="#fefefe"/><stop offset=".1667" stop-color="#fefefe"/><stop offset=".2083" stop-color="#fdfdfd"/><stop offset=".25" stop-color="#fcfcfc"/><stop offset=".2917" stop-color="#fafafa"/><stop offset=".3333" stop-color="#f9f9f9"/><stop offset=".375" stop-color="#f7f7f7"/><stop offset=".4167" stop-color="#f5f5f5"/><stop offset=".4583" stop-color="#f3f3f3"/><stop offset=".5" stop-color="#f0f0f0"/><stop offset=".5417" stop-color="#ededed"/><stop offset=".5833" stop-color="#ebebeb"/><stop offset=".625" stop-color="#eaeaea"/><stop offset=".6667" stop-color="#eaeaea"/><stop offset=".7083" stop-color="#ebebeb"/><stop offset=".75" stop-color="#ececec"/><stop offset=".7917" stop-color="#eeeeee"/><stop offset=".8333" stop-color="#f0f0f0"/><stop offset=".875" stop-color="#f2f2f2"/><stop offset=".9167" stop-color="#f4f4f4"/><stop offset=".9583" stop-color="#f5f5f5"/><stop offset="1" stop-color="#f6f6f6"/></linearGradient>
<linearGradient id="gD2"><stop offset="0" stop-color="#ffffff"/><stop offset=".0417" stop-color="#ffffff"/><stop offset=".0833" stop-color="#ffffff"/><stop offset=".125" stop-color="#fefefe"/><stop offset=".1667" stop-color="#fdfdfd"/><stop offset=".2083" stop-color="#fcfcfc"/><stop offset=".25" stop-color="#fbfbfb"/><stop offset=".2917" stop-color="#fafafa"/><stop offset=".3333" stop-color="#f8f8f8"/><stop offset=".375" stop-color="#f7f7f7"/><stop offset=".4167" stop-color="#f4f4f4"/><stop offset=".4583" stop-color="#f0f0f0"/><stop offset=".5" stop-color="#ededed"/><stop offset=".5417" stop-color="#eaeaea"/><stop offset=".5833" stop-color="#e8e8e8"/><stop offset=".625" stop-color="#e7e7e7"/><stop offset=".6667" stop-color="#e7e7e7"/><stop offset=".7083" stop-color="#e8e8e8"/><stop offset=".75" stop-color="#e9e9e9"/><stop offset=".7917" stop-color="#ebebeb"/><stop offset=".8333" stop-color="#ededed"/><stop offset=".875" stop-color="#efefef"/><stop offset=".9167" stop-color="#f1f1f1"/><stop offset=".9583" stop-color="#f3f3f3"/><stop offset="1" stop-color="#f5f5f5"/></linearGradient>
<linearGradient id="gD3"><stop offset="0" stop-color="#ffffff"/><stop offset=".0417" stop-color="#ffffff"/><stop offset=".0833" stop-color="#ffffff"/><stop offset=".125" stop-color="#fefefe"/><stop offset=".1667" stop-color="#fdfdfd"/><stop offset=".2083" stop-color="#fcfcfc"/><stop offset=".25" stop-color="#fbfbfb"/><stop offset=".2917" stop-color="#f9f9f9"/><stop offset=".3333" stop-color="#f8f8f8"/><stop offset=".375" stop-color="#f5f5f5"/><stop offset=".4167" stop-color="#f2f2f2"/><stop offset=".4583" stop-color="#eeeeee"/><stop offset=".5" stop-color="#eaeaea"/><stop offset=".5417" stop-color="#e7e7e7"/><stop offset=".5833" stop-color="#e5e5e5"/><stop offset=".625" stop-color="#e4e4e4"/><stop offset=".6667" stop-color="#e4e4e4"/><stop offset=".7083" stop-color="#e5e5e5"/><stop offset=".75" stop-color="#e6e6e6"/><stop offset=".7917" stop-color="#e8e8e8"/><stop offset=".8333" stop-color="#eaeaea"/><stop offset=".875" stop-color="#ececec"/><stop offset=".9167" stop-color="#eeeeee"/><stop offset=".9583" stop-color="#f0f0f0"/><stop offset="1" stop-color="#f2f2f2"/></linearGradient>
<linearGradient id="gD4"><stop offset="0" stop-color="#ffffff"/><stop offset=".0417" stop-color="#ffffff"/><stop offset=".0833" stop-color="#ffffff"/><stop offset=".125" stop-color="#fefefe"/><stop offset=".1667" stop-color="#fdfdfd"/><stop offset=".2083" stop-color="#fcfcfc"/><stop offset=".25" stop-color="#fafafa"/><stop offset=".2917" stop-color="#f9f9f9"/><stop offset=".3333" stop-color="#f7f7f7"/><stop offset=".375" stop-color="#f4f4f4"/><stop offset=".4167" stop-color="#f0f0f0"/><stop offset=".4583" stop-color="#ebebeb"/><stop offset=".5" stop-color="#e7e7e7"/><stop offset=".5417" stop-color="#e3e3e3"/><stop offset=".5833" stop-color="#e1e1e1"/><stop offset=".625" stop-color="#e0e0e0"/><stop offset=".6667" stop-color="#e0e0e0"/><stop offset=".7083" stop-color="#e1e1e1"/><stop offset=".75" stop-color="#e3e3e3"/><stop offset=".7917" stop-color="#e4e4e4"/><stop offset=".8333" stop-color="#e6e6e6"/><stop offset=".875" stop-color="#e9e9e9"/><stop offset=".9167" stop-color="#ebebeb"/><stop offset=".9583" stop-color="#ededed"/><stop offset="1" stop-color="#efefef"/></linearGradient>
<linearGradient id="gD5"><stop offset="0" stop-color="#ffffff"/><stop offset=".0417" stop-color="#ffffff"/><stop offset=".0833" stop-color="#fefefe"/><stop offset=".125" stop-color="#fefefe"/><stop offset=".1667" stop-color="#fdfdfd"/><stop offset=".2083" stop-color="#fbfbfb"/><stop offset=".25" stop-color="#fafafa"/><stop offset=".2917" stop-color="#f8f8f8"/><stop offset=".3333" stop-color="#f6f6f6"/><stop offset=".375" stop-color="#f2f2f2"/><stop offset=".4167" stop-color="#ededed"/><stop offset=".4583" stop-color="#e8e8e8"/><stop offset=".5" stop-color="#e3e3e3"/><stop offset=".5417" stop-color="#e0e0e0"/><stop offset=".5833" stop-color="#dddddd"/><stop offset=".625" stop-color="#dcdcdc"/><stop offset=".6667" stop-color="#dcdcdc"/><stop offset=".7083" stop-color="#dedede"/><stop offset=".75" stop-color="#dfdfdf"/><stop offset=".7917" stop-color="#e1e1e1"/><stop offset=".8333" stop-color="#e3e3e3"/><stop offset=".875" stop-color="#e5e5e5"/><stop offset=".9167" stop-color="#e7e7e7"/><stop offset=".9583" stop-color="#eaeaea"/><stop offset="1" stop-color="#ececec"/></linearGradient>
<linearGradient id="gD6"><stop offset="0" stop-color="#ffffff"/><stop offset=".0417" stop-color="#ffffff"/><stop offset=".0833" stop-color="#fefefe"/><stop offset=".125" stop-color="#fefefe"/><stop offset=".1667" stop-color="#fdfdfd"/><stop offset=".2083" stop-color="#fbfbfb"/><stop offset=".25" stop-color="#fafafa"/><stop offset=".2917" stop-color="#f8f8f8"/><stop offset=".3333" stop-color="#f5f5f5"/><stop offset=".375" stop-color="#f0f0f0"/><stop offset=".4167" stop-color="#eaeaea"/><stop offset=".4583" stop-color="#e5e5e5"/><stop offset=".5" stop-color="#e0e0e0"/><stop offset=".5417" stop-color="#dcdcdc"/><stop offset=".5833" stop-color="#d8d8d8"/><stop offset=".625" stop-color="#d7d7d7"/><stop offset=".6667" stop-color="#d8d8d8"/><stop offset=".7083" stop-color="#d9d9d9"/><stop offset=".75" stop-color="#dbdbdb"/><stop offset=".7917" stop-color="#dddddd"/><stop offset=".8333" stop-color="#dfdfdf"/><stop offset=".875" stop-color="#e1e1e1"/><stop offset=".9167" stop-color="#e4e4e4"/><stop offset=".9583" stop-color="#e6e6e6"/><stop offset="1" stop-color="#e9e9e9"/></linearGradient>
<linearGradient id="gD7"><stop offset="0" stop-color="#ffffff"/><stop offset=".0417" stop-color="#ffffff"/><stop offset=".0833" stop-color="#fefefe"/><stop offset=".125" stop-color="#fdfdfd"/><stop offset=".1667" stop-color="#fcfcfc"/><stop offset=".2083" stop-color="#fbfbfb"/><stop offset=".25" stop-color="#f9f9f9"/><stop offset=".2917" stop-color="#f7f7f7"/><stop offset=".3333" stop-color="#f3f3f3"/><stop offset=".375" stop-color="#ededed"/><stop offset=".4167" stop-color="#e7e7e7"/><stop offset=".4583" stop-color="#e1e1e1"/><stop offset=".5" stop-color="#dcdcdc"/><stop offset=".5417" stop-color="#d6d6d6"/><stop offset=".5833" stop-color="#d2d2d2"/><stop offset=".625" stop-color="#d1d1d1"/><stop offset=".6667" stop-color="#d2d2d2"/><stop offset=".7083" stop-color="#d3d3d3"/><stop offset=".75" stop-color="#d6d6d6"/><stop offset=".7917" stop-color="#d8d8d8"/><stop offset=".8333" stop-color="#dadada"/><stop offset=".875" stop-color="#dddddd"/><stop offset=".9167" stop-color="#e0e0e0"/><stop offset=".9583" stop-color="#e2e2e2"/><stop offset="1" stop-color="#e5e5e5"/></linearGradient>
<linearGradient id="gD8"><stop offset="0" stop-color="#ffffff"/><stop offset=".0417" stop-color="#ffffff"/><stop offset=".0833" stop-color="#fefefe"/><stop offset=".125" stop-color="#fdfdfd"/><stop offset=".1667" stop-color="#fcfcfc"/><stop offset=".2083" stop-color="#fafafa"/><stop offset=".25" stop-color="#f9f9f9"/><stop offset=".2917" stop-color="#f6f6f6"/><stop offset=".3333" stop-color="#f1f1f1"/><stop offset=".375" stop-color="#eaeaea"/><stop offset=".4167" stop-color="#e4e4e4"/><stop offset=".4583" stop-color="#dddddd"/><stop offset=".5" stop-color="#d6d6d6"/><stop offset=".5417" stop-color="#cfcfcf"/><stop offset=".5833" stop-color="#cbcbcb"/><stop offset=".625" stop-color="#cacaca"/><stop offset=".6667" stop-color="#cbcbcb"/><stop offset=".7083" stop-color="#cdcdcd"/><stop offset=".75" stop-color="#d0d0d0"/><stop offset=".7917" stop-color="#d2d2d2"/><stop offset=".8333" stop-color="#d5d5d5"/><stop offset=".875" stop-color="#d8d8d8"/><stop offset=".9167" stop-color="#dbdbdb"/><stop offset=".9583" stop-color="#dedede"/><stop offset="1" stop-color="#e1e1e1"/></linearGradient>
<linearGradient id="gD9"><stop offset="0" stop-color="#ffffff"/><stop offset=".0417" stop-color="#ffffff"/><stop offset=".0833" stop-color="#fefefe"/><stop offset=".125" stop-color="#fdfdfd"/><stop offset=".1667" stop-color="#fcfcfc"/><stop offset=".2083" stop-color="#fafafa"/><stop offset=".25" stop-color="#f8f8f8"/><stop offset=".2917" stop-color="#f5f5f5"/><stop offset=".3333" stop-color="#efefef"/><stop offset=".375" stop-color="#e7e7e7"/><stop offset=".4167" stop-color="#e0e0e0"/><stop offset=".4583" stop-color="#d8d8d8"/><stop offset=".5" stop-color="#cfcfcf"/><stop offset=".5417" stop-color="#c8c8c8"/><stop offset=".5833" stop-color="#c4c4c4"/><stop offset=".625" stop-color="#c3c3c3"/><stop offset=".6667" stop-color="#c4c4c4"/><stop offset=".7083" stop-color="#c6c6c6"/><stop offset=".75" stop-color="#c9c9c9"/><stop offset=".7917" stop-color="#cccccc"/><stop offset=".8333" stop-color="#cfcfcf"/><stop offset=".875" stop-color="#d3d3d3"/><stop offset=".9167" stop-color="#d7d7d7"/><stop offset=".9583" stop-color="#dadada"/><stop offset="1" stop-color="#dedede"/></linearGradient>
<linearGradient id="gD10"><stop offset="0" stop-color="#ffffff"/><stop offset=".0417" stop-color="#ffffff"/><stop offset=".0833" stop-color="#fefefe"/><stop offset=".125" stop-color="#fdfdfd"/><stop offset=".1667" stop-color="#fbfbfb"/><stop offset=".2083" stop-color="#fafafa"/><stop offset=".25" stop-color="#f8f8f8"/><stop offset=".2917" stop-color="#f4f4f4"/><stop offset=".3333" stop-color="#ececec"/><stop offset=".375" stop-color="#e4e4e4"/><stop offset=".4167" stop-color="#dbdbdb"/><stop offset=".4583" stop-color="#d0d0d0"/><stop offset=".5" stop-color="#c6c6c6"/><stop offset=".5417" stop-color="#bfbfbf"/><stop offset=".5833" stop-color="#bcbcbc"/><stop offset=".625" stop-color="#bbbbbb"/><stop offset=".6667" stop-color="#bcbcbc"/><stop offset=".7083" stop-color="#bfbfbf"/><stop offset=".75" stop-color="#c2c2c2"/><stop offset=".7917" stop-color="#c5c5c5"/><stop offset=".8333" stop-color="#c9c9c9"/><stop offset=".875" stop-color="#cdcdcd"/><stop offset=".9167" stop-color="#d1d1d1"/><stop offset=".9583" stop-color="#d6d6d6"/><stop offset="1" stop-color="#dadada"/></linearGradient>
<linearGradient id="gD11"><stop offset="0" stop-color="#ffffff"/><stop offset=".0417" stop-color="#ffffff"/><stop offset=".0833" stop-color="#fefefe"/><stop offset=".125" stop-color="#fdfdfd"/><stop offset=".1667" stop-color="#fbfbfb"/><stop offset=".2083" stop-color="#f9f9f9"/><stop offset=".25" stop-color="#f7f7f7"/><stop offset=".2917" stop-color="#f2f2f2"/><stop offset=".3333" stop-color="#eaeaea"/><stop offset=".375" stop-color="#e0e0e0"/><stop offset=".4167" stop-color="#d5d5d5"/><stop offset=".4583" stop-color="#c8c8c8"/><stop offset=".5" stop-color="#bdbdbd"/><stop offset=".5417" stop-color="#b6b6b6"/><stop offset=".5833" stop-color="#b3b3b3"/><stop offset=".625" stop-color="#b2b2b2"/><stop offset=".6667" stop-color="#b4b4b4"/><stop offset=".7083" stop-color="#b7b7b7"/><stop offset=".75" stop-color="#bababa"/><stop offset=".7917" stop-color="#bebebe"/><stop offset=".8333" stop-color="#c2c2c2"/><stop offset=".875" stop-color="#c7c7c7"/><stop offset=".9167" stop-color="#cccccc"/><stop offset=".9583" stop-color="#d0d0d0"/><stop offset="1" stop-color="#d5d5d5"/></linearGradient>
<linearGradient id="gD12"><stop offset="0" stop-color="#ffffff"/><stop offset=".0417" stop-color="#fefefe"/><stop offset=".0833" stop-color="#fefefe"/><stop offset=".125" stop-color="#fcfcfc"/><stop offset=".1667" stop-color="#fbfbfb"/><stop offset=".2083" stop-color="#f9f9f9"/><stop offset=".25" stop-color="#f7f7f7"/><stop offset=".2917" stop-color="#f0f0f0"/><stop offset=".3333" stop-color="#e6e6e6"/><stop offset=".375" stop-color="#dcdcdc"/><stop offset=".4167" stop-color="#cdcdcd"/><stop offset=".4583" stop-color="#bebebe"/><stop offset=".5" stop-color="#b4b4b4"/><stop offset=".5417" stop-color="#adadad"/><stop offset=".5833" stop-color="#aaaaaa"/><stop offset=".625" stop-color="#aaaaaa"/><stop offset=".6667" stop-color="#acacac"/><stop offset=".7083" stop-color="#afafaf"/><stop offset=".75" stop-color="#b2b2b2"/><stop offset=".7917" stop-color="#b7b7b7"/><stop offset=".8333" stop-color="#bbbbbb"/><stop offset=".875" stop-color="#c0c0c0"/><stop offset=".9167" stop-color="#c6c6c6"/><stop offset=".9583" stop-color="#cbcbcb"/><stop offset="1" stop-color="#d0d0d0"/></linearGradient>
<linearGradient id="gD13"><stop offset="0" stop-color="#ffffff"/><stop offset=".0417" stop-color="#fefefe"/><stop offset=".0833" stop-color="#fefefe"/><stop offset=".125" stop-color="#fcfcfc"/><stop offset=".1667" stop-color="#fbfbfb"/><stop offset=".2083" stop-color="#f9f9f9"/><stop offset=".25" stop-color="#f6f6f6"/><stop offset=".2917" stop-color="#eeeeee"/><stop offset=".3333" stop-color="#e3e3e3"/><stop offset=".375" stop-color="#d6d6d6"/><stop offset=".4167" stop-color="#c4c4c4"/><stop offset=".4583" stop-color="#b4b4b4"/><stop offset=".5" stop-color="#aaaaaa"/><stop offset=".5417" stop-color="#a4a4a4"/><stop offset=".5833" stop-color="#a1a1a1"/><stop offset=".625" stop-color="#a1a1a1"/><stop offset=".6667" stop-color="#a3a3a3"/><stop offset=".7083" stop-color="#a6a6a6"/><stop offset=".75" stop-color="#aaaaaa"/><stop offset=".7917" stop-color="#afafaf"/><stop offset=".8333" stop-color="#b4b4b4"/><stop offset=".875" stop-color="#b9b9b9"/><stop offset=".9167" stop-color="#bfbfbf"/><stop offset=".9583" stop-color="#c5c5c5"/><stop offset="1" stop-color="#cbcbcb"/></linearGradient>
<linearGradient id="gD14"><stop offset="0" stop-color="#ffffff"/><stop offset=".0417" stop-color="#fefefe"/><stop offset=".0833" stop-color="#fdfdfd"/><stop offset=".125" stop-color="#fcfcfc"/><stop offset=".1667" stop-color="#fafafa"/><stop offset=".2083" stop-color="#f8f8f8"/><stop offset=".25" stop-color="#f5f5f5"/><stop offset=".2917" stop-color="#ececec"/><stop offset=".3333" stop-color="#e0e0e0"/><stop offset=".375" stop-color="#cecece"/><stop offset=".4167" stop-color="#bababa"/><stop offset=".4583" stop-color="#aaaaaa"/><stop offset=".5" stop-color="#a1a1a1"/><stop offset=".5417" stop-color="#9b9b9b"/><stop offset=".5833" stop-color="#999999"/><stop offset=".625" stop-color="#989898"/><stop offset=".6667" stop-color="#9a9a9a"/><stop offset=".7083" stop-color="#9e9e9e"/><stop offset=".75" stop-color="#a2a2a2"/><stop offset=".7917" stop-color="#a7a7a7"/><stop offset=".8333" stop-color="#adadad"/><stop offset=".875" stop-color="#b3b3b3"/><stop offset=".9167" stop-color="#b9b9b9"/><stop offset=".9583" stop-color="#c0c0c0"/><stop offset="1" stop-color="#c6c6c6"/></linearGradient>
<linearGradient id="gD15"><stop offset="0" stop-color="#ffffff"/><stop offset=".0417" stop-color="#fefefe"/><stop offset=".0833" stop-color="#fdfdfd"/><stop offset=".125" stop-color="#fcfcfc"/><stop offset=".1667" stop-color="#fafafa"/><stop offset=".2083" stop-color="#f8f8f8"/><stop offset=".25" stop-color="#f4f4f4"/><stop offset=".2917" stop-color="#e9e9e9"/><stop offset=".3333" stop-color="#dcdcdc"/><stop offset=".375" stop-color="#c6c6c6"/><stop offset=".4167" stop-color="#b0b0b0"/><stop offset=".4583" stop-color="#a1a1a1"/><stop offset=".5" stop-color="#989898"/><stop offset=".5417" stop-color="#929292"/><stop offset=".5833" stop-color="#8f8f8f"/><stop offset=".625" stop-color="#8f8f8f"/><stop offset=".6667" stop-color="#919191"/><stop offset=".7083" stop-color="#949494"/><stop offset=".75" stop-color="#999999"/><stop offset=".7917" stop-color="#9f9f9f"/><stop offset=".8333" stop-color="#a5a5a5"/><stop offset=".875" stop-color="#acacac"/><stop offset=".9167" stop-color="#b3b3b3"/><stop offset=".9583" stop-color="#bababa"/><stop offset="1" stop-color="#c1c1c1"/></linearGradient>
<linearGradient id="gD16"><stop offset="0" stop-color="#ffffff"/><stop offset=".0417" stop-color="#fefefe"/><stop offset=".0833" stop-color="#fdfdfd"/><stop offset=".125" stop-color="#fcfcfc"/><stop offset=".1667" stop-color="#fafafa"/><stop offset=".2083" stop-color="#f8f8f8"/><stop offset=".25" stop-color="#f2f2f2"/><stop offset=".2917" stop-color="#e7e7e7"/><stop offset=".3333" stop-color="#d7d7d7"/><stop offset=".375" stop-color="#bdbdbd"/><stop offset=".4167" stop-color="#a6a6a6"/><stop offset=".4583" stop-color="#989898"/><stop offset=".5" stop-color="#8e8e8e"/><stop offset=".5417" stop-color="#888888"/><stop offset=".5833" stop-color="#858585"/><stop offset=".625" stop-color="#848484"/><stop offset=".6667" stop-color="#868686"/><stop offset=".7083" stop-color="#898989"/><stop offset=".75" stop-color="#8f8f8f"/><stop offset=".7917" stop-color="#979797"/><stop offset=".8333" stop-color="#9e9e9e"/><stop offset=".875" stop-color="#a5a5a5"/><stop offset=".9167" stop-color="#adadad"/><stop offset=".9583" stop-color="#b4b4b4"/><stop offset="1" stop-color="#bcbcbc"/></linearGradient>
<linearGradient id="gD17"><stop offset="0" stop-color="#ffffff"/><stop offset=".0417" stop-color="#fefefe"/><stop offset=".0833" stop-color="#fdfdfd"/><stop offset=".125" stop-color="#fcfcfc"/><stop offset=".1667" stop-color="#fafafa"/><stop offset=".2083" stop-color="#f7f7f7"/><stop offset=".25" stop-color="#f1f1f1"/><stop offset=".2917" stop-color="#e5e5e5"/><stop offset=".3333" stop-color="#d2d2d2"/><stop offset=".375" stop-color="#b5b5b5"/><stop offset=".4167" stop-color="#9e9e9e"/><stop offset=".4583" stop-color="#8f8f8f"/><stop offset=".5" stop-color="#858585"/><stop offset=".5417" stop-color="#7f7f7f"/><stop offset=".5833" stop-color="#7b7b7b"/><stop offset=".625" stop-color="#797979"/><stop offset=".6667" stop-color="#7a7a7a"/><stop offset=".7083" stop-color="#7e7e7e"/><stop offset=".75" stop-color="#858585"/><stop offset=".7917" stop-color="#8e8e8e"/><stop offset=".8333" stop-color="#979797"/><stop offset=".875" stop-color="#9f9f9f"/><stop offset=".9167" stop-color="#a7a7a7"/><stop offset=".9583" stop-color="#afafaf"/><stop offset="1" stop-color="#b7b7b7"/></linearGradient>
<linearGradient id="gD18"><stop offset="0" stop-color="#ffffff"/><stop offset=".0417" stop-color="#fefefe"/><stop offset=".0833" stop-color="#fdfdfd"/><stop offset=".125" stop-color="#fbfbfb"/><stop offset=".1667" stop-color="#fafafa"/><stop offset=".2083" stop-color="#f7f7f7"/><stop offset=".25" stop-color="#f0f0f0"/><stop offset=".2917" stop-color="#e2e2e2"/><stop offset=".3333" stop-color="#cccccc"/><stop offset=".375" stop-color="#adadad"/><stop offset=".4167" stop-color="#969696"/><stop offset=".4583" stop-color="#878787"/><stop offset=".5" stop-color="#7c7c7c"/><stop offset=".5417" stop-color="#747474"/><stop offset=".5833" stop-color="#707070"/><stop offset=".625" stop-color="#6e6e6e"/><stop offset=".6667" stop-color="#6e6e6e"/><stop offset=".7083" stop-color="#727272"/><stop offset=".75" stop-color="#7b7b7b"/><stop offset=".7917" stop-color="#858585"/><stop offset=".8333" stop-color="#8f8f8f"/><stop offset=".875" stop-color="#999999"/><stop offset=".9167" stop-color="#a1a1a1"/><stop offset=".9583" stop-color="#aaaaaa"/><stop offset="1" stop-color="#b2b2b2"/></linearGradient>
<linearGradient id="gD19"><stop offset="0" stop-color="#ffffff"/><stop offset=".0417" stop-color="#fefefe"/><stop offset=".0833" stop-color="#fdfdfd"/><stop offset=".125" stop-color="#fbfbfb"/><stop offset=".1667" stop-color="#f9f9f9"/><stop offset=".2083" stop-color="#f7f7f7"/><stop offset=".25" stop-color="#eeeeee"/><stop offset=".2917" stop-color="#e0e0e0"/><stop offset=".3333" stop-color="#c7c7c7"/><stop offset=".375" stop-color="#a6a6a6"/><stop offset=".4167" stop-color="#909090"/><stop offset=".4583" stop-color="#7f7f7f"/><stop offset=".5" stop-color="#737373"/><stop offset=".5417" stop-color="#6a6a6a"/><stop offset=".5833" stop-color="#656565"/><stop offset=".625" stop-color="#626262"/><stop offset=".6667" stop-color="#626262"/><stop offset=".7083" stop-color="#676767"/><stop offset=".75" stop-color="#727272"/><stop offset=".7917" stop-color="#7d7d7d"/><stop offset=".8333" stop-color="#898989"/><stop offset=".875" stop-color="#939393"/><stop offset=".9167" stop-color="#9c9c9c"/><stop offset=".9583" stop-color="#a5a5a5"/><stop offset="1" stop-color="#aeaeae"/></linearGradient>
<linearGradient id="gD20"><stop offset="0" stop-color="#ffffff"/><stop offset=".0417" stop-color="#fefefe"/><stop offset=".0833" stop-color="#fdfdfd"/><stop offset=".125" stop-color="#fbfbfb"/><stop offset=".1667" stop-color="#f9f9f9"/><stop offset=".2083" stop-color="#f6f6f6"/><stop offset=".25" stop-color="#ededed"/><stop offset=".2917" stop-color="#dedede"/><stop offset=".3333" stop-color="#c2c2c2"/><stop offset=".375" stop-color="#a1a1a1"/><stop offset=".4167" stop-color="#898989"/><stop offset=".4583" stop-color="#787878"/><stop offset=".5" stop-color="#696969"/><stop offset=".5417" stop-color="#5f5f5f"/><stop offset=".5833" stop-color="#595959"/><stop offset=".625" stop-color="#555555"/><stop offset=".6667" stop-color="#565656"/><stop offset=".7083" stop-color="#5d5d5d"/><stop offset=".75" stop-color="#696969"/><stop offset=".7917" stop-color="#767676"/><stop offset=".8333" stop-color="#838383"/><stop offset=".875" stop-color="#8e8e8e"/><stop offset=".9167" stop-color="#989898"/><stop offset=".9583" stop-color="#a1a1a1"/><stop offset="1" stop-color="#aaaaaa"/></linearGradient>
<linearGradient id="gD21"><stop offset="0" stop-color="#ffffff"/><stop offset=".0417" stop-color="#fefefe"/><stop offset=".0833" stop-color="#fdfdfd"/><stop offset=".125" stop-color="#fbfbfb"/><stop offset=".1667" stop-color="#f9f9f9"/><stop offset=".2083" stop-color="#f6f6f6"/><stop offset=".25" stop-color="#ececec"/><stop offset=".2917" stop-color="#dcdcdc"/><stop offset=".3333" stop-color="#bdbdbd"/><stop offset=".375" stop-color="#9c9c9c"/><stop offset=".4167" stop-color="#848484"/><stop offset=".4583" stop-color="#707070"/><stop offset=".5" stop-color="#606060"/><stop offset=".5417" stop-color="#525252"/><stop offset=".5833" stop-color="#4a4a4a"/><stop offset=".625" stop-color="#464646"/><stop offset=".6667" stop-color="#494949"/><stop offset=".7083" stop-color="#535353"/><stop offset=".75" stop-color="#626262"/><stop offset=".7917" stop-color="#707070"/><stop offset=".8333" stop-color="#7d7d7d"/><stop offset=".875" stop-color="#898989"/><stop offset=".9167" stop-color="#939393"/><stop offset=".9583" stop-color="#9d9d9d"/><stop offset="1" stop-color="#a6a6a6"/></linearGradient>
<linearGradient id="gD22"><stop offset="0" stop-color="#ffffff"/><stop offset=".0417" stop-color="#fefefe"/><stop offset=".0833" stop-color="#fdfdfd"/><stop offset=".125" stop-color="#fbfbfb"/><stop offset=".1667" stop-color="#f9f9f9"/><stop offset=".2083" stop-color="#f5f5f5"/><stop offset=".25" stop-color="#ebebeb"/><stop offset=".2917" stop-color="#dadada"/><stop offset=".3333" stop-color="#b9b9b9"/><stop offset=".375" stop-color="#989898"/><stop offset=".4167" stop-color="#7f7f7f"/><stop offset=".4583" stop-color="#696969"/><stop offset=".5" stop-color="#555555"/><stop offset=".5417" stop-color="#434343"/><stop offset=".5833" stop-color="#3a3a3a"/><stop offset=".625" stop-color="#373737"/><stop offset=".6667" stop-color="#3c3c3c"/><stop offset=".7083" stop-color="#494949"/><stop offset=".75" stop-color="#5b5b5b"/><stop offset=".7917" stop-color="#6b6b6b"/><stop offset=".8333" stop-color="#787878"/><stop offset=".875" stop-color="#848484"/><stop offset=".9167" stop-color="#8f8f8f"/><stop offset=".9583" stop-color="#999999"/><stop offset="1" stop-color="#a3a3a3"/></linearGradient>
<linearGradient id="gD23"><stop offset="0" stop-color="#ffffff"/><stop offset=".0417" stop-color="#fefefe"/><stop offset=".0833" stop-color="#fdfdfd"/><stop offset=".125" stop-color="#fbfbfb"/><stop offset=".1667" stop-color="#f9f9f9"/><stop offset=".2083" stop-color="#f5f5f5"/><stop offset=".25" stop-color="#eaeaea"/><stop offset=".2917" stop-color="#d8d8d8"/><stop offset=".3333" stop-color="#b6b6b6"/><stop offset=".375" stop-color="#949494"/><stop offset=".4167" stop-color="#7a7a7a"/><stop offset=".4583" stop-color="#636363"/><stop offset=".5" stop-color="#494949"/><stop offset=".5417" stop-color="#343434"/><stop offset=".5833" stop-color="#2c2c2c"/><stop offset=".625" stop-color="#2b2b2b"/><stop offset=".6667" stop-color="#313131"/><stop offset=".7083" stop-color="#414141"/><stop offset=".75" stop-color="#555555"/><stop offset=".7917" stop-color="#666666"/><stop offset=".8333" stop-color="#747474"/><stop offset=".875" stop-color="#808080"/><stop offset=".9167" stop-color="#8c8c8c"/><stop offset=".9583" stop-color="#969696"/><stop offset="1" stop-color="#a0a0a0"/></linearGradient>
<linearGradient id="gD24"><stop offset="0" stop-color="#ffffff"/><stop offset=".0417" stop-color="#fefefe"/><stop offset=".0833" stop-color="#fdfdfd"/><stop offset=".125" stop-color="#fbfbfb"/><stop offset=".1667" stop-color="#f9f9f9"/><stop offset=".2083" stop-color="#f5f5f5"/><stop offset=".25" stop-color="#e9e9e9"/><stop offset=".2917" stop-color="#d6d6d6"/><stop offset=".3333" stop-color="#b3b3b3"/><stop offset=".375" stop-color="#929292"/><stop offset=".4167" stop-color="#767676"/><stop offset=".4583" stop-color="#5c5c5c"/><stop offset=".5" stop-color="#3e3e3e"/><stop offset=".5417" stop-color="#292929"/><stop offset=".5833" stop-color="#222222"/><stop offset=".625" stop-color="#222222"/><stop offset=".6667" stop-color="#292929"/><stop offset=".7083" stop-color="#393939"/><stop offset=".75" stop-color="#4f4f4f"/><stop offset=".7917" stop-color="#626262"/><stop offset=".8333" stop-color="#707070"/><stop offset=".875" stop-color="#7d7d7d"/><stop offset=".9167" stop-color="#898989"/><stop offset=".9583" stop-color="#949494"/><stop offset="1" stop-color="#9e9e9e"/></linearGradient>
<linearGradient id="gD25"><stop offset="0" stop-color="#ffffff"/><stop offset=".0417" stop-color="#fefefe"/><stop offset=".0833" stop-color="#fcfcfc"/><stop offset=".125" stop-color="#fbfbfb"/><stop offset=".1667" stop-color="#f9f9f9"/><stop offset=".2083" stop-color="#f4f4f4"/><stop offset=".25" stop-color="#e8e8e8"/><stop offset=".2917" stop-color="#d5d5d5"/><stop offset=".3333" stop-color="#b1b1b1"/><stop offset=".375" stop-color="#909090"/><stop offset=".4167" stop-color="#727272"/><stop offset=".4583" stop-color="#555555"/><stop offset=".5" stop-color="#333333"/><stop offset=".5417" stop-color="#212121"/><stop offset=".5833" stop-color="#1e1e1e"/><stop offset=".625" stop-color="#1e1e1e"/><stop offset=".6667" stop-color="#232323"/><stop offset=".7083" stop-color="#323232"/><stop offset=".75" stop-color="#494949"/><stop offset=".7917" stop-color="#5e5e5e"/><stop offset=".8333" stop-color="#6d6d6d"/><stop offset=".875" stop-color="#7a7a7a"/><stop offset=".9167" stop-color="#878787"/><stop offset=".9583" stop-color="#929292"/><stop offset="1" stop-color="#9c9c9c"/></linearGradient>
<linearGradient id="gD26"><stop offset="0" stop-color="#ffffff"/><stop offset=".0417" stop-color="#fefefe"/><stop offset=".0833" stop-color="#fcfcfc"/><stop offset=".125" stop-color="#fbfbfb"/><stop offset=".1667" stop-color="#f8f8f8"/><stop offset=".2083" stop-color="#f4f4f4"/><stop offset=".25" stop-color="#e8e8e8"/><stop offset=".2917" stop-color="#d4d4d4"/><stop offset=".3333" stop-color="#b0b0b0"/><stop offset=".375" stop-color="#8e8e8e"/><stop offset=".4167" stop-color="#6f6f6f"/><stop offset=".4583" stop-color="#4e4e4e"/><stop offset=".5" stop-color="#2b2b2b"/><stop offset=".5417" stop-color="#1e1e1e"/><stop offset=".5833" stop-color="#1a1a1a"/><stop offset=".625" stop-color="#1b1b1b"/><stop offset=".6667" stop-color="#202020"/><stop offset=".7083" stop-color="#2d2d2d"/><stop offset=".75" stop-color="#444444"/><stop offset=".7917" stop-color="#5a5a5a"/><stop offset=".8333" stop-color="#6a6a6a"/><stop offset=".875" stop-color="#787878"/><stop offset=".9167" stop-color="#858585"/><stop offset=".9583" stop-color="#909090"/><stop offset="1" stop-color="#9b9b9b"/></linearGradient>
<linearGradient id="gD27"><stop offset="0" stop-color="#ffffff"/><stop offset=".0417" stop-color="#fefefe"/><stop offset=".0833" stop-color="#fcfcfc"/><stop offset=".125" stop-color="#fbfbfb"/><stop offset=".1667" stop-color="#f8f8f8"/><stop offset=".2083" stop-color="#f4f4f4"/><stop offset=".25" stop-color="#e7e7e7"/><stop offset=".2917" stop-color="#d3d3d3"/><stop offset=".3333" stop-color="#afafaf"/><stop offset=".375" stop-color="#8d8d8d"/><stop offset=".4167" stop-color="#6c6c6c"/><stop offset=".4583" stop-color="#494949"/><stop offset=".5" stop-color="#262626"/><stop offset=".5417" stop-color="#1c1c1c"/><stop offset=".5833" stop-color="#181818"/><stop offset=".625" stop-color="#191919"/><stop offset=".6667" stop-color="#1e1e1e"/><stop offset=".7083" stop-color="#2a2a2a"/><stop offset=".75" stop-color="#404040"/><stop offset=".7917" stop-color="#585858"/><stop offset=".8333" stop-color="#686868"/><stop offset=".875" stop-color="#777777"/><stop offset=".9167" stop-color="#848484"/><stop offset=".9583" stop-color="#8f8f8f"/><stop offset="1" stop-color="#9a9a9a"/></linearGradient>
<linearGradient id="gD28"><stop offset="0" stop-color="#ffffff"/><stop offset=".0417" stop-color="#fefefe"/><stop offset=".0833" stop-color="#fcfcfc"/><stop offset=".125" stop-color="#fbfbfb"/><stop offset=".1667" stop-color="#f8f8f8"/><stop offset=".2083" stop-color="#f4f4f4"/><stop offset=".25" stop-color="#e7e7e7"/><stop offset=".2917" stop-color="#d3d3d3"/><stop offset=".3333" stop-color="#afafaf"/><stop offset=".375" stop-color="#8c8c8c"/><stop offset=".4167" stop-color="#6b6b6b"/><stop offset=".4583" stop-color="#454545"/><stop offset=".5" stop-color="#232323"/><stop offset=".5417" stop-color="#1a1a1a"/><stop offset=".5833" stop-color="#161616"/><stop offset=".625" stop-color="#181818"/><stop offset=".6667" stop-color="#1d1d1d"/><stop offset=".7083" stop-color="#272727"/><stop offset=".75" stop-color="#3d3d3d"/><stop offset=".7917" stop-color="#565656"/><stop offset=".8333" stop-color="#676767"/><stop offset=".875" stop-color="#767676"/><stop offset=".9167" stop-color="#838383"/><stop offset=".9583" stop-color="#8f8f8f"/><stop offset="1" stop-color="#9a9a9a"/></linearGradient>
<linearGradient id="gD29"><stop offset="0" stop-color="#ffffff"/><stop offset=".0417" stop-color="#fefefe"/><stop offset=".0833" stop-color="#fcfcfc"/><stop offset=".125" stop-color="#fbfbfb"/><stop offset=".1667" stop-color="#f8f8f8"/><stop offset=".2083" stop-color="#f4f4f4"/><stop offset=".25" stop-color="#e7e7e7"/><stop offset=".2917" stop-color="#d3d3d3"/><stop offset=".3333" stop-color="#afafaf"/><stop offset=".375" stop-color="#8c8c8c"/><stop offset=".4167" stop-color="#6a6a6a"/><stop offset=".4583" stop-color="#444444"/><stop offset=".5" stop-color="#222222"/><stop offset=".5417" stop-color="#191919"/><stop offset=".5833" stop-color="#161616"/><stop offset=".625" stop-color="#171717"/><stop offset=".6667" stop-color="#1d1d1d"/><stop offset=".7083" stop-color="#272727"/><stop offset=".75" stop-color="#3d3d3d"/><stop offset=".7917" stop-color="#555555"/><stop offset=".8333" stop-color="#676767"/><stop offset=".875" stop-color="#767676"/><stop offset=".9167" stop-color="#838383"/><stop offset=".9583" stop-color="#8f8f8f"/><stop offset="1" stop-color="#9a9a9a"/></linearGradient>
<linearGradient id="gD30"><stop offset="0" stop-color="#ffffff"/><stop offset=".0417" stop-color="#fefefe"/><stop offset=".0833" stop-color="#fcfcfc"/><stop offset=".125" stop-color="#fbfbfb"/><stop offset=".1667" stop-color="#f8f8f8"/><stop offset=".2083" stop-color="#f4f4f4"/><stop offset=".25" stop-color="#e7e7e7"/><stop offset=".2917" stop-color="#d3d3d3"/><stop offset=".3333" stop-color="#b0b0b0"/><stop offset=".375" stop-color="#8d8d8d"/><stop offset=".4167" stop-color="#6b6b6b"/><stop offset=".4583" stop-color="#464646"/><stop offset=".5" stop-color="#242424"/><stop offset=".5417" stop-color="#1a1a1a"/><stop offset=".5833" stop-color="#161616"/><stop offset=".625" stop-color="#181818"/><stop offset=".6667" stop-color="#1d1d1d"/><stop offset=".7083" stop-color="#282828"/><stop offset=".75" stop-color="#3e3e3e"/><stop offset=".7917" stop-color="#575757"/><stop offset=".8333" stop-color="#686868"/><stop offset=".875" stop-color="#777777"/><stop offset=".9167" stop-color="#848484"/><stop offset=".9583" stop-color="#919191"/><stop offset="1" stop-color="#9c9c9c"/></linearGradient>
<linearGradient id="gD31"><stop offset="0" stop-color="#ffffff"/><stop offset=".0417" stop-color="#fefefe"/><stop offset=".0833" stop-color="#fcfcfc"/><stop offset=".125" stop-color="#fbfbfb"/><stop offset=".1667" stop-color="#f8f8f8"/><stop offset=".2083" stop-color="#f4f4f4"/><stop offset=".25" stop-color="#e8e8e8"/><stop offset=".2917" stop-color="#d4d4d4"/><stop offset=".3333" stop-color="#b0b0b0"/><stop offset=".375" stop-color="#8e8e8e"/><stop offset=".4167" stop-color="#6e6e6e"/><stop offset=".4583" stop-color="#4b4b4b"/><stop offset=".5" stop-color="#282828"/><stop offset=".5417" stop-color="#1c1c1c"/><stop offset=".5833" stop-color="#181818"/><stop offset=".625" stop-color="#1a1a1a"/><stop offset=".6667" stop-color="#1f1f1f"/><stop offset=".7083" stop-color="#2b2b2b"/><stop offset=".75" stop-color="#424242"/><stop offset=".7917" stop-color="#595959"/><stop offset=".8333" stop-color="#6a6a6a"/><stop offset=".875" stop-color="#797979"/><stop offset=".9167" stop-color="#868686"/><stop offset=".9583" stop-color="#929292"/><stop offset="1" stop-color="#9d9d9d"/></linearGradient>
<linearGradient id="gD32"><stop offset="0" stop-color="#ffffff"/><stop offset=".0417" stop-color="#fefefe"/><stop offset=".0833" stop-color="#fcfcfc"/><stop offset=".125" stop-color="#fbfbfb"/><stop offset=".1667" stop-color="#f9f9f9"/><stop offset=".2083" stop-color="#f4f4f4"/><stop offset=".25" stop-color="#e8e8e8"/><stop offset=".2917" stop-color="#d5d5d5"/><stop offset=".3333" stop-color="#b2b2b2"/><stop offset=".375" stop-color="#909090"/><stop offset=".4167" stop-color="#717171"/><stop offset=".4583" stop-color="#515151"/><stop offset=".5" stop-color="#2e2e2e"/><stop offset=".5417" stop-color="#1f1f1f"/><stop offset=".5833" stop-color="#1b1b1b"/><stop offset=".625" stop-color="#1c1c1c"/><stop offset=".6667" stop-color="#212121"/><stop offset=".7083" stop-color="#303030"/><stop offset=".75" stop-color="#474747"/><stop offset=".7917" stop-color="#5d5d5d"/><stop offset=".8333" stop-color="#6d6d6d"/><stop offset=".875" stop-color="#7c7c7c"/><stop offset=".9167" stop-color="#898989"/><stop offset=".9583" stop-color="#959595"/><stop offset="1" stop-color="#a0a0a0"/></linearGradient>
<linearGradient id="gD33"><stop offset="0" stop-color="#ffffff"/><stop offset=".0417" stop-color="#fefefe"/><stop offset=".0833" stop-color="#fdfdfd"/><stop offset=".125" stop-color="#fbfbfb"/><stop offset=".1667" stop-color="#f9f9f9"/><stop offset=".2083" stop-color="#f5f5f5"/><stop offset=".25" stop-color="#e9e9e9"/><stop offset=".2917" stop-color="#d7d7d7"/><stop offset=".3333" stop-color="#b4b4b4"/><stop offset=".375" stop-color="#929292"/><stop offset=".4167" stop-color="#747474"/><stop offset=".4583" stop-color="#585858"/><stop offset=".5" stop-color="#363636"/><stop offset=".5417" stop-color="#222222"/><stop offset=".5833" stop-color="#1f1f1f"/><stop offset=".625" stop-color="#202020"/><stop offset=".6667" stop-color="#262626"/><stop offset=".7083" stop-color="#373737"/><stop offset=".75" stop-color="#4d4d4d"/><stop offset=".7917" stop-color="#616161"/><stop offset=".8333" stop-color="#717171"/><stop offset=".875" stop-color="#808080"/><stop offset=".9167" stop-color="#8d8d8d"/><stop offset=".9583" stop-color="#999999"/><stop offset="1" stop-color="#a3a3a3"/></linearGradient>
<linearGradient id="gD34"><stop offset="0" stop-color="#ffffff"/><stop offset=".0417" stop-color="#fefefe"/><stop offset=".0833" stop-color="#fdfdfd"/><stop offset=".125" stop-color="#fbfbfb"/><stop offset=".1667" stop-color="#f9f9f9"/><stop offset=".2083" stop-color="#f5f5f5"/><stop offset=".25" stop-color="#eaeaea"/><stop offset=".2917" stop-color="#d9d9d9"/><stop offset=".3333" stop-color="#b7b7b7"/><stop offset=".375" stop-color="#959595"/><stop offset=".4167" stop-color="#797979"/><stop offset=".4583" stop-color="#5f5f5f"/><stop offset=".5" stop-color="#414141"/><stop offset=".5417" stop-color="#2b2b2b"/><stop offset=".5833" stop-color="#242424"/><stop offset=".625" stop-color="#252525"/><stop offset=".6667" stop-color="#2e2e2e"/><stop offset=".7083" stop-color="#404040"/><stop offset=".75" stop-color="#555555"/><stop offset=".7917" stop-color="#676767"/><stop offset=".8333" stop-color="#777777"/><stop offset=".875" stop-color="#858585"/><stop offset=".9167" stop-color="#919191"/><stop offset=".9583" stop-color="#9d9d9d"/><stop offset="1" stop-color="#a7a7a7"/></linearGradient>
<linearGradient id="gD35"><stop offset="0" stop-color="#ffffff"/><stop offset=".0417" stop-color="#fefefe"/><stop offset=".0833" stop-color="#fdfdfd"/><stop offset=".125" stop-color="#fbfbfb"/><stop offset=".1667" stop-color="#f9f9f9"/><stop offset=".2083" stop-color="#f5f5f5"/><stop offset=".25" stop-color="#ebebeb"/><stop offset=".2917" stop-color="#dbdbdb"/><stop offset=".3333" stop-color="#bababa"/><stop offset=".375" stop-color="#989898"/><stop offset=".4167" stop-color="#7d7d7d"/><stop offset=".4583" stop-color="#656565"/><stop offset=".5" stop-color="#4c4c4c"/><stop offset=".5417" stop-color="#363636"/><stop offset=".5833" stop-color="#2d2d2d"/><stop offset=".625" stop-color="#2f2f2f"/><stop offset=".6667" stop-color="#393939"/><stop offset=".7083" stop-color="#4b4b4b"/><stop offset=".75" stop-color="#5d5d5d"/><stop offset=".7917" stop-color="#6e6e6e"/><stop offset=".8333" stop-color="#7d7d7d"/><stop offset=".875" stop-color="#8a8a8a"/><stop offset=".9167" stop-color="#979797"/><stop offset=".9583" stop-color="#a2a2a2"/><stop offset="1" stop-color="#acacac"/></linearGradient>
<linearGradient id="gD36"><stop offset="0" stop-color="#ffffff"/><stop offset=".0417" stop-color="#fefefe"/><stop offset=".0833" stop-color="#fdfdfd"/><stop offset=".125" stop-color="#fbfbfb"/><stop offset=".1667" stop-color="#f9f9f9"/><stop offset=".2083" stop-color="#f6f6f6"/><stop offset=".25" stop-color="#ececec"/><stop offset=".2917" stop-color="#dddddd"/><stop offset=".3333" stop-color="#bebebe"/><stop offset=".375" stop-color="#9c9c9c"/><stop offset=".4167" stop-color="#838383"/><stop offset=".4583" stop-color="#6c6c6c"/><stop offset=".5" stop-color="#575757"/><stop offset=".5417" stop-color="#434343"/><stop offset=".5833" stop-color="#3a3a3a"/><stop offset=".625" stop-color="#3c3c3c"/><stop offset=".6667" stop-color="#464646"/><stop offset=".7083" stop-color="#565656"/><stop offset=".75" stop-color="#656565"/><stop offset=".7917" stop-color="#757575"/><stop offset=".8333" stop-color="#848484"/><stop offset=".875" stop-color="#919191"/><stop offset=".9167" stop-color="#9d9d9d"/><stop offset=".9583" stop-color="#a7a7a7"/><stop offset="1" stop-color="#b2b2b2"/></linearGradient>
<linearGradient id="gD37"><stop offset="0" stop-color="#ffffff"/><stop offset=".0417" stop-color="#fefefe"/><stop offset=".0833" stop-color="#fdfdfd"/><stop offset=".125" stop-color="#fbfbfb"/><stop offset=".1667" stop-color="#f9f9f9"/><stop offset=".2083" stop-color="#f6f6f6"/><stop offset=".25" stop-color="#ededed"/><stop offset=".2917" stop-color="#dfdfdf"/><stop offset=".3333" stop-color="#c3c3c3"/><stop offset=".375" stop-color="#a1a1a1"/><stop offset=".4167" stop-color="#888888"/><stop offset=".4583" stop-color="#737373"/><stop offset=".5" stop-color="#616161"/><stop offset=".5417" stop-color="#515151"/><stop offset=".5833" stop-color="#494949"/><stop offset=".625" stop-color="#494949"/><stop offset=".6667" stop-color="#535353"/><stop offset=".7083" stop-color="#606060"/><stop offset=".75" stop-color="#6e6e6e"/><stop offset=".7917" stop-color="#7d7d7d"/><stop offset=".8333" stop-color="#8b8b8b"/><stop offset=".875" stop-color="#989898"/><stop offset=".9167" stop-color="#a4a4a4"/><stop offset=".9583" stop-color="#aeaeae"/><stop offset="1" stop-color="#b8b8b8"/></linearGradient>
<linearGradient id="gD38"><stop offset="0" stop-color="#ffffff"/><stop offset=".0417" stop-color="#fefefe"/><stop offset=".0833" stop-color="#fdfdfd"/><stop offset=".125" stop-color="#fbfbfb"/><stop offset=".1667" stop-color="#f9f9f9"/><stop offset=".2083" stop-color="#f6f6f6"/><stop offset=".25" stop-color="#eeeeee"/><stop offset=".2917" stop-color="#e0e0e0"/><stop offset=".3333" stop-color="#c8c8c8"/><stop offset=".375" stop-color="#a7a7a7"/><stop offset=".4167" stop-color="#8e8e8e"/><stop offset=".4583" stop-color="#7b7b7b"/><stop offset=".5" stop-color="#6a6a6a"/><stop offset=".5417" stop-color="#5e5e5e"/><stop offset=".5833" stop-color="#575757"/><stop offset=".625" stop-color="#575757"/><stop offset=".6667" stop-color="#5e5e5e"/><stop offset=".7083" stop-color="#6a6a6a"/><stop offset=".75" stop-color="#777777"/><stop offset=".7917" stop-color="#858585"/><stop offset=".8333" stop-color="#939393"/><stop offset=".875" stop-color="#a0a0a0"/><stop offset=".9167" stop-color="#acacac"/><stop offset=".9583" stop-color="#b6b6b6"/><stop offset="1" stop-color="#c0c0c0"/></linearGradient>
<linearGradient id="gD39"><stop offset="0" stop-color="#ffffff"/><stop offset=".0417" stop-color="#fefefe"/><stop offset=".0833" stop-color="#fdfdfd"/><stop offset=".125" stop-color="#fbfbfb"/><stop offset=".1667" stop-color="#f9f9f9"/><stop offset=".2083" stop-color="#f7f7f7"/><stop offset=".25" stop-color="#efefef"/><stop offset=".2917" stop-color="#e2e2e2"/><stop offset=".3333" stop-color="#cdcdcd"/><stop offset=".375" stop-color="#adadad"/><stop offset=".4167" stop-color="#959595"/><stop offset=".4583" stop-color="#828282"/><stop offset=".5" stop-color="#737373"/><stop offset=".5417" stop-color="#686868"/><stop offset=".5833" stop-color="#636363"/><stop offset=".625" stop-color="#636363"/><stop offset=".6667" stop-color="#696969"/><stop offset=".7083" stop-color="#737373"/><stop offset=".75" stop-color="#808080"/><stop offset=".7917" stop-color="#8e8e8e"/><stop offset=".8333" stop-color="#9b9b9b"/><stop offset=".875" stop-color="#a8a8a8"/><stop offset=".9167" stop-color="#b4b4b4"/><stop offset=".9583" stop-color="#bfbfbf"/><stop offset="1" stop-color="#c8c8c8"/></linearGradient>
<linearGradient id="gD40"><stop offset="0" stop-color="#ffffff"/><stop offset=".0417" stop-color="#fefefe"/><stop offset=".0833" stop-color="#fdfdfd"/><stop offset=".125" stop-color="#fbfbfb"/><stop offset=".1667" stop-color="#fafafa"/><stop offset=".2083" stop-color="#f7f7f7"/><stop offset=".25" stop-color="#f0f0f0"/><stop offset=".2917" stop-color="#e5e5e5"/><stop offset=".3333" stop-color="#d2d2d2"/><stop offset=".375" stop-color="#b5b5b5"/><stop offset=".4167" stop-color="#9c9c9c"/><stop offset=".4583" stop-color="#8a8a8a"/><stop offset=".5" stop-color="#7c7c7c"/><stop offset=".5417" stop-color="#727272"/><stop offset=".5833" stop-color="#6d6d6d"/><stop offset=".625" stop-color="#6d6d6d"/><stop offset=".6667" stop-color="#737373"/><stop offset=".7083" stop-color="#7d7d7d"/><stop offset=".75" stop-color="#898989"/><stop offset=".7917" stop-color="#969696"/><stop offset=".8333" stop-color="#a3a3a3"/><stop offset=".875" stop-color="#b1b1b1"/><stop offset=".9167" stop-color="#bebebe"/><stop offset=".9583" stop-color="#c8c8c8"/><stop offset="1" stop-color="#d1d1d1"/></linearGradient>
<linearGradient id="gD41"><stop offset="0" stop-color="#ffffff"/><stop offset=".0417" stop-color="#fefefe"/><stop offset=".0833" stop-color="#fdfdfd"/><stop offset=".125" stop-color="#fcfcfc"/><stop offset=".1667" stop-color="#fafafa"/><stop offset=".2083" stop-color="#f7f7f7"/><stop offset=".25" stop-color="#f2f2f2"/><stop offset=".2917" stop-color="#e7e7e7"/><stop offset=".3333" stop-color="#d7d7d7"/><stop offset=".375" stop-color="#bdbdbd"/><stop offset=".4167" stop-color="#a4a4a4"/><stop offset=".4583" stop-color="#939393"/><stop offset=".5" stop-color="#868686"/><stop offset=".5417" stop-color="#7c7c7c"/><stop offset=".5833" stop-color="#787878"/><stop offset=".625" stop-color="#787878"/><stop offset=".6667" stop-color="#7d7d7d"/><stop offset=".7083" stop-color="#868686"/><stop offset=".75" stop-color="#929292"/><stop offset=".7917" stop-color="#9f9f9f"/><stop offset=".8333" stop-color="#acacac"/><stop offset=".875" stop-color="#bbbbbb"/><stop offset=".9167" stop-color="#c7c7c7"/><stop offset=".9583" stop-color="#d1d1d1"/><stop offset="1" stop-color="#d8d8d8"/></linearGradient>
<linearGradient id="gD42"><stop offset="0" stop-color="#ffffff"/><stop offset=".0417" stop-color="#fefefe"/><stop offset=".0833" stop-color="#fdfdfd"/><stop offset=".125" stop-color="#fcfcfc"/><stop offset=".1667" stop-color="#fafafa"/><stop offset=".2083" stop-color="#f8f8f8"/><stop offset=".25" stop-color="#f3f3f3"/><stop offset=".2917" stop-color="#e9e9e9"/><stop offset=".3333" stop-color="#dcdcdc"/><stop offset=".375" stop-color="#c6c6c6"/><stop offset=".4167" stop-color="#aeaeae"/><stop offset=".4583" stop-color="#9c9c9c"/><stop offset=".5" stop-color="#8f8f8f"/><stop offset=".5417" stop-color="#868686"/><stop offset=".5833" stop-color="#828282"/><stop offset=".625" stop-color="#828282"/><stop offset=".6667" stop-color="#878787"/><stop offset=".7083" stop-color="#909090"/><stop offset=".75" stop-color="#9b9b9b"/><stop offset=".7917" stop-color="#a8a8a8"/><stop offset=".8333" stop-color="#b6b6b6"/><stop offset=".875" stop-color="#c4c4c4"/><stop offset=".9167" stop-color="#d0d0d0"/><stop offset=".9583" stop-color="#d8d8d8"/><stop offset="1" stop-color="#dedede"/></linearGradient>
<linearGradient id="gD43"><stop offset="0" stop-color="#ffffff"/><stop offset=".0417" stop-color="#fefefe"/><stop offset=".0833" stop-color="#fdfdfd"/><stop offset=".125" stop-color="#fcfcfc"/><stop offset=".1667" stop-color="#fafafa"/><stop offset=".2083" stop-color="#f8f8f8"/><stop offset=".25" stop-color="#f4f4f4"/><stop offset=".2917" stop-color="#ebebeb"/><stop offset=".3333" stop-color="#e0e0e0"/><stop offset=".375" stop-color="#cecece"/><stop offset=".4167" stop-color="#b8b8b8"/><stop offset=".4583" stop-color="#a6a6a6"/><stop offset=".5" stop-color="#999999"/><stop offset=".5417" stop-color="#919191"/><stop offset=".5833" stop-color="#8c8c8c"/><stop offset=".625" stop-color="#8d8d8d"/><stop offset=".6667" stop-color="#919191"/><stop offset=".7083" stop-color="#9a9a9a"/><stop offset=".75" stop-color="#a5a5a5"/><stop offset=".7917" stop-color="#b1b1b1"/><stop offset=".8333" stop-color="#bfbfbf"/><stop offset=".875" stop-color="#cdcdcd"/><stop offset=".9167" stop-color="#d7d7d7"/><stop offset=".9583" stop-color="#dedede"/><stop offset="1" stop-color="#e2e2e2"/></linearGradient>
<linearGradient id="gD44"><stop offset="0" stop-color="#ffffff"/><stop offset=".0417" stop-color="#fefefe"/><stop offset=".0833" stop-color="#fdfdfd"/><stop offset=".125" stop-color="#fcfcfc"/><stop offset=".1667" stop-color="#fafafa"/><stop offset=".2083" stop-color="#f8f8f8"/><stop offset=".25" stop-color="#f5f5f5"/><stop offset=".2917" stop-color="#ededed"/><stop offset=".3333" stop-color="#e3e3e3"/><stop offset=".375" stop-color="#d6d6d6"/><stop offset=".4167" stop-color="#c3c3c3"/><stop offset=".4583" stop-color="#b1b1b1"/><stop offset=".5" stop-color="#a4a4a4"/><stop offset=".5417" stop-color="#9b9b9b"/><stop offset=".5833" stop-color="#979797"/><stop offset=".625" stop-color="#979797"/><stop offset=".6667" stop-color="#9c9c9c"/><stop offset=".7083" stop-color="#a4a4a4"/><stop offset=".75" stop-color="#b0b0b0"/><stop offset=".7917" stop-color="#bcbcbc"/><stop offset=".8333" stop-color="#c9c9c9"/><stop offset=".875" stop-color="#d5d5d5"/><stop offset=".9167" stop-color="#dddddd"/><stop offset=".9583" stop-color="#e2e2e2"/><stop offset="1" stop-color="#e6e6e6"/></linearGradient>
<linearGradient id="gD45"><stop offset="0" stop-color="#ffffff"/><stop offset=".0417" stop-color="#fefefe"/><stop offset=".0833" stop-color="#fefefe"/><stop offset=".125" stop-color="#fcfcfc"/><stop offset=".1667" stop-color="#fbfbfb"/><stop offset=".2083" stop-color="#f9f9f9"/><stop offset=".25" stop-color="#f6f6f6"/><stop offset=".2917" stop-color="#efefef"/><stop offset=".3333" stop-color="#e6e6e6"/><stop offset=".375" stop-color="#dddddd"/><stop offset=".4167" stop-color="#cecece"/><stop offset=".4583" stop-color="#bebebe"/><stop offset=".5" stop-color="#b0b0b0"/><stop offset=".5417" stop-color="#a7a7a7"/><stop offset=".5833" stop-color="#a2a2a2"/><stop offset=".625" stop-color="#a3a3a3"/><stop offset=".6667" stop-color="#a8a8a8"/><stop offset=".7083" stop-color="#b1b1b1"/><stop offset=".75" stop-color="#bbbbbb"/><stop offset=".7917" stop-color="#c7c7c7"/><stop offset=".8333" stop-color="#d1d1d1"/><stop offset=".875" stop-color="#dbdbdb"/><stop offset=".9167" stop-color="#e1e1e1"/><stop offset=".9583" stop-color="#e6e6e6"/><stop offset="1" stop-color="#e9e9e9"/></linearGradient>
<linearGradient id="gD46"><stop offset="0" stop-color="#ffffff"/><stop offset=".0417" stop-color="#fefefe"/><stop offset=".0833" stop-color="#fefefe"/><stop offset=".125" stop-color="#fcfcfc"/><stop offset=".1667" stop-color="#fbfbfb"/><stop offset=".2083" stop-color="#f9f9f9"/><stop offset=".25" stop-color="#f7f7f7"/><stop offset=".2917" stop-color="#f1f1f1"/><stop offset=".3333" stop-color="#e9e9e9"/><stop offset=".375" stop-color="#e1e1e1"/><stop offset=".4167" stop-color="#d7d7d7"/><stop offset=".4583" stop-color="#cacaca"/><stop offset=".5" stop-color="#bebebe"/><stop offset=".5417" stop-color="#b5b5b5"/><stop offset=".5833" stop-color="#b0b0b0"/><stop offset=".625" stop-color="#b1b1b1"/><stop offset=".6667" stop-color="#b6b6b6"/><stop offset=".7083" stop-color="#bebebe"/><stop offset=".75" stop-color="#c8c8c8"/><stop offset=".7917" stop-color="#d1d1d1"/><stop offset=".8333" stop-color="#d9d9d9"/><stop offset=".875" stop-color="#e0e0e0"/><stop offset=".9167" stop-color="#e5e5e5"/><stop offset=".9583" stop-color="#e9e9e9"/><stop offset="1" stop-color="#ececec"/></linearGradient>
<linearGradient id="gD47"><stop offset="0" stop-color="#ffffff"/><stop offset=".0417" stop-color="#ffffff"/><stop offset=".0833" stop-color="#fefefe"/><stop offset=".125" stop-color="#fdfdfd"/><stop offset=".1667" stop-color="#fbfbfb"/><stop offset=".2083" stop-color="#f9f9f9"/><stop offset=".25" stop-color="#f7f7f7"/><stop offset=".2917" stop-color="#f3f3f3"/><stop offset=".3333" stop-color="#ececec"/><stop offset=".375" stop-color="#e5e5e5"/><stop offset=".4167" stop-color="#dedede"/><stop offset=".4583" stop-color="#d5d5d5"/><stop offset=".5" stop-color="#cbcbcb"/><stop offset=".5417" stop-color="#c3c3c3"/><stop offset=".5833" stop-color="#bfbfbf"/><stop offset=".625" stop-color="#c0c0c0"/><stop offset=".6667" stop-color="#c5c5c5"/><stop offset=".7083" stop-color="#cccccc"/><stop offset=".75" stop-color="#d3d3d3"/><stop offset=".7917" stop-color="#d9d9d9"/><stop offset=".8333" stop-color="#dfdfdf"/><stop offset=".875" stop-color="#e3e3e3"/><stop offset=".9167" stop-color="#e8e8e8"/><stop offset=".9583" stop-color="#ececec"/><stop offset="1" stop-color="#efefef"/></linearGradient>
<linearGradient id="gD48"><stop offset="0" stop-color="#ffffff"/><stop offset=".0417" stop-color="#ffffff"/><stop offset=".0833" stop-color="#fefefe"/><stop offset=".125" stop-color="#fdfdfd"/><stop offset=".1667" stop-color="#fbfbfb"/><stop offset=".2083" stop-color="#fafafa"/><stop offset=".25" stop-color="#f8f8f8"/><stop offset=".2917" stop-color="#f4f4f4"/><stop offset=".3333" stop-color="#efefef"/><stop offset=".375" stop-color="#e8e8e8"/><stop offset=".4167" stop-color="#e2e2e2"/><stop offset=".4583" stop-color="#dddddd"/><stop offset=".5" stop-color="#d6d6d6"/><stop offset=".5417" stop-color="#d0d0d0"/><stop offset=".5833" stop-color="#cdcdcd"/><stop offset=".625" stop-color="#cecece"/><stop offset=".6667" stop-color="#d2d2d2"/><stop offset=".7083" stop-color="#d7d7d7"/><stop offset=".75" stop-color="#dcdcdc"/><stop offset=".7917" stop-color="#dfdfdf"/><stop offset=".8333" stop-color="#e3e3e3"/><stop offset=".875" stop-color="#e7e7e7"/><stop offset=".9167" stop-color="#ebebeb"/><stop offset=".9583" stop-color="#eeeeee"/><stop offset="1" stop-color="#f1f1f1"/></linearGradient>
<linearGradient id="gD49"><stop offset="0" stop-color="#ffffff"/><stop offset=".0417" stop-color="#ffffff"/><stop offset=".0833" stop-color="#fefefe"/><stop offset=".125" stop-color="#fdfdfd"/><stop offset=".1667" stop-color="#fcfcfc"/><stop offset=".2083" stop-color="#fafafa"/><stop offset=".25" stop-color="#f8f8f8"/><stop offset=".2917" stop-color="#f6f6f6"/><stop offset=".3333" stop-color="#f1f1f1"/><stop offset=".375" stop-color="#ebebeb"/><stop offset=".4167" stop-color="#e6e6e6"/><stop offset=".4583" stop-color="#e2e2e2"/><stop offset=".5" stop-color="#dedede"/><stop offset=".5417" stop-color="#dbdbdb"/><stop offset=".5833" stop-color="#d9d9d9"/><stop offset=".625" stop-color="#dadada"/><stop offset=".6667" stop-color="#dcdcdc"/><stop offset=".7083" stop-color="#dfdfdf"/><stop offset=".75" stop-color="#e1e1e1"/><stop offset=".7917" stop-color="#e3e3e3"/><stop offset=".8333" stop-color="#e6e6e6"/><stop offset=".875" stop-color="#eaeaea"/><stop offset=".9167" stop-color="#ededed"/><stop offset=".9583" stop-color="#f1f1f1"/><stop offset="1" stop-color="#f3f3f3"/></linearGradient>
<linearGradient id="gD50"><stop offset="0" stop-color="#ffffff"/><stop offset=".0417" stop-color="#ffffff"/><stop offset=".0833" stop-color="#fefefe"/><stop offset=".125" stop-color="#fdfdfd"/><stop offset=".1667" stop-color="#fcfcfc"/><stop offset=".2083" stop-color="#fafafa"/><stop offset=".25" stop-color="#f9f9f9"/><stop offset=".2917" stop-color="#f7f7f7"/><stop offset=".3333" stop-color="#f3f3f3"/><stop offset=".375" stop-color="#eeeeee"/><stop offset=".4167" stop-color="#eaeaea"/><stop offset=".4583" stop-color="#e6e6e6"/><stop offset=".5" stop-color="#e2e2e2"/><stop offset=".5417" stop-color="#e0e0e0"/><stop offset=".5833" stop-color="#e0e0e0"/><stop offset=".625" stop-color="#e0e0e0"/><stop offset=".6667" stop-color="#e1e1e1"/><stop offset=".7083" stop-color="#e3e3e3"/><stop offset=".75" stop-color="#e5e5e5"/><stop offset=".7917" stop-color="#e7e7e7"/><stop offset=".8333" stop-color="#eaeaea"/><stop offset=".875" stop-color="#ededed"/><stop offset=".9167" stop-color="#f0f0f0"/><stop offset=".9583" stop-color="#f3f3f3"/><stop offset="1" stop-color="#f5f5f5"/></linearGradient>
<linearGradient id="gD51"><stop offset="0" stop-color="#ffffff"/><stop offset=".0417" stop-color="#ffffff"/><stop offset=".0833" stop-color="#fefefe"/><stop offset=".125" stop-color="#fdfdfd"/><stop offset=".1667" stop-color="#fcfcfc"/><stop offset=".2083" stop-color="#fbfbfb"/><stop offset=".25" stop-color="#f9f9f9"/><stop offset=".2917" stop-color="#f7f7f7"/><stop offset=".3333" stop-color="#f5f5f5"/><stop offset=".375" stop-color="#f1f1f1"/><stop offset=".4167" stop-color="#ededed"/><stop offset=".4583" stop-color="#e9e9e9"/><stop offset=".5" stop-color="#e6e6e6"/><stop offset=".5417" stop-color="#e4e4e4"/><stop offset=".5833" stop-color="#e4e4e4"/><stop offset=".625" stop-color="#e4e4e4"/><stop offset=".6667" stop-color="#e5e5e5"/><stop offset=".7083" stop-color="#e6e6e6"/><stop offset=".75" stop-color="#e8e8e8"/><stop offset=".7917" stop-color="#eaeaea"/><stop offset=".8333" stop-color="#ededed"/><stop offset=".875" stop-color="#efefef"/><stop offset=".9167" stop-color="#f2f2f2"/><stop offset=".9583" stop-color="#f4f4f4"/><stop offset="1" stop-color="#f6f6f6"/></linearGradient>
<linearGradient id="gD52"><stop offset="0" stop-color="#ffffff"/><stop offset=".0417" stop-color="#ffffff"/><stop offset=".0833" stop-color="#fefefe"/><stop offset=".125" stop-color="#fefefe"/><stop offset=".1667" stop-color="#fcfcfc"/><stop offset=".2083" stop-color="#fbfbfb"/><stop offset=".25" stop-color="#fafafa"/><stop offset=".2917" stop-color="#f8f8f8"/><stop offset=".3333" stop-color="#f6f6f6"/><stop offset=".375" stop-color="#f3f3f3"/><stop offset=".4167" stop-color="#efefef"/><stop offset=".4583" stop-color="#ececec"/><stop offset=".5" stop-color="#eaeaea"/><stop offset=".5417" stop-color="#e8e8e8"/><stop offset=".5833" stop-color="#e7e7e7"/><stop offset=".625" stop-color="#e7e7e7"/><stop offset=".6667" stop-color="#e8e8e8"/><stop offset=".7083" stop-color="#eaeaea"/><stop offset=".75" stop-color="#ebebeb"/><stop offset=".7917" stop-color="#ededed"/><stop offset=".8333" stop-color="#efefef"/><stop offset=".875" stop-color="#f2f2f2"/><stop offset=".9167" stop-color="#f4f4f4"/><stop offset=".9583" stop-color="#f6f6f6"/><stop offset="1" stop-color="#f7f7f7"/></linearGradient>
<linearGradient id="gD53"><stop offset="0" stop-color="#ffffff"/><stop offset=".0417" stop-color="#ffffff"/><stop offset=".0833" stop-color="#fefefe"/><stop offset=".125" stop-color="#fefefe"/><stop offset=".1667" stop-color="#fdfdfd"/><stop offset=".2083" stop-color="#fbfbfb"/><stop offset=".25" stop-color="#fafafa"/><stop offset=".2917" stop-color="#f9f9f9"/><stop offset=".3333" stop-color="#f7f7f7"/><stop offset=".375" stop-color="#f5f5f5"/><stop offset=".4167" stop-color="#f2f2f2"/><stop offset=".4583" stop-color="#efefef"/><stop offset=".5" stop-color="#ededed"/><stop offset=".5417" stop-color="#ebebeb"/><stop offset=".5833" stop-color="#eaeaea"/><stop offset=".625" stop-color="#eaeaea"/><stop offset=".6667" stop-color="#ebebeb"/><stop offset=".7083" stop-color="#ececec"/><stop offset=".75" stop-color="#eeeeee"/><stop offset=".7917" stop-color="#f0f0f0"/><stop offset=".8333" stop-color="#f2f2f2"/><stop offset=".875" stop-color="#f4f4f4"/><stop offset=".9167" stop-color="#f5f5f5"/><stop offset=".9583" stop-color="#f7f7f7"/><stop offset="1" stop-color="#f8f8f8"/></linearGradient>
<linearGradient id="gD54"><stop offset="0" stop-color="#ffffff"/><stop offset=".0417" stop-color="#ffffff"/><stop offset=".0833" stop-color="#ffffff"/><stop offset=".125" stop-color="#fefefe"/><stop offset=".1667" stop-color="#fdfdfd"/><stop offset=".2083" stop-color="#fcfcfc"/><stop offset=".25" stop-color="#fbfbfb"/><stop offset=".2917" stop-color="#f9f9f9"/><stop offset=".3333" stop-color="#f8f8f8"/><stop offset=".375" stop-color="#f6f6f6"/><stop offset=".4167" stop-color="#f4f4f4"/><stop offset=".4583" stop-color="#f1f1f1"/><stop offset=".5" stop-color="#efefef"/><stop offset=".5417" stop-color="#eeeeee"/><stop offset=".5833" stop-color="#ededed"/><stop offset=".625" stop-color="#ededed"/><stop offset=".6667" stop-color="#eeeeee"/><stop offset=".7083" stop-color="#efefef"/><stop offset=".75" stop-color="#f0f0f0"/><stop offset=".7917" stop-color="#f2f2f2"/><stop offset=".8333" stop-color="#f4f4f4"/><stop offset=".875" stop-color="#f5f5f5"/><stop offset=".9167" stop-color="#f7f7f7"/><stop offset=".9583" stop-color="#f8f8f8"/><stop offset="1" stop-color="#f8f8f8"/></linearGradient>
<linearGradient id="gD55"><stop offset="0" stop-color="#ffffff"/><stop offset=".0417" stop-color="#ffffff"/><stop offset=".0833" stop-color="#ffffff"/><stop offset=".125" stop-color="#fefefe"/><stop offset=".1667" stop-color="#fdfdfd"/><stop offset=".2083" stop-color="#fcfcfc"/><stop offset=".25" stop-color="#fbfbfb"/><stop offset=".2917" stop-color="#fafafa"/><stop offset=".3333" stop-color="#f8f8f8"/><stop offset=".375" stop-color="#f7f7f7"/><stop offset=".4167" stop-color="#f5f5f5"/><stop offset=".4583" stop-color="#f3f3f3"/><stop offset=".5" stop-color="#f2f2f2"/><stop offset=".5417" stop-color="#f0f0f0"/><stop offset=".5833" stop-color="#f0f0f0"/><stop offset=".625" stop-color="#f0f0f0"/><stop offset=".6667" stop-color="#f0f0f0"/><stop offset=".7083" stop-color="#f1f1f1"/><stop offset=".75" stop-color="#f2f2f2"/><stop offset=".7917" stop-color="#f4f4f4"/><stop offset=".8333" stop-color="#f5f5f5"/><stop offset=".875" stop-color="#f6f6f6"/><stop offset=".9167" stop-color="#f7f7f7"/><stop offset=".9583" stop-color="#f8f8f8"/><stop offset="1" stop-color="#f9f9f9"/></linearGradient>
<linearGradient id="gD56"><stop offset="0" stop-color="#ffffff"/><stop offset=".0417" stop-color="#ffffff"/><stop offset=".0833" stop-color="#ffffff"/><stop offset=".125" stop-color="#fefefe"/><stop offset=".1667" stop-color="#fdfdfd"/><stop offset=".2083" stop-color="#fcfcfc"/><stop offset=".25" stop-color="#fbfbfb"/><stop offset=".2917" stop-color="#fafafa"/><stop offset=".3333" stop-color="#f9f9f9"/><stop offset=".375" stop-color="#f8f8f8"/><stop offset=".4167" stop-color="#f7f7f7"/><stop offset=".4583" stop-color="#f5f5f5"/><stop offset=".5" stop-color="#f3f3f3"/><stop offset=".5417" stop-color="#f2f2f2"/><stop offset=".5833" stop-color="#f2f2f2"/><stop offset=".625" stop-color="#f2f2f2"/><stop offset=".6667" stop-color="#f2f2f2"/><stop offset=".7083" stop-color="#f3f3f3"/><stop offset=".75" stop-color="#f4f4f4"/><stop offset=".7917" stop-color="#f5f5f5"/><stop offset=".8333" stop-color="#f6f6f6"/><stop offset=".875" stop-color="#f7f7f7"/><stop offset=".9167" stop-color="#f8f8f8"/><stop offset=".9583" stop-color="#f9f9f9"/><stop offset="1" stop-color="#fafafa"/></linearGradient>
<linearGradient id="gD57"><stop offset="0" stop-color="#ffffff"/><stop offset=".0417" stop-color="#ffffff"/><stop offset=".0833" stop-color="#ffffff"/><stop offset=".125" stop-color="#fefefe"/><stop offset=".1667" stop-color="#fefefe"/><stop offset=".2083" stop-color="#fdfdfd"/><stop offset=".25" stop-color="#fcfcfc"/><stop offset=".2917" stop-color="#fbfbfb"/><stop offset=".3333" stop-color="#fafafa"/><stop offset=".375" stop-color="#f8f8f8"/><stop offset=".4167" stop-color="#f7f7f7"/><stop offset=".4583" stop-color="#f6f6f6"/><stop offset=".5" stop-color="#f5f5f5"/><stop offset=".5417" stop-color="#f4f4f4"/><stop offset=".5833" stop-color="#f3f3f3"/><stop offset=".625" stop-color="#f3f3f3"/><stop offset=".6667" stop-color="#f4f4f4"/><stop offset=".7083" stop-color="#f4f4f4"/><stop offset=".75" stop-color="#f5f5f5"/><stop offset=".7917" stop-color="#f6f6f6"/><stop offset=".8333" stop-color="#f7f7f7"/><stop offset=".875" stop-color="#f8f8f8"/><stop offset=".9167" stop-color="#f9f9f9"/><stop offset=".9583" stop-color="#f9f9f9"/><stop offset="1" stop-color="#fafafa"/></linearGradient>
<linearGradient id="gD58"><stop offset="0" stop-color="#ffffff"/><stop offset=".0417" stop-color="#ffffff"/><stop offset=".0833" stop-color="#ffffff"/><stop offset=".125" stop-color="#ffffff"/><stop offset=".1667" stop-color="#fefefe"/><stop offset=".2083" stop-color="#fdfdfd"/><stop offset=".25" stop-color="#fcfcfc"/><stop offset=".2917" stop-color="#fbfbfb"/><stop offset=".3333" stop-color="#fafafa"/><stop offset=".375" stop-color="#f9f9f9"/><stop offset=".4167" stop-color="#f8f8f8"/><stop offset=".4583" stop-color="#f7f7f7"/><stop offset=".5" stop-color="#f6f6f6"/><stop offset=".5417" stop-color="#f5f5f5"/><stop offset=".5833" stop-color="#f5f5f5"/><stop offset=".625" stop-color="#f5f5f5"/><stop offset=".6667" stop-color="#f5f5f5"/><stop offset=".7083" stop-color="#f6f6f6"/><stop offset=".75" stop-color="#f6f6f6"/><stop offset=".7917" stop-color="#f7f7f7"/><stop offset=".8333" stop-color="#f8f8f8"/><stop offset=".875" stop-color="#f9f9f9"/><stop offset=".9167" stop-color="#f9f9f9"/><stop offset=".9583" stop-color="#fafafa"/><stop offset="1" stop-color="#fbfbfb"/></linearGradient>
<linearGradient id="gD59"><stop offset="0" stop-color="#ffffff"/><stop offset=".0417" stop-color="#ffffff"/><stop offset=".0833" stop-color="#ffffff"/><stop offset=".125" stop-color="#ffffff"/><stop offset=".1667" stop-color="#fefefe"/><stop offset=".2083" stop-color="#fdfdfd"/><stop offset=".25" stop-color="#fdfdfd"/><stop offset=".2917" stop-color="#fcfcfc"/><stop offset=".3333" stop-color="#fbfbfb"/><stop offset=".375" stop-color="#fafafa"/><stop offset=".4167" stop-color="#f9f9f9"/><stop offset=".4583" stop-color="#f8f8f8"/><stop offset=".5" stop-color="#f7f7f7"/><stop offset=".5417" stop-color="#f7f7f7"/><stop offset=".5833" stop-color="#f6f6f6"/><stop offset=".625" stop-color="#f6f6f6"/><stop offset=".6667" stop-color="#f6f6f6"/><stop offset=".7083" stop-color="#f7f7f7"/><stop offset=".75" stop-color="#f7f7f7"/><stop offset=".7917" stop-color="#f8f8f8"/><stop offset=".8333" stop-color="#f9f9f9"/><stop offset=".875" stop-color="#f9f9f9"/><stop offset=".9167" stop-color="#fafafa"/><stop offset=".9583" stop-color="#fbfbfb"/><stop offset="1" stop-color="#fbfbfb"/></linearGradient>
<linearGradient id="gD60"><stop offset="0" stop-color="#ffffff"/><stop offset=".0417" stop-color="#ffffff"/><stop offset=".0833" stop-color="#ffffff"/><stop offset=".125" stop-color="#ffffff"/><stop offset=".1667" stop-color="#fefefe"/><stop offset=".2083" stop-color="#fefefe"/><stop offset=".25" stop-color="#fdfdfd"/><stop offset=".2917" stop-color="#fcfcfc"/><stop offset=".3333" stop-color="#fbfbfb"/><stop offset=".375" stop-color="#fafafa"/><stop offset=".4167" stop-color="#f9f9f9"/><stop offset=".4583" stop-color="#f9f9f9"/><stop offset=".5" stop-color="#f8f8f8"/><stop offset=".5417" stop-color="#f7f7f7"/><stop offset=".5833" stop-color="#f7f7f7"/><stop offset=".625" stop-color="#f7f7f7"/><stop offset=".6667" stop-color="#f7f7f7"/><stop offset=".7083" stop-color="#f8f8f8"/><stop offset=".75" stop-color="#f8f8f8"/><stop offset=".7917" stop-color="#f9f9f9"/><stop offset=".8333" stop-color="#f9f9f9"/><stop offset=".875" stop-color="#fafafa"/><stop offset=".9167" stop-color="#fafafa"/><stop offset=".9583" stop-color="#fbfbfb"/><stop offset="1" stop-color="#fcfcfc"/></linearGradient>
<linearGradient id="gD61"><stop offset="0" stop-color="#ffffff"/><stop offset=".0417" stop-color="#ffffff"/><stop offset=".0833" stop-color="#ffffff"/><stop offset=".125" stop-color="#ffffff"/><stop offset=".1667" stop-color="#fefefe"/><stop offset=".2083" stop-color="#fefefe"/><stop offset=".25" stop-color="#fdfdfd"/><stop offset=".2917" stop-color="#fcfcfc"/><stop offset=".3333" stop-color="#fcfcfc"/><stop offset=".375" stop-color="#fbfbfb"/><stop offset=".4167" stop-color="#fafafa"/><stop offset=".4583" stop-color="#f9f9f9"/><stop offset=".5" stop-color="#f9f9f9"/><stop offset=".5417" stop-color="#f8f8f8"/><stop offset=".5833" stop-color="#f8f8f8"/><stop offset=".625" stop-color="#f8f8f8"/><stop offset=".6667" stop-color="#f8f8f8"/><stop offset=".7083" stop-color="#f8f8f8"/><stop offset=".75" stop-color="#f9f9f9"/><stop offset=".7917" stop-color="#f9f9f9"/><stop offset=".8333" stop-color="#fafafa"/><stop offset=".875" stop-color="#fafafa"/><stop offset=".9167" stop-color="#fbfbfb"/><stop offset=".9583" stop-color="#fcfcfc"/><stop offset="1" stop-color="#fcfcfc"/></linearGradient>
<linearGradient id="gD62"><stop offset="0" stop-color="#ffffff"/><stop offset=".0417" stop-color="#ffffff"/><stop offset=".0833" stop-color="#ffffff"/><stop offset=".125" stop-color="#ffffff"/><stop offset=".1667" stop-color="#ffffff"/><stop offset=".2083" stop-color="#fefefe"/><stop offset=".25" stop-color="#fefefe"/><stop offset=".2917" stop-color="#fdfdfd"/><stop offset=".3333" stop-color="#fcfcfc"/><stop offset=".375" stop-color="#fbfbfb"/><stop offset=".4167" stop-color="#fbfbfb"/><stop offset=".4583" stop-color="#fafafa"/><stop offset=".5" stop-color="#f9f9f9"/><stop offset=".5417" stop-color="#f9f9f9"/><stop offset=".5833" stop-color="#f9f9f9"/><stop offset=".625" stop-color="#f8f8f8"/><stop offset=".6667" stop-color="#f9f9f9"/><stop offset=".7083" stop-color="#f9f9f9"/><stop offset=".75" stop-color="#f9f9f9"/><stop offset=".7917" stop-color="#fafafa"/><stop offset=".8333" stop-color="#fafafa"/><stop offset=".875" stop-color="#fbfbfb"/><stop offset=".9167" stop-color="#fbfbfb"/><stop offset=".9583" stop-color="#fcfcfc"/><stop offset="1" stop-color="#fdfdfd"/></linearGradient>
<linearGradient id="gD63"><stop offset="0" stop-color="#ffffff"/><stop offset=".0417" stop-color="#ffffff"/><stop offset=".0833" stop-color="#ffffff"/><stop offset=".125" stop-color="#ffffff"/><stop offset=".1667" stop-color="#ffffff"/><stop offset=".2083" stop-color="#fefefe"/><stop offset=".25" stop-color="#fefefe"/><stop offset=".2917" stop-color="#fdfdfd"/><stop offset=".3333" stop-color="#fdfdfd"/><stop offset=".375" stop-color="#fcfcfc"/><stop offset=".4167" stop-color="#fbfbfb"/><stop offset=".4583" stop-color="#fafafa"/><stop offset=".5" stop-color="#fafafa"/><stop offset=".5417" stop-color="#f9f9f9"/><stop offset=".5833" stop-color="#f9f9f9"/><stop offset=".625" stop-color="#f9f9f9"/><stop offset=".6667" stop-color="#f9f9f9"/><stop offset=".7083" stop-color="#fafafa"/><stop offset=".75" stop-color="#fafafa"/><stop offset=".7917" stop-color="#fafafa"/><stop offset=".8333" stop-color="#fbfbfb"/><stop offset=".875" stop-color="#fbfbfb"/><stop offset=".9167" stop-color="#fcfcfc"/><stop offset=".9583" stop-color="#fcfcfc"/><stop offset="1" stop-color="#fdfdfd"/></linearGradient>
<linearGradient id="cbA" gradientUnits="userSpaceOnUse" x1="0" y1="115.3" x2="0" y2="364"><stop offset="0" stop-color="#000080"/><stop offset="0.12" stop-color="#0000ff"/><stop offset="0.38" stop-color="#00ffff"/><stop offset="0.62" stop-color="#ffff00"/><stop offset="0.88" stop-color="#ff0000"/><stop offset="1" stop-color="#800000"/></linearGradient>
<linearGradient id="cbC" gradientUnits="userSpaceOnUse" x1="0" y1="117.5" x2="0" y2="366.1"><stop offset="0" stop-color="#000080"/><stop offset="0.12" stop-color="#0000ff"/><stop offset="0.38" stop-color="#00ffff"/><stop offset="0.62" stop-color="#ffff00"/><stop offset="0.88" stop-color="#ff0000"/><stop offset="1" stop-color="#800000"/></linearGradient>
<linearGradient id="cbB" gradientUnits="userSpaceOnUse" x1="0" y1="485.1" x2="0" y2="733.7"><stop offset="0" stop-color="#000080"/><stop offset="0.12" stop-color="#0000ff"/><stop offset="0.38" stop-color="#00ffff"/><stop offset="0.62" stop-color="#ffff00"/><stop offset="0.88" stop-color="#ff0000"/><stop offset="1" stop-color="#800000"/></linearGradient>
<linearGradient id="cbD" gradientUnits="userSpaceOnUse" x1="0" y1="486.9" x2="0" y2="735.3"><stop offset="0" stop-color="#000080"/><stop offset="0.12" stop-color="#0000ff"/><stop offset="0.38" stop-color="#00ffff"/><stop offset="0.62" stop-color="#ffff00"/><stop offset="0.88" stop-color="#ff0000"/><stop offset="1" stop-color="#800000"/></linearGradient>
</defs>
<rect width="685" height="765" fill="#fff"/>
<!-- panel A heat -->
<g filter="url(#soft2)">
<g clip-path="url(#clipA)"><g filter="url(#jet)" shape-rendering="crispEdges">
<rect x="39" y="103.5" width="245.8" height="4.5" fill="url(#gA0)"/>
<rect x="39" y="107.5" width="245.8" height="4.5" fill="url(#gA1)"/>
<rect x="39" y="111.5" width="245.8" height="4.5" fill="url(#gA2)"/>
<rect x="39" y="115.5" width="245.8" height="4.5" fill="url(#gA3)"/>
<rect x="39" y="119.5" width="245.8" height="4.5" fill="url(#gA4)"/>
<rect x="39" y="123.5" width="245.8" height="4.5" fill="url(#gA5)"/>
<rect x="39" y="127.5" width="245.8" height="4.5" fill="url(#gA6)"/>
<rect x="39" y="131.5" width="245.8" height="4.5" fill="url(#gA7)"/>
<rect x="39" y="135.5" width="245.8" height="4.5" fill="url(#gA8)"/>
<rect x="39" y="139.5" width="245.8" height="4.5" fill="url(#gA9)"/>
<rect x="39" y="143.5" width="245.8" height="4.5" fill="url(#gA10)"/>
<rect x="39" y="147.5" width="245.8" height="4.5" fill="url(#gA11)"/>
<rect x="39" y="151.5" width="245.8" height="4.5" fill="url(#gA12)"/>
<rect x="39" y="155.5" width="245.8" height="4.5" fill="url(#gA13)"/>
<rect x="39" y="159.5" width="245.8" height="4.5" fill="url(#gA14)"/>
<rect x="39" y="163.5" width="245.8" height="4.5" fill="url(#gA15)"/>
<rect x="39" y="167.5" width="245.8" height="4.5" fill="url(#gA16)"/>
<rect x="39" y="171.5" width="245.8" height="4.5" fill="url(#gA17)"/>
<rect x="39" y="175.5" width="245.8" height="4.5" fill="url(#gA18)"/>
<rect x="39" y="179.5" width="245.8" height="4.5" fill="url(#gA19)"/>
<rect x="39" y="183.5" width="245.8" height="4.5" fill="url(#gA20)"/>
<rect x="39" y="187.5" width="245.8" height="4.5" fill="url(#gA21)"/>
<rect x="39" y="191.5" width="245.8" height="4.5" fill="url(#gA22)"/>
<rect x="39" y="195.5" width="245.8" height="4.5" fill="url(#gA23)"/>
<rect x="39" y="199.5" width="245.8" height="4.5" fill="url(#gA24)"/>
<rect x="39" y="203.5" width="245.8" height="4.5" fill="url(#gA25)"/>
<rect x="39" y="207.5" width="245.8" height="4.5" fill="url(#gA26)"/>
<rect x="39" y="211.5" width="245.8" height="4.5" fill="url(#gA27)"/>
<rect x="39" y="215.5" width="245.8" height="4.5" fill="url(#gA28)"/>
<rect x="39" y="219.5" width="245.8" height="4.5" fill="url(#gA29)"/>
<rect x="39" y="223.5" width="245.8" height="4.5" fill="url(#gA30)"/>
<rect x="39" y="227.5" width="245.8" height="4.5" fill="url(#gA31)"/>
<rect x="39" y="231.5" width="245.8" height="4.5" fill="url(#gA32)"/>
<rect x="39" y="235.5" width="245.8" height="4.5" fill="url(#gA33)"/>
<rect x="39" y="239.5" width="245.8" height="4.5" fill="url(#gA34)"/>
<rect x="39" y="243.5" width="245.8" height="4.5" fill="url(#gA35)"/>
<rect x="39" y="247.5" width="245.8" height="4.5" fill="url(#gA36)"/>
<rect x="39" y="251.5" width="245.8" height="4.5" fill="url(#gA37)"/>
<rect x="39" y="255.5" width="245.8" height="4.5" fill="url(#gA38)"/>
<rect x="39" y="259.5" width="245.8" height="4.5" fill="url(#gA39)"/>
<rect x="39" y="263.5" width="245.8" height="4.5" fill="url(#gA40)"/>
<rect x="39" y="267.5" width="245.8" height="4.5" fill="url(#gA41)"/>
<rect x="39" y="271.5" width="245.8" height="4.5" fill="url(#gA42)"/>
<rect x="39" y="275.5" width="245.8" height="4.5" fill="url(#gA43)"/>
<rect x="39" y="279.5" width="245.8" height="4.5" fill="url(#gA44)"/>
<rect x="39" y="283.5" width="245.8" height="4.5" fill="url(#gA45)"/>
<rect x="39" y="287.5" width="245.8" height="4.5" fill="url(#gA46)"/>
<rect x="39" y="291.5" width="245.8" height="4.5" fill="url(#gA47)"/>
<rect x="39" y="295.5" width="245.8" height="4.5" fill="url(#gA48)"/>
<rect x="39" y="299.5" width="245.8" height="4.5" fill="url(#gA49)"/>
<rect x="39" y="303.5" width="245.8" height="4.5" fill="url(#gA50)"/>
<rect x="39" y="307.5" width="245.8" height="4.5" fill="url(#gA51)"/>
<rect x="39" y="311.5" width="245.8" height="4.5" fill="url(#gA52)"/>
<rect x="39" y="315.5" width="245.8" height="4.5" fill="url(#gA53)"/>
<rect x="39" y="319.5" width="245.8" height="4.5" fill="url(#gA54)"/>
<rect x="39" y="323.5" width="245.8" height="4.5" fill="url(#gA55)"/>
<rect x="39" y="327.5" width="245.8" height="4.5" fill="url(#gA56)"/>
<rect x="39" y="331.5" width="245.8" height="4.5" fill="url(#gA57)"/>
<rect x="39" y="335.5" width="245.8" height="4.5" fill="url(#gA58)"/>
<rect x="39" y="339.5" width="245.8" height="4.5" fill="url(#gA59)"/>
<rect x="39" y="343.5" width="245.8" height="4.5" fill="url(#gA60)"/>
<rect x="39" y="347.5" width="245.8" height="4.5" fill="url(#gA61)"/>
<rect x="39" y="351.5" width="245.8" height="4.5" fill="url(#gA62)"/>
<rect x="39" y="355.5" width="245.8" height="4.5" fill="url(#gA63)"/>
</g></g>
<path d="M50 250.31h3.22v2.33h-3.22zM50 252.6h3.22v2.33h-3.22zM50 254.89h5.44v2.33h-5.44zM50 257.17h5.44v2.33h-5.44zM50 259.46h7.65v2.33h-7.65zM50 261.74h7.65v2.33h-7.65zM50 264.02h9.87v2.33h-9.87zM50 266.31h9.87v2.33h-9.87zM50 268.6h9.87v2.33h-9.87zM50 270.88h12.09v2.33h-12.09zM50 273.17h12.09v2.33h-12.09zM50 275.45h12.09v2.33h-12.09zM50 277.74h14.31v2.33h-14.31zM50 280.02h14.31v2.33h-14.31zM50 282.31h14.31v2.33h-14.31zM50 284.59h14.31v2.33h-14.31zM50 286.88h16.53v2.33h-16.53zM50 289.16h16.53v2.33h-16.53zM50 291.45h16.53v2.33h-16.53zM50 293.73h18.74v2.33h-18.74zM50 296.01h18.74v2.33h-18.74zM50 298.3h18.74v2.33h-18.74zM50 300.59h20.96v2.33h-20.96zM50 302.87h20.96v2.33h-20.96zM50 305.15h20.96v2.33h-20.96zM50 307.44h23.18v2.33h-23.18zM50 309.73h23.18v2.33h-23.18zM50 312.01h25.4v2.33h-25.4zM50 314.3h25.4v2.33h-25.4zM50 316.58h27.62v2.33h-27.62zM50 318.87h27.62v2.33h-27.62zM50 321.15h29.83v2.33h-29.83zM50 323.44h29.83v2.33h-29.83zM50 325.72h32.05v2.33h-32.05zM50 328h32.05v2.33h-32.05zM50 330.29h34.27v2.33h-34.27zM50 332.58h36.49v2.33h-36.49zM50 334.86h38.71v2.33h-38.71zM50 337.14h40.92v2.33h-40.92zM50 339.43h43.14v2.33h-43.14zM50 341.72h47.58v2.33h-47.58zM246.18 341.71h2.27v2.58h-2.27zM248.4 341.71h2.27v2.58h-2.27zM250.62 341.71h2.27v2.58h-2.27zM252.84 339.43h2.27v4.87h-2.27zM255.06 339.43h2.27v4.87h-2.27zM257.27 339.43h2.27v4.87h-2.27zM259.49 339.43h2.27v4.87h-2.27zM261.71 337.14h2.27v7.16h-2.27zM263.93 337.14h2.27v7.16h-2.27zM266.15 334.86h2.27v9.44h-2.27zM268.36 334.86h2.27v9.44h-2.27zM270.58 332.57h2.27v11.73h-2.27z" fill="#fff" shape-rendering="crispEdges"/>
</g>
<!-- panel C heat -->
<g filter="url(#soft2)">
<g clip-path="url(#clipC)"><g filter="url(#jet)" shape-rendering="crispEdges">
<rect x="380.8" y="105.6" width="245.4" height="4.5" fill="url(#gC0)"/>
<rect x="380.8" y="109.6" width="245.4" height="4.5" fill="url(#gC1)"/>
<rect x="380.8" y="113.6" width="245.4" height="4.5" fill="url(#gC2)"/>
<rect x="380.8" y="117.6" width="245.4" height="4.5" fill="url(#gC3)"/>
<rect x="380.8" y="121.6" width="245.4" height="4.5" fill="url(#gC4)"/>
<rect x="380.8" y="125.6" width="245.4" height="4.5" fill="url(#gC5)"/>
<rect x="380.8" y="129.6" width="245.4" height="4.5" fill="url(#gC6)"/>
<rect x="380.8" y="133.6" width="245.4" height="4.5" fill="url(#gC7)"/>
<rect x="380.8" y="137.6" width="245.4" height="4.5" fill="url(#gC8)"/>
<rect x="380.8" y="141.6" width="245.4" height="4.5" fill="url(#gC9)"/>
<rect x="380.8" y="145.6" width="245.4" height="4.5" fill="url(#gC10)"/>
<rect x="380.8" y="149.6" width="245.4" height="4.5" fill="url(#gC11)"/>
<rect x="380.8" y="153.6" width="245.4" height="4.5" fill="url(#gC12)"/>
<rect x="380.8" y="157.6" width="245.4" height="4.5" fill="url(#gC13)"/>
<rect x="380.8" y="161.6" width="245.4" height="4.5" fill="url(#gC14)"/>
<rect x="380.8" y="165.6" width="245.4" height="4.5" fill="url(#gC15)"/>
<rect x="380.8" y="169.6" width="245.4" height="4.5" fill="url(#gC16)"/>
<rect x="380.8" y="173.6" width="245.4" height="4.5" fill="url(#gC17)"/>
<rect x="380.8" y="177.6" width="245.4" height="4.5" fill="url(#gC18)"/>
<rect x="380.8" y="181.6" width="245.4" height="4.5" fill="url(#gC19)"/>
<rect x="380.8" y="185.6" width="245.4" height="4.5" fill="url(#gC20)"/>
<rect x="380.8" y="189.6" width="245.4" height="4.5" fill="url(#gC21)"/>
<rect x="380.8" y="193.6" width="245.4" height="4.5" fill="url(#gC22)"/>
<rect x="380.8" y="197.6" width="245.4" height="4.5" fill="url(#gC23)"/>
<rect x="380.8" y="201.6" width="245.4" height="4.5" fill="url(#gC24)"/>
<rect x="380.8" y="205.6" width="245.4" height="4.5" fill="url(#gC25)"/>
<rect x="380.8" y="209.6" width="245.4" height="4.5" fill="url(#gC26)"/>
<rect x="380.8" y="213.6" width="245.4" height="4.5" fill="url(#gC27)"/>
<rect x="380.8" y="217.6" width="245.4" height="4.5" fill="url(#gC28)"/>
<rect x="380.8" y="221.6" width="245.4" height="4.5" fill="url(#gC29)"/>
<rect x="380.8" y="225.6" width="245.4" height="4.5" fill="url(#gC30)"/>
<rect x="380.8" y="229.6" width="245.4" height="4.5" fill="url(#gC31)"/>
<rect x="380.8" y="233.6" width="245.4" height="4.5" fill="url(#gC32)"/>
<rect x="380.8" y="237.6" width="245.4" height="4.5" fill="url(#gC33)"/>
<rect x="380.8" y="241.6" width="245.4" height="4.5" fill="url(#gC34)"/>
<rect x="380.8" y="245.6" width="245.4" height="4.5" fill="url(#gC35)"/>
<rect x="380.8" y="249.6" width="245.4" height="4.5" fill="url(#gC36)"/>
<rect x="380.8" y="253.6" width="245.4" height="4.5" fill="url(#gC37)"/>
<rect x="380.8" y="257.6" width="245.4" height="4.5" fill="url(#gC38)"/>
<rect x="380.8" y="261.6" width="245.4" height="4.5" fill="url(#gC39)"/>
<rect x="380.8" y="265.6" width="245.4" height="4.5" fill="url(#gC40)"/>
<rect x="380.8" y="269.6" width="245.4" height="4.5" fill="url(#gC41)"/>
<rect x="380.8" y="273.6" width="245.4" height="4.5" fill="url(#gC42)"/>
<rect x="380.8" y="277.6" width="245.4" height="4.5" fill="url(#gC43)"/>
<rect x="380.8" y="281.6" width="245.4" height="4.5" fill="url(#gC44)"/>
<rect x="380.8" y="285.6" width="245.4" height="4.5" fill="url(#gC45)"/>
<rect x="380.8" y="289.6" width="245.4" height="4.5" fill="url(#gC46)"/>
<rect x="380.8" y="293.6" width="245.4" height="4.5" fill="url(#gC47)"/>
<rect x="380.8" y="297.6" width="245.4" height="4.5" fill="url(#gC48)"/>
<rect x="380.8" y="301.6" width="245.4" height="4.5" fill="url(#gC49)"/>
<rect x="380.8" y="305.6" width="245.4" height="4.5" fill="url(#gC50)"/>
<rect x="380.8" y="309.6" width="245.4" height="4.5" fill="url(#gC51)"/>
<rect x="380.8" y="313.6" width="245.4" height="4.5" fill="url(#gC52)"/>
<rect x="380.8" y="317.6" width="245.4" height="4.5" fill="url(#gC53)"/>
<rect x="380.8" y="321.6" width="245.4" height="4.5" fill="url(#gC54)"/>
<rect x="380.8" y="325.6" width="245.4" height="4.5" fill="url(#gC55)"/>
<rect x="380.8" y="329.6" width="245.4" height="4.5" fill="url(#gC56)"/>
<rect x="380.8" y="333.6" width="245.4" height="4.5" fill="url(#gC57)"/>
<rect x="380.8" y="337.6" width="245.4" height="4.5" fill="url(#gC58)"/>
<rect x="380.8" y="341.6" width="245.4" height="4.5" fill="url(#gC59)"/>
<rect x="380.8" y="345.6" width="245.4" height="4.5" fill="url(#gC60)"/>
<rect x="380.8" y="349.6" width="245.4" height="4.5" fill="url(#gC61)"/>
<rect x="380.8" y="353.6" width="245.4" height="4.5" fill="url(#gC62)"/>
<rect x="380.8" y="357.6" width="245.4" height="4.5" fill="url(#gC63)"/>
</g></g>
<path d="M391.8 117h27.4v2.95h-27.4zM391.8 119.9h25.5v2.35h-25.5zM391.8 122.2h23.9v3.95h-23.9zM391.8 126.1h22.8v4.75h-22.8zM391.8 130.8h20.4v31.95h-20.4zM391.8 162.7h22.8v15.25h-22.8zM391.8 177.9h24.7v11.85h-24.7zM391.8 189.7h22.8v25.15h-22.8zM391.8 214.8h25.1v28.65h-25.1zM391.8 243.4h22.7v17.05h-22.7zM391.8 260.4h25.2v9.65h-25.2zM391.8 270h27.1v5.35h-27.1zM391.8 275.3h29.2v5.35h-29.2zM391.8 280.6h31.5v5.25h-31.5zM391.8 285.8h33.6v4.45h-33.6zM391.8 290.2h35.9v5.25h-35.9zM391.8 295.4h38v4.45h-38zM391.8 299.8h40.1v4.45h-40.1zM391.8 304.2h42.4v5.35h-42.4zM391.8 309.5h44.5v4.35h-44.5zM391.8 313.8h46.7v4.45h-46.7zM391.8 318.2h51.1v4.45h-51.1zM391.8 322.6h55.5v3.55h-55.5zM391.8 326.1h59.9v3.55h-59.9zM391.8 329.6h66.9v3.55h-66.9zM391.8 333.1h74.8v2.65h-74.8zM391.8 335.7h85.3v2.75h-85.3zM391.8 338.4h95.8v2.25h-95.8zM391.8 340.6h105.8v2.05h-105.8zM391.8 342.6h106.2v3.7h-106.2zM497.6 342.6h56.95v3.7h-56.95zM554.5 340.7h15.25v5.6h-15.25zM569.7 338.8h15.25v7.5h-15.25zM584.9 336.6h17.15v9.7h-17.15zM602 334.7h6.65v11.6h-6.65zM608.6 332.8h2.95v13.5h-2.95zM611.5 330.5h3.25v15.8h-3.25z" fill="#fff" shape-rendering="crispEdges"/>
</g>
<!-- panel B heat -->
<g filter="url(#soft2)">
<g clip-path="url(#clipB)"><g filter="url(#jet)" shape-rendering="crispEdges">
<rect x="42.7" y="472.7" width="245.9" height="4.5" fill="url(#gB0)"/>
<rect x="42.7" y="476.7" width="245.9" height="4.5" fill="url(#gB1)"/>
<rect x="42.7" y="480.7" width="245.9" height="4.5" fill="url(#gB2)"/>
<rect x="42.7" y="484.7" width="245.9" height="4.5" fill="url(#gB3)"/>
<rect x="42.7" y="488.7" width="245.9" height="4.5" fill="url(#gB4)"/>
<rect x="42.7" y="492.7" width="245.9" height="4.5" fill="url(#gB5)"/>
<rect x="42.7" y="496.7" width="245.9" height="4.5" fill="url(#gB6)"/>
<rect x="42.7" y="500.7" width="245.9" height="4.5" fill="url(#gB7)"/>
<rect x="42.7" y="504.7" width="245.9" height="4.5" fill="url(#gB8)"/>
<rect x="42.7" y="508.7" width="245.9" height="4.5" fill="url(#gB9)"/>
<rect x="42.7" y="512.7" width="245.9" height="4.5" fill="url(#gB10)"/>
<rect x="42.7" y="516.7" width="245.9" height="4.5" fill="url(#gB11)"/>
<rect x="42.7" y="520.7" width="245.9" height="4.5" fill="url(#gB12)"/>
<rect x="42.7" y="524.7" width="245.9" height="4.5" fill="url(#gB13)"/>
<rect x="42.7" y="528.7" width="245.9" height="4.5" fill="url(#gB14)"/>
<rect x="42.7" y="532.7" width="245.9" height="4.5" fill="url(#gB15)"/>
<rect x="42.7" y="536.7" width="245.9" height="4.5" fill="url(#gB16)"/>
<rect x="42.7" y="540.7" width="245.9" height="4.5" fill="url(#gB17)"/>
<rect x="42.7" y="544.7" width="245.9" height="4.5" fill="url(#gB18)"/>
<rect x="42.7" y="548.7" width="245.9" height="4.5" fill="url(#gB19)"/>
<rect x="42.7" y="552.7" width="245.9" height="4.5" fill="url(#gB20)"/>
<rect x="42.7" y="556.7" width="245.9" height="4.5" fill="url(#gB21)"/>
<rect x="42.7" y="560.7" width="245.9" height="4.5" fill="url(#gB22)"/>
<rect x="42.7" y="564.7" width="245.9" height="4.5" fill="url(#gB23)"/>
<rect x="42.7" y="568.7" width="245.9" height="4.5" fill="url(#gB24)"/>
<rect x="42.7" y="572.7" width="245.9" height="4.5" fill="url(#gB25)"/>
<rect x="42.7" y="576.7" width="245.9" height="4.5" fill="url(#gB26)"/>
<rect x="42.7" y="580.7" width="245.9" height="4.5" fill="url(#gB27)"/>
<rect x="42.7" y="584.7" width="245.9" height="4.5" fill="url(#gB28)"/>
<rect x="42.7" y="588.7" width="245.9" height="4.5" fill="url(#gB29)"/>
<rect x="42.7" y="592.7" width="245.9" height="4.5" fill="url(#gB30)"/>
<rect x="42.7" y="596.7" width="245.9" height="4.5" fill="url(#gB31)"/>
<rect x="42.7" y="600.7" width="245.9" height="4.5" fill="url(#gB32)"/>
<rect x="42.7" y="604.7" width="245.9" height="4.5" fill="url(#gB33)"/>
<rect x="42.7" y="608.7" width="245.9" height="4.5" fill="url(#gB34)"/>
<rect x="42.7" y="612.7" width="245.9" height="4.5" fill="url(#gB35)"/>
<rect x="42.7" y="616.7" width="245.9" height="4.5" fill="url(#gB36)"/>
<rect x="42.7" y="620.7" width="245.9" height="4.5" fill="url(#gB37)"/>
<rect x="42.7" y="624.7" width="245.9" height="4.5" fill="url(#gB38)"/>
<rect x="42.7" y="628.7" width="245.9" height="4.5" fill="url(#gB39)"/>
<rect x="42.7" y="632.7" width="245.9" height="4.5" fill="url(#gB40)"/>
<rect x="42.7" y="636.7" width="245.9" height="4.5" fill="url(#gB41)"/>
<rect x="42.7" y="640.7" width="245.9" height="4.5" fill="url(#gB42)"/>
<rect x="42.7" y="644.7" width="245.9" height="4.5" fill="url(#gB43)"/>
<rect x="42.7" y="648.7" width="245.9" height="4.5" fill="url(#gB44)"/>
<rect x="42.7" y="652.7" width="245.9" height="4.5" fill="url(#gB45)"/>
<rect x="42.7" y="656.7" width="245.9" height="4.5" fill="url(#gB46)"/>
<rect x="42.7" y="660.7" width="245.9" height="4.5" fill="url(#gB47)"/>
<rect x="42.7" y="664.7" width="245.9" height="4.5" fill="url(#gB48)"/>
<rect x="42.7" y="668.7" width="245.9" height="4.5" fill="url(#gB49)"/>
<rect x="42.7" y="672.7" width="245.9" height="4.5" fill="url(#gB50)"/>
<rect x="42.7" y="676.7" width="245.9" height="4.5" fill="url(#gB51)"/>
<rect x="42.7" y="680.7" width="245.9" height="4.5" fill="url(#gB52)"/>
<rect x="42.7" y="684.7" width="245.9" height="4.5" fill="url(#gB53)"/>
<rect x="42.7" y="688.7" width="245.9" height="4.5" fill="url(#gB54)"/>
<rect x="42.7" y="692.7" width="245.9" height="4.5" fill="url(#gB55)"/>
<rect x="42.7" y="696.7" width="245.9" height="4.5" fill="url(#gB56)"/>
<rect x="42.7" y="700.7" width="245.9" height="4.5" fill="url(#gB57)"/>
<rect x="42.7" y="704.7" width="245.9" height="4.5" fill="url(#gB58)"/>
<rect x="42.7" y="708.7" width="245.9" height="4.5" fill="url(#gB59)"/>
<rect x="42.7" y="712.7" width="245.9" height="4.5" fill="url(#gB60)"/>
<rect x="42.7" y="716.7" width="245.9" height="4.5" fill="url(#gB61)"/>
<rect x="42.7" y="720.7" width="245.9" height="4.5" fill="url(#gB62)"/>
<rect x="42.7" y="724.7" width="245.9" height="4.5" fill="url(#gB63)"/>
</g></g>
</g>
<!-- panel D heat -->
<g filter="url(#soft2)">
<g clip-path="url(#clipD)"><g filter="url(#jet)" shape-rendering="crispEdges">
<rect x="382" y="474.4" width="245.9" height="4.5" fill="url(#gD0)"/>
<rect x="382" y="478.4" width="245.9" height="4.5" fill="url(#gD1)"/>
<rect x="382" y="482.4" width="245.9" height="4.5" fill="url(#gD2)"/>
<rect x="382" y="486.4" width="245.9" height="4.5" fill="url(#gD3)"/>
<rect x="382" y="490.4" width="245.9" height="4.5" fill="url(#gD4)"/>
<rect x="382" y="494.4" width="245.9" height="4.5" fill="url(#gD5)"/>
<rect x="382" y="498.4" width="245.9" height="4.5" fill="url(#gD6)"/>
<rect x="382" y="502.4" width="245.9" height="4.5" fill="url(#gD7)"/>
<rect x="382" y="506.4" width="245.9" height="4.5" fill="url(#gD8)"/>
<rect x="382" y="510.4" width="245.9" height="4.5" fill="url(#gD9)"/>
<rect x="382" y="514.4" width="245.9" height="4.5" fill="url(#gD10)"/>
<rect x="382" y="518.4" width="245.9" height="4.5" fill="url(#gD11)"/>
<rect x="382" y="522.4" width="245.9" height="4.5" fill="url(#gD12)"/>
<rect x="382" y="526.4" width="245.9" height="4.5" fill="url(#gD13)"/>
<rect x="382" y="530.4" width="245.9" height="4.5" fill="url(#gD14)"/>
<rect x="382" y="534.4" width="245.9" height="4.5" fill="url(#gD15)"/>
<rect x="382" y="538.4" width="245.9" height="4.5" fill="url(#gD16)"/>
<rect x="382" y="542.4" width="245.9" height="4.5" fill="url(#gD17)"/>
<rect x="382" y="546.4" width="245.9" height="4.5" fill="url(#gD18)"/>
<rect x="382" y="550.4" width="245.9" height="4.5" fill="url(#gD19)"/>
<rect x="382" y="554.4" width="245.9" height="4.5" fill="url(#gD20)"/>
<rect x="382" y="558.4" width="245.9" height="4.5" fill="url(#gD21)"/>
<rect x="382" y="562.4" width="245.9" height="4.5" fill="url(#gD22)"/>
<rect x="382" y="566.4" width="245.9" height="4.5" fill="url(#gD23)"/>
<rect x="382" y="570.4" width="245.9" height="4.5" fill="url(#gD24)"/>
<rect x="382" y="574.4" width="245.9" height="4.5" fill="url(#gD25)"/>
<rect x="382" y="578.4" width="245.9" height="4.5" fill="url(#gD26)"/>
<rect x="382" y="582.4" width="245.9" height="4.5" fill="url(#gD27)"/>
<rect x="382" y="586.4" width="245.9" height="4.5" fill="url(#gD28)"/>
<rect x="382" y="590.4" width="245.9" height="4.5" fill="url(#gD29)"/>
<rect x="382" y="594.4" width="245.9" height="4.5" fill="url(#gD30)"/>
<rect x="382" y="598.4" width="245.9" height="4.5" fill="url(#gD31)"/>
<rect x="382" y="602.4" width="245.9" height="4.5" fill="url(#gD32)"/>
<rect x="382" y="606.4" width="245.9" height="4.5" fill="url(#gD33)"/>
<rect x="382" y="610.4" width="245.9" height="4.5" fill="url(#gD34)"/>
<rect x="382" y="614.4" width="245.9" height="4.5" fill="url(#gD35)"/>
<rect x="382" y="618.4" width="245.9" height="4.5" fill="url(#gD36)"/>
<rect x="382" y="622.4" width="245.9" height="4.5" fill="url(#gD37)"/>
<rect x="382" y="626.4" width="245.9" height="4.5" fill="url(#gD38)"/>
<rect x="382" y="630.4" width="245.9" height="4.5" fill="url(#gD39)"/>
<rect x="382" y="634.4" width="245.9" height="4.5" fill="url(#gD40)"/>
<rect x="382" y="638.4" width="245.9" height="4.5" fill="url(#gD41)"/>
<rect x="382" y="642.4" width="245.9" height="4.5" fill="url(#gD42)"/>
<rect x="382" y="646.4" width="245.9" height="4.5" fill="url(#gD43)"/>
<rect x="382" y="650.4" width="245.9" height="4.5" fill="url(#gD44)"/>
<rect x="382" y="654.4" width="245.9" height="4.5" fill="url(#gD45)"/>
<rect x="382" y="658.4" width="245.9" height="4.5" fill="url(#gD46)"/>
<rect x="382" y="662.4" width="245.9" height="4.5" fill="url(#gD47)"/>
<rect x="382" y="666.4" width="245.9" height="4.5" fill="url(#gD48)"/>
<rect x="382" y="670.4" width="245.9" height="4.5" fill="url(#gD49)"/>
<rect x="382" y="674.4" width="245.9" height="4.5" fill="url(#gD50)"/>
<rect x="382" y="678.4" width="245.9" height="4.5" fill="url(#gD51)"/>
<rect x="382" y="682.4" width="245.9" height="4.5" fill="url(#gD52)"/>
<rect x="382" y="686.4" width="245.9" height="4.5" fill="url(#gD53)"/>
<rect x="382" y="690.4" width="245.9" height="4.5" fill="url(#gD54)"/>
<rect x="382" y="694.4" width="245.9" height="4.5" fill="url(#gD55)"/>
<rect x="382" y="698.4" width="245.9" height="4.5" fill="url(#gD56)"/>
<rect x="382" y="702.4" width="245.9" height="4.5" fill="url(#gD57)"/>
<rect x="382" y="706.4" width="245.9" height="4.5" fill="url(#gD58)"/>
<rect x="382" y="710.4" width="245.9" height="4.5" fill="url(#gD59)"/>
<rect x="382" y="714.4" width="245.9" height="4.5" fill="url(#gD60)"/>
<rect x="382" y="718.4" width="245.9" height="4.5" fill="url(#gD61)"/>
<rect x="382" y="722.4" width="245.9" height="4.5" fill="url(#gD62)"/>
<rect x="382" y="726.4" width="245.9" height="4.5" fill="url(#gD63)"/>
</g></g>
</g>
<g filter="url(#soft)">
<!-- panel A axes -->
<path d="M50.7 115.5V344.2M50.7 344.2H272.5" stroke="#333" stroke-width="1.1" fill="none"/>
<path d="M50.7 115.5H45.7M50.7 172.62H45.7M50.7 229.75H45.7M50.7 286.88H45.7M50.7 344H45.7M51 344.2V349.2M87.92 344.2V349.2M124.83 344.2V349.2M161.75 344.2V349.2M198.67 344.2V349.2M235.58 344.2V349.2M272.5 344.2V349.2" stroke="#666" stroke-width="0.9" fill="none"/>
<text transform="translate(51 362.4)" class="t" text-anchor="middle">40</text>
<text transform="translate(87.92 362.4)" class="t" text-anchor="middle">50</text>
<text transform="translate(124.83 362.4)" class="t" text-anchor="middle">60</text>
<text transform="translate(161.75 362.4)" class="t" text-anchor="middle">70</text>
<text transform="translate(198.67 362.4)" class="t" text-anchor="middle">80</text>
<text transform="translate(235.58 362.4)" class="t" text-anchor="middle">90</text>
<g transform="translate(272.5 362.4)"><text class="t" text-anchor="middle"><tspan class="h">1</tspan>00</text><path class="o" transform="translate(-8.17 0) scale(0.00479 -0.00479)" d="M763 0H583V1147Q518 1085 412.5 1023Q307 961 223 930V1104Q374 1175 487 1276Q600 1377 647 1472H763Z"/></g>
<g transform="translate(39.4 115.5) rotate(-90)"><text class="t" text-anchor="middle"><tspan class="h">1</tspan></text><path class="o" transform="translate(-2.72 0) scale(0.00479 -0.00479)" d="M763 0H583V1147Q518 1085 412.5 1023Q307 961 223 930V1104Q374 1175 487 1276Q600 1377 647 1472H763Z"/></g>
<text transform="translate(39.4 172.62) rotate(-90)" class="t" text-anchor="middle">0.5</text>
<text transform="translate(39.4 229.75) rotate(-90)" class="t" text-anchor="middle">0</text>
<text transform="translate(39.4 286.88) rotate(-90)" class="t" text-anchor="middle">−0.5</text>
<g transform="translate(39.4 344) rotate(-90)"><text class="t" text-anchor="middle">−<tspan class="h">1</tspan></text><path class="o" transform="translate(0.14 0) scale(0.00479 -0.00479)" d="M763 0H583V1147Q518 1085 412.5 1023Q307 961 223 930V1104Q374 1175 487 1276Q600 1377 647 1472H763Z"/></g>
<text x="172.8" y="390.8" class="ax" text-anchor="middle">CPP (mmHg)</text>
<text transform="translate(20.3 225) rotate(-90)" class="ax" text-anchor="middle">PRx (coefficient)</text>
<rect x="293.8" y="117.9" width="18.4" height="246.2" fill="url(#cbA)"/>
<text transform="translate(327.7 118.9)" class="t" text-anchor="middle">0.3</text>
<text transform="translate(327.7 160.35)" class="t" text-anchor="middle">0.2</text>
<g transform="translate(327.7 201.8)"><text class="t" text-anchor="middle">0.<tspan class="h">1</tspan></text><path class="o" transform="translate(1.36 0) scale(0.00479 -0.00479)" d="M763 0H583V1147Q518 1085 412.5 1023Q307 961 223 930V1104Q374 1175 487 1276Q600 1377 647 1472H763Z"/></g>
<text transform="translate(327.7 243.25)" class="t" text-anchor="middle">0</text>
<g transform="translate(327.7 284.7)"><text class="t" text-anchor="middle">−0.<tspan class="h">1</tspan></text><path class="o" transform="translate(4.22 0) scale(0.00479 -0.00479)" d="M763 0H583V1147Q518 1085 412.5 1023Q307 961 223 930V1104Q374 1175 487 1276Q600 1377 647 1472H763Z"/></g>
<text transform="translate(327.7 326.15)" class="t" text-anchor="middle">−0.2</text>
<text transform="translate(327.7 367.6)" class="t" text-anchor="middle">−0.3</text>
<text x="46" y="82.3" class="big">A</text>
<!-- panel C axes -->
<path d="M392.5 117.6V346.2M392.5 346.2H613.2" stroke="#333" stroke-width="1.1" fill="none"/>
<path d="M392.5 117.6H387.5M392.5 174.7H387.5M392.5 231.8H387.5M392.5 288.9H387.5M392.5 346H387.5M392.8 346.2V351.2M429.53 346.2V351.2M466.27 346.2V351.2M503 346.2V351.2M539.73 346.2V351.2M576.47 346.2V351.2M613.2 346.2V351.2" stroke="#666" stroke-width="0.9" fill="none"/>
<text transform="translate(392.8 364.4)" class="t" text-anchor="middle">40</text>
<text transform="translate(429.53 364.4)" class="t" text-anchor="middle">50</text>
<text transform="translate(466.27 364.4)" class="t" text-anchor="middle">60</text>
<text transform="translate(503 364.4)" class="t" text-anchor="middle">70</text>
<text transform="translate(539.73 364.4)" class="t" text-anchor="middle">80</text>
<text transform="translate(576.47 364.4)" class="t" text-anchor="middle">90</text>
<g transform="translate(613.2 364.4)"><text class="t" text-anchor="middle"><tspan class="h">1</tspan>00</text><path class="o" transform="translate(-8.17 0) scale(0.00479 -0.00479)" d="M763 0H583V1147Q518 1085 412.5 1023Q307 961 223 930V1104Q374 1175 487 1276Q600 1377 647 1472H763Z"/></g>
<g transform="translate(381.8 117.6) rotate(-90)"><text class="t" text-anchor="middle"><tspan class="h">1</tspan></text><path class="o" transform="translate(-2.72 0) scale(0.00479 -0.00479)" d="M763 0H583V1147Q518 1085 412.5 1023Q307 961 223 930V1104Q374 1175 487 1276Q600 1377 647 1472H763Z"/></g>
<text transform="translate(381.8 174.7) rotate(-90)" class="t" text-anchor="middle">0.5</text>
<text transform="translate(381.8 231.8) rotate(-90)" class="t" text-anchor="middle">0</text>
<text transform="translate(381.8 288.9) rotate(-90)" class="t" text-anchor="middle">−0.5</text>
<g transform="translate(381.8 346) rotate(-90)"><text class="t" text-anchor="middle">−<tspan class="h">1</tspan></text><path class="o" transform="translate(0.14 0) scale(0.00479 -0.00479)" d="M763 0H583V1147Q518 1085 412.5 1023Q307 961 223 930V1104Q374 1175 487 1276Q600 1377 647 1472H763Z"/></g>
<text x="510.7" y="391.1" class="ax" text-anchor="middle">CPP (mmHg)</text>
<text transform="translate(364.7 225) rotate(-90)" class="ax" text-anchor="middle">PRx (coefficient)</text>
<rect x="635.3" y="120.3" width="18.3" height="245.5" fill="url(#cbC)"/>
<text transform="translate(669.3 121.1)" class="t" text-anchor="middle">0.3</text>
<text transform="translate(669.3 162.53)" class="t" text-anchor="middle">0.2</text>
<g transform="translate(669.3 203.97)"><text class="t" text-anchor="middle">0.<tspan class="h">1</tspan></text><path class="o" transform="translate(1.36 0) scale(0.00479 -0.00479)" d="M763 0H583V1147Q518 1085 412.5 1023Q307 961 223 930V1104Q374 1175 487 1276Q600 1377 647 1472H763Z"/></g>
<text transform="translate(669.3 245.4)" class="t" text-anchor="middle">0</text>
<g transform="translate(669.3 286.83)"><text class="t" text-anchor="middle">−0.<tspan class="h">1</tspan></text><path class="o" transform="translate(4.22 0) scale(0.00479 -0.00479)" d="M763 0H583V1147Q518 1085 412.5 1023Q307 961 223 930V1104Q374 1175 487 1276Q600 1377 647 1472H763Z"/></g>
<text transform="translate(669.3 328.27)" class="t" text-anchor="middle">−0.2</text>
<text transform="translate(669.3 369.7)" class="t" text-anchor="middle">−0.3</text>
<text x="385.6" y="82.3" class="big">C</text>
<!-- panel B axes -->
<path d="M54.4 484.7V713.6M54.4 713.6H275.7" stroke="#333" stroke-width="1.1" fill="none"/>
<path d="M54.4 484.7H49.4M54.4 541.88H49.4M54.4 599.05H49.4M54.4 656.22H49.4M54.4 713.4H49.4M54.7 713.6V718.6M91.53 713.6V718.6M128.37 713.6V718.6M165.2 713.6V718.6M202.03 713.6V718.6M238.87 713.6V718.6M275.7 713.6V718.6" stroke="#666" stroke-width="0.9" fill="none"/>
<text transform="translate(54.7 731.8)" class="t" text-anchor="middle">40</text>
<text transform="translate(91.53 731.8)" class="t" text-anchor="middle">50</text>
<text transform="translate(128.37 731.8)" class="t" text-anchor="middle">60</text>
<text transform="translate(165.2 731.8)" class="t" text-anchor="middle">70</text>
<text transform="translate(202.03 731.8)" class="t" text-anchor="middle">80</text>
<text transform="translate(238.87 731.8)" class="t" text-anchor="middle">90</text>
<g transform="translate(275.7 731.8)"><text class="t" text-anchor="middle"><tspan class="h">1</tspan>00</text><path class="o" transform="translate(-8.17 0) scale(0.00479 -0.00479)" d="M763 0H583V1147Q518 1085 412.5 1023Q307 961 223 930V1104Q374 1175 487 1276Q600 1377 647 1472H763Z"/></g>
<g transform="translate(43.2 484.7) rotate(-90)"><text class="t" text-anchor="middle"><tspan class="h">1</tspan></text><path class="o" transform="translate(-2.72 0) scale(0.00479 -0.00479)" d="M763 0H583V1147Q518 1085 412.5 1023Q307 961 223 930V1104Q374 1175 487 1276Q600 1377 647 1472H763Z"/></g>
<text transform="translate(43.2 541.88) rotate(-90)" class="t" text-anchor="middle">0.5</text>
<text transform="translate(43.2 599.05) rotate(-90)" class="t" text-anchor="middle">0</text>
<text transform="translate(43.2 656.22) rotate(-90)" class="t" text-anchor="middle">−0.5</text>
<g transform="translate(43.2 713.4) rotate(-90)"><text class="t" text-anchor="middle">−<tspan class="h">1</tspan></text><path class="o" transform="translate(0.14 0) scale(0.00479 -0.00479)" d="M763 0H583V1147Q518 1085 412.5 1023Q307 961 223 930V1104Q374 1175 487 1276Q600 1377 647 1472H763Z"/></g>
<text x="171.1" y="760" class="ax" text-anchor="middle">CPP (mmHg)</text>
<text transform="translate(24.8 589.1) rotate(-90)" class="ax" text-anchor="middle">PRx (coefficient)</text>
<rect x="297.7" y="487.7" width="18.2" height="245.7" fill="url(#cbB)"/>
<g transform="translate(331.4 488.7)"><text class="t" text-anchor="middle"><tspan class="h">1</tspan></text><path class="o" transform="translate(-2.72 0) scale(0.00479 -0.00479)" d="M763 0H583V1147Q518 1085 412.5 1023Q307 961 223 930V1104Q374 1175 487 1276Q600 1377 647 1472H763Z"/></g>
<text transform="translate(331.4 737.3)" class="t" text-anchor="middle">0</text>
<text x="43" y="446.3" class="big">B</text>
<!-- panel D axes -->
<path d="M393.7 486.4V715.2M393.7 715.2H615.2" stroke="#333" stroke-width="1.1" fill="none"/>
<path d="M393.7 486.4H388.7M393.7 543.55H388.7M393.7 600.7H388.7M393.7 657.85H388.7M393.7 715H388.7M394 715.2V720.2M430.87 715.2V720.2M467.73 715.2V720.2M504.6 715.2V720.2M541.47 715.2V720.2M578.33 715.2V720.2M615.2 715.2V720.2" stroke="#666" stroke-width="0.9" fill="none"/>
<text transform="translate(394 733.4)" class="t" text-anchor="middle">40</text>
<text transform="translate(430.87 733.4)" class="t" text-anchor="middle">50</text>
<text transform="translate(467.73 733.4)" class="t" text-anchor="middle">60</text>
<text transform="translate(504.6 733.4)" class="t" text-anchor="middle">70</text>
<text transform="translate(541.47 733.4)" class="t" text-anchor="middle">80</text>
<text transform="translate(578.33 733.4)" class="t" text-anchor="middle">90</text>
<g transform="translate(615.2 733.4)"><text class="t" text-anchor="middle"><tspan class="h">1</tspan>00</text><path class="o" transform="translate(-8.17 0) scale(0.00479 -0.00479)" d="M763 0H583V1147Q518 1085 412.5 1023Q307 961 223 930V1104Q374 1175 487 1276Q600 1377 647 1472H763Z"/></g>
<g transform="translate(382.4 486.4) rotate(-90)"><text class="t" text-anchor="middle"><tspan class="h">1</tspan></text><path class="o" transform="translate(-2.72 0) scale(0.00479 -0.00479)" d="M763 0H583V1147Q518 1085 412.5 1023Q307 961 223 930V1104Q374 1175 487 1276Q600 1377 647 1472H763Z"/></g>
<text transform="translate(382.4 543.55) rotate(-90)" class="t" text-anchor="middle">0.5</text>
<text transform="translate(382.4 600.7) rotate(-90)" class="t" text-anchor="middle">0</text>
<text transform="translate(382.4 657.85) rotate(-90)" class="t" text-anchor="middle">−0.5</text>
<g transform="translate(382.4 715) rotate(-90)"><text class="t" text-anchor="middle">−<tspan class="h">1</tspan></text><path class="o" transform="translate(0.14 0) scale(0.00479 -0.00479)" d="M763 0H583V1147Q518 1085 412.5 1023Q307 961 223 930V1104Q374 1175 487 1276Q600 1377 647 1472H763Z"/></g>
<text x="520" y="759" class="ax" text-anchor="middle">CPP (mmHg)</text>
<text transform="translate(364.7 588.9) rotate(-90)" class="ax" text-anchor="middle">PRx (coefficient)</text>
<rect x="636.8" y="489" width="18.8" height="246.1" fill="url(#cbD)"/>
<g transform="translate(670.6 490.5)"><text class="t" text-anchor="middle"><tspan class="h">1</tspan></text><path class="o" transform="translate(-2.72 0) scale(0.00479 -0.00479)" d="M763 0H583V1147Q518 1085 412.5 1023Q307 961 223 930V1104Q374 1175 487 1276Q600 1377 647 1472H763Z"/></g>
<text transform="translate(670.6 738.9)" class="t" text-anchor="middle">0</text>
<text x="384.6" y="446.3" class="big">D</text>
<text x="165.4" y="23.6" class="ttl" text-anchor="middle">16-64 years</text>
<text x="510.9" y="23.4" class="ttl" text-anchor="middle">≥65 years</text>
<circle cx="67.2" cy="87" r="0.8" fill="#c9a27a"/>
<rect x="683.2" y="119.4" width="1.8" height="0.9" fill="#c5d9f2"/>
<rect x="683.2" y="158.3" width="1.8" height="0.9" fill="#d5e3f5"/>
</g>
</svg>
</body></html>
